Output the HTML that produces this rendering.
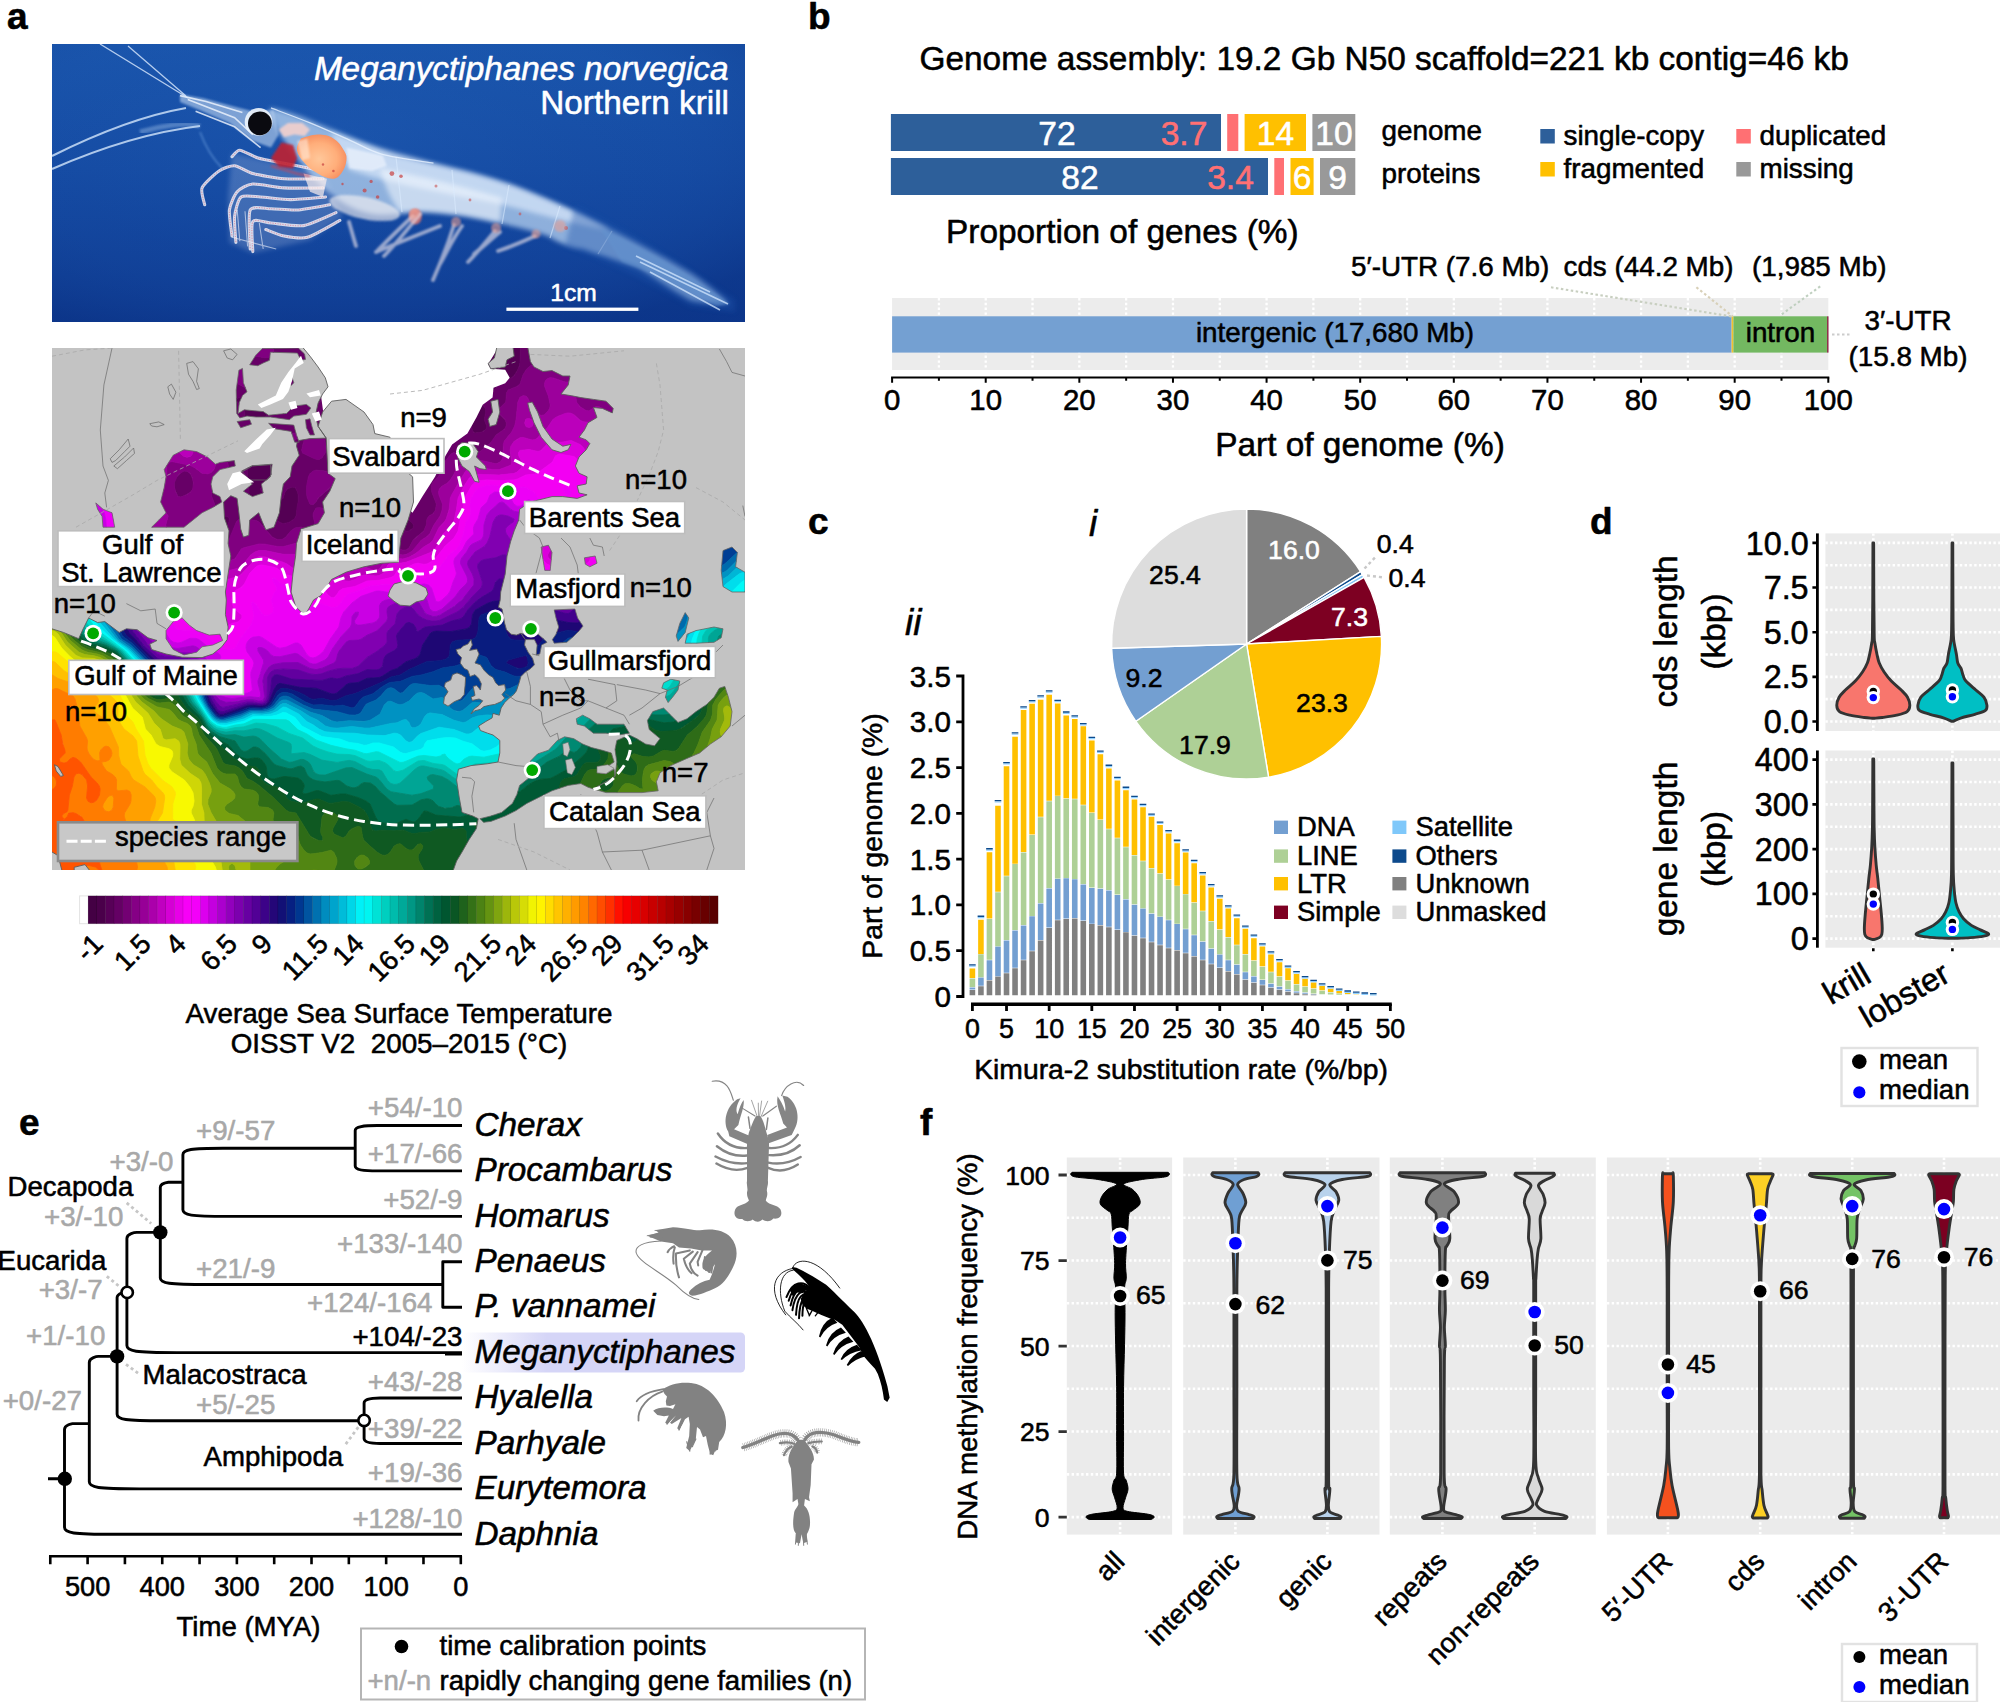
<!DOCTYPE html>
<html lang="en"><head><meta charset="utf-8"><title>Northern krill genome figure</title>
<style>
html,body{margin:0;padding:0;background:#fff;overflow:hidden}
svg{display:block}
text{font-family:"Liberation Sans",sans-serif;stroke-width:.55px;stroke-linejoin:round}
</style></head>
<body>
<svg width="2000" height="1702" viewBox="0 0 2000 1702">
<rect width="2000" height="1702" fill="#fff"/>
<g id="panel_a">
<text x="7" y="28.5" font-size="37" stroke="#000" font-weight="bold">a</text>
<defs><linearGradient id="pbg" x1="0" y1="0" x2="0" y2="1"><stop offset="0" stop-color="#1a56ad"/><stop offset="0.45" stop-color="#154ba3"/><stop offset="1" stop-color="#0e3b92"/></linearGradient><radialGradient id="pvg" cx="0.42" cy="0.35" r="0.75"><stop offset="0" stop-color="#2464bb" stop-opacity="0.3"/><stop offset="0.6" stop-color="#1a50a8" stop-opacity="0.1"/><stop offset="1" stop-color="#0a2f80" stop-opacity="0.45"/></radialGradient><radialGradient id="org" cx="0.45" cy="0.55" r="0.6"><stop offset="0" stop-color="#ffc79a"/><stop offset="0.6" stop-color="#ffae7a"/><stop offset="1" stop-color="#f58a5c"/></radialGradient><filter id="b0" x="-10%" y="-10%" width="120%" height="120%"><feGaussianBlur stdDeviation="0.6"/></filter><filter id="b1" x="-10%" y="-10%" width="120%" height="120%"><feGaussianBlur stdDeviation="1.1"/></filter><filter id="b2" x="-10%" y="-10%" width="120%" height="120%"><feGaussianBlur stdDeviation="2.4"/></filter><clipPath id="pclip"><rect x="52" y="44" width="693" height="278"/></clipPath></defs>
<g clip-path="url(#pclip)">
<rect x="52" y="44" width="693" height="278" fill="url(#pbg)"/>
<rect x="52" y="44" width="693" height="278" fill="url(#pvg)"/>
<path d="M270 108 C290 112 305 118 318 124 C350 136 372 148 396 156 C430 164 470 172 509 184 C540 196 570 209 602 225 C630 239 660 255 690 273 C705 283 720 295 728 303 C716 304 700 303 690 300 C672 290 655 278 639 268 C622 262 600 255 583 249 C570 247 560 244 548 236 C530 230 512 226 498 223 C480 219 465 215 452 214 C438 212 425 211 414 212 C400 214 386 216 372 214 C352 210 336 200 322 186 C306 172 290 150 280 134 C274 124 270 114 270 108 Z" fill="#c2dcf6" opacity="0.7" filter="url(#b2)"/>
<path d="M330 132 C370 146 420 160 470 172 C520 186 570 208 610 230 C580 226 540 214 500 204 C450 194 400 186 350 170 Z" fill="#e6f1ff" opacity="0.6" filter="url(#b2)"/>
<path d="M380 168 C420 176 470 188 502 198 L500 222 C470 216 430 210 400 212 C390 198 384 184 380 168 Z" fill="#f6faff" opacity="0.55" filter="url(#b2)"/>
<path d="M346.4 147.6L382.8 155.4L386.7 165.8L372.4 171L349 168.4Z" fill="#f4f8ff" opacity="0.6" filter="url(#b1)"/>
<path d="M396 157L402 212M452 170L456 214M509 185L502 224M560 206L550 238M612 231L598 254" fill="none" stroke="#dcecff" stroke-width="1.2" opacity="0.55"/>
<path d="M271 107.95C277.5 110.44 297 117.59 310 122.9C323 128.21 337.08 134.6 349 139.8C360.92 145 367.42 150.2 381.5 154.1C395.58 158 424.83 161.68 433.5 163.2" fill="none" stroke="#e8f2ff" stroke-width="1.3" opacity="0.8"/>
<path d="M600 228 C640 246 690 274 730 304 L716 306 C690 292 660 276 622 262 Z" fill="#8fbde9" opacity="0.45" filter="url(#b1)"/>
<path d="M575 205 C620 226 680 262 735 300 L735 312 L690 306 C650 282 610 262 565 246 Z" fill="#1a52aa" opacity="0.38" filter="url(#b2)"/>
<path d="M640 262L728 304M650 272L720 310M636 256L710 292" fill="none" stroke="#d4e8ff" stroke-width="1.6" opacity="0.75" filter="url(#b0)"/>
<path d="M180 94.3L203.4 98.2L232 106L252.8 111.2L273.6 109.9L278.8 134.6L271 147.6L252.8 141.1L229.4 122.9L199.5 109.9L180 102.1Z" fill="#cfe2f8" opacity="0.55" filter="url(#b1)"/>
<path d="M187.8 99.5L234.6 117.7L252.8 134.6M180 95.6L206 101.45L242.4 112.5M195.6 111.2L234.6 126.8L260.6 147.6" fill="none" stroke="#f2f7ff" stroke-width="1.6" opacity="0.8" filter="url(#b0)"/>
<path d="M232 152.8L323 173.6L342.5 216.5L310 239.9L252.8 252.9L229.4 242.5L228.1 197Z" fill="#e8eefc" opacity="0.2" filter="url(#b2)"/>
<path d="M316.5 169.7C312.71 168.94 290.82 164.56 284 163.2C277.18 161.83 263.16 159.52 258 158C252.84 156.48 242.83 150.35 239.8 150.2C236.77 150.05 232.91 155.94 232 156.7M323 178.8C318.45 178.8 292.19 179.41 284 178.8C275.81 178.19 258.56 175.12 252.8 173.6C247.04 172.08 238.54 166.1 234.6 165.8C230.66 165.5 222.79 168.42 219 171C215.21 173.58 203.77 183.96 202.1 187.9C200.43 191.84 204.4 202.83 204.7 204.8M323 187.9C318.45 187.9 292.19 188.35 284 187.9C275.81 187.44 258.26 183.54 252.8 184C247.34 184.46 239.93 188.77 237.2 191.8C234.47 194.83 230.01 204.84 229.4 210C228.79 215.16 231.7 232.97 232 236M325.6 197C321.5 197.3 298.08 199.6 290.5 199.6C282.92 199.6 266.36 197.3 260.6 197C254.84 196.7 244.13 194.72 241.1 197C238.07 199.28 235.21 211.19 234.6 216.5C233.99 221.81 235.75 239.47 235.9 242.5M329.5 204.8C325.71 205.41 303.82 209.55 297 210C290.18 210.45 276.46 208.7 271 208.7C265.54 208.7 252.63 205.3 250.2 210C247.77 214.7 250.2 244.45 250.2 249M336 212.6C332.21 214.12 311.08 224.39 303.5 225.6C295.92 226.81 276.92 223.46 271 223C265.08 222.54 254.92 218.36 252.8 221.7C250.68 225.04 252.8 248.11 252.8 251.6M339.9 220.4C336.11 222.37 313.92 235.48 307.4 237.3C300.88 239.12 288.85 236.91 284 236C279.15 235.09 267.92 230.26 265.8 229.5" fill="none" stroke="#f4f1f6" stroke-width="3.1" opacity="0.82" filter="url(#b0)" stroke-linejoin="round" stroke-linecap="round"/>
<path d="M316.5 169.7C312.71 168.94 290.82 164.56 284 163.2C277.18 161.83 263.16 159.52 258 158C252.84 156.48 242.83 150.35 239.8 150.2C236.77 150.05 232.91 155.94 232 156.7M323 178.8C318.45 178.8 292.19 179.41 284 178.8C275.81 178.19 258.56 175.12 252.8 173.6C247.04 172.08 238.54 166.1 234.6 165.8C230.66 165.5 222.79 168.42 219 171C215.21 173.58 203.77 183.96 202.1 187.9C200.43 191.84 204.4 202.83 204.7 204.8M323 187.9C318.45 187.9 292.19 188.35 284 187.9C275.81 187.44 258.26 183.54 252.8 184C247.34 184.46 239.93 188.77 237.2 191.8C234.47 194.83 230.01 204.84 229.4 210C228.79 215.16 231.7 232.97 232 236M325.6 197C321.5 197.3 298.08 199.6 290.5 199.6C282.92 199.6 266.36 197.3 260.6 197C254.84 196.7 244.13 194.72 241.1 197C238.07 199.28 235.21 211.19 234.6 216.5C233.99 221.81 235.75 239.47 235.9 242.5M329.5 204.8C325.71 205.41 303.82 209.55 297 210C290.18 210.45 276.46 208.7 271 208.7C265.54 208.7 252.63 205.3 250.2 210C247.77 214.7 250.2 244.45 250.2 249M336 212.6C332.21 214.12 311.08 224.39 303.5 225.6C295.92 226.81 276.92 223.46 271 223C265.08 222.54 254.92 218.36 252.8 221.7C250.68 225.04 252.8 248.11 252.8 251.6M339.9 220.4C336.11 222.37 313.92 235.48 307.4 237.3C300.88 239.12 288.85 236.91 284 236C279.15 235.09 267.92 230.26 265.8 229.5" fill="none" stroke="#e0607a" stroke-width="0.8" opacity="0.75" stroke-dasharray="1.1 1.4"/>
<path d="M232 237.3L276.2 249M237.2 210L239.8 241.2M245 211.3L247.6 246.4M259.3 223L263.2 249" fill="none" stroke="#eef2fb" stroke-width="1.1" opacity="0.6"/>
<ellipse cx="364.6" cy="208.05" rx="36" ry="11" transform="rotate(12 364.6 208.05)" fill="#f7f3f3" opacity="0.62" filter="url(#b1)"/>
<path d="M303.5 173.6L326.9 178.8L323 197L310 191.8Z" fill="#fbefee" opacity="0.7" filter="url(#b0)"/>
<ellipse cx="415.3" cy="216.5" rx="6.5" ry="8" fill="#f07868" opacity="0.75" filter="url(#b1)"/>
<path d="M278.8 129.4L287.9 122.9L302.2 122.9L310 129.4L304.8 135.9L294.4 134.6L284 137.2Z" fill="#f8d2cc" opacity="0.85" filter="url(#b1)"/>
<path d="M271 158L281.4 142.4L293.1 145L297 158L293.1 168.4L278.8 167.1Z" fill="#bf2233" opacity="0.9" filter="url(#b1)"/>
<path d="M271 165.8L297 173.6L310 176.2" fill="none" stroke="#d0404f" stroke-width="2.4" opacity="0.6" filter="url(#b1)"/>
<path d="M300.9 138.5C304.28 137.72 311.3 134.6 317.8 134.6C324.3 134.6 328.2 135.38 333.4 138.5C338.6 141.62 341.2 145.78 343.8 150.2C346.4 154.62 346.92 155.92 346.4 160.6C345.88 165.28 344.06 169.96 341.2 173.6C338.34 177.24 336.78 178.8 332.1 178.8C327.42 178.8 323.26 176.72 317.8 173.6C312.34 170.48 308.96 167.88 304.8 163.2C300.64 158.52 297.78 155.14 297 150.2C296.22 145.26 300.12 140.84 300.9 138.5Z" fill="url(#org)" filter="url(#b0)"/>
<path d="M297 141.1L307.4 138.5L310 158L302.2 160.6Z" fill="#fff0e2" opacity="0.55" filter="url(#b1)"/>
<circle cx="364.6" cy="190.5" r="2" fill="#c84040" opacity="0.7"/>
<circle cx="371.1" cy="181.4" r="1.6" fill="#c84040" opacity="0.7"/>
<circle cx="391.9" cy="173.6" r="2.4" fill="#c84040" opacity="0.7"/>
<circle cx="401" cy="176.2" r="1.8" fill="#c84040" opacity="0.7"/>
<circle cx="377.6" cy="197" r="1.8" fill="#c84040" opacity="0.7"/>
<circle cx="333.4" cy="171" r="1.3" fill="#c84040" opacity="0.7"/>
<circle cx="323" cy="164.5" r="1.2" fill="#c84040" opacity="0.7"/>
<circle cx="342.5" cy="184" r="1.2" fill="#c84040" opacity="0.7"/>
<circle cx="436" cy="186" r="1.5" fill="#c85050" opacity="0.6"/>
<circle cx="470" cy="200" r="1.4" fill="#c85050" opacity="0.6"/>
<circle cx="520" cy="214" r="1.4" fill="#c85050" opacity="0.6"/>
<circle cx="566" cy="228" r="2" fill="#c85050" opacity="0.6"/>
<path d="M413 216C400 228 388 240 378 250M420 214C410 226 396 244 384 256M454 225C448 244 440 264 433 280M462 226C452 240 446 254 440 264M495 231C486 242 476 254 468 262M535 236C522 242 510 247 498 251M500 232C490 240 482 248 474 254M349 222C352 232 354 240 356 246M376 252C400 242 420 234 440 226" fill="none" stroke="#ece4ec" stroke-width="3.8" opacity="0.62" filter="url(#b1)" stroke-linecap="round"/>
<circle cx="414" cy="214" r="5" fill="#f0a090" opacity="0.55" filter="url(#b1)"/>
<circle cx="456" cy="222" r="5" fill="#f0a090" opacity="0.55" filter="url(#b1)"/>
<circle cx="496" cy="228" r="5" fill="#f0a090" opacity="0.55" filter="url(#b1)"/>
<circle cx="536" cy="234" r="4.5" fill="#f0a090" opacity="0.55" filter="url(#b1)"/>
<circle cx="560" cy="226" r="6" fill="#f0a090" opacity="0.55" filter="url(#b1)"/>
<circle cx="258.6" cy="121.9" r="13.9" fill="#edf3fb" opacity="0.92"/>
<circle cx="259.9" cy="123.3" r="11.9" fill="#0a0a10"/>
<path d="M188 98L100 44M186 96L128 46" fill="none" stroke="#dcebff" stroke-width="1.3" opacity="0.8"/>
<path d="M186 108C140 116 96 134 52 156M200 126C150 132 100 148 52 169" fill="none" stroke="#d4e7fc" stroke-width="2" opacity="0.8" filter="url(#b0)"/>
<path d="M140 132C160 126 185 122 200 126" fill="none" stroke="#bcd8f6" stroke-width="5" opacity="0.35" filter="url(#b1)"/>
<path d="M200 132C206 148 214 160 222 168" fill="none" stroke="#5f93d6" stroke-width="2" opacity="0.6" filter="url(#b1)"/>
</g>
<text x="728.5" y="79.8" font-size="33.3" text-anchor="end" fill="#fff" stroke="#fff" font-style="italic">Meganyctiphanes norvegica</text>
<text x="729" y="114" font-size="33.3" text-anchor="end" fill="#fff" stroke="#fff">Northern krill</text>
<text x="573.5" y="300.5" font-size="24.6" text-anchor="middle" fill="#fff" stroke="#fff">1cm</text>
<rect x="506.4" y="307.6" width="132" height="3.3" fill="#fff"/>
<defs><clipPath id="mapclip"><rect x="52" y="348" width="693" height="522"/></clipPath>
<clipPath id="inl"><path d="M164.2 469.6L173.2 455.2L184 449.8L196.6 451.6L207.4 457L215.5 464.2L220 462.4L234.4 460.6L235.3 466L220 469.6L212.8 476.8L211 484L212.8 493L220 496.6L221.8 502L212.8 507.4L202 512.8L193 520L184 527.2L151.6 527.2L158.8 520L166 512.8L160.6 502L164.2 487.6L166 476.8ZM95.8 502.9L103 509.2L112 512.8L114.7 527.2L103 527.2L102.1 516.4L97.6 509.2ZM239.8 473.2L252.4 466L272.2 464.2L270.4 476.8L261.4 484L263.2 493L252.4 496.6L243.4 491.2L252.4 484L243.4 476.8ZM249.7 364.8L256 354.9L262.3 348.6L298.3 348.1L304.6 354L305.5 359.4L301 360.3L297.4 353.1L270.4 352.2L269.5 360.3L263.2 363L257.8 365.7ZM236.2 390L238.9 370.2L242.5 368.4L243.4 382.8L247 391.8L242.5 395.4L239.3 402.6L238 413.4L244.3 409.8L263.2 411.6L268.6 415.2L286.6 413.4L293.8 406.2L306.4 404.4L310.9 408L306.4 414.3L293.8 416.1L289.3 419.7L270.4 417L256 417L247 416.1L239.8 417.9L236.7 413.4ZM268.6 423.3L293.8 425.1L296.5 435L299.2 442.2L294.7 442.2L291.1 431.4L274 428.7ZM305.5 419.7L310 418.8L311.8 426L314.5 435L310 435L306.4 427.8ZM241.6 471L252.4 465.6L270.4 464.7L271.3 474.6L266.8 480L249.7 480ZM237.1 421.5L249.7 419.7L251.5 424.2L240.7 427.8ZM288.4 379.2L292 377.4L293.8 382.8L291.1 385.5ZM166 630.6L173.2 621.6L182.2 618L189.4 625.2L196.6 630.6L209.2 635.1L220 634.2L222.7 640.5L212.8 645L202 646.8L196.6 652.2L184 654.9L173.2 649.5L166 638.7ZM480 818.7L490.8 816L501.6 812.4L512.4 803.4L516.9 794.4L519.6 785.4L528.6 778.2L531.3 770.1L530.4 761.1L537.6 753.9L548.4 750.3L557.4 740.4L564.6 736.8L573.6 738.6L582.6 744L591.6 747.6L602.4 750.3L611.4 753L614.1 762L608.7 765.6L598.8 767.4L597 772.8L606 773.7L614.1 769.2L615 776.4L606 781.8L593.4 789L588 787.2L580.8 783.6L568.2 785.4L552 790.8L541.2 796.2L526.8 803.4L516 810.6L505.2 816L490.8 821.4L483.6 822.3ZM593.4 789L606 781.8L615 776.4L616.8 762L615 749.4L616.8 740.4L629.4 735L636.6 738.6L645.6 744L654.6 745.8L660 738.6L649.2 729.6L647.4 720.6L652.8 711.6L663.6 708L670.8 715.2L678 722.4L687 718.8L696 711.6L706.8 704.4L714 697.2L719.4 688.2L724.8 686.4L728.4 697.2L732 711.6L730.2 726L721.2 736.8L710.4 744L699.6 753L687 758.4L670.8 765.6L660 772.8L656.4 781.8L658.2 790.8L642 792.6L624 792.6L606 792.6ZM576.3 718.8L582.6 715.2L589.8 718.8L597 724.2L609.6 724.2L624 724.2L629.4 733.2L618.6 735L606 733.2L593.4 733.2L584.4 726L577.2 724.2ZM554.2 609.9L574.9 609L577.6 618L583 626.1L579.4 630.6L574 636L566.8 642.3L554.2 643.2L552.4 639.6L556 634.2L558.7 627L556 618ZM520.9 633.3L530.8 636L538 634.2L544.3 639.6L547 642.3L541.6 645L539.8 654L536.2 654.9L537.1 645L534.4 639.6L525.4 639.6ZM541.2 547L548.4 545.2L552 552.4L550.2 570.4L544.8 570.4L543 559.6ZM584.4 557.8L595.2 556L597 563.2L589.8 566.8L585.3 564.1ZM723 550.6L732 547L737.4 552.4L735.6 566.8L745 572.2L745 592L732 592L723 586.6L721.2 570.4ZM685.2 612.6L688.8 618L685.2 632.4L678 641.4L676.2 636L679.8 623.4ZM687 634.2L696 630.6L714 627L723 628.8L721.2 637.8L714 642.3L696 643.2L685.2 643.2ZM663.6 682.8L670.8 679.2L679.8 681L678 690L672.6 697.2L668.1 702.6L665.4 697.2L667.2 690L661.8 688.2Z"/></clipPath>
<g id="fld" fill-rule="evenodd" stroke-width="0.8" stroke-linejoin="round"><path fill="#440044" stroke="#440044" d="M379 342L384.6 342L385.7 348L389.2 354L388 355.3L385 356L379 348.9L377.4 342L379 342ZM409 342L414.5 342L412 346L409 347.9L406.9 345L406.6 342L409 342ZM457 342L468.7 342L467.1 348L467.1 357L466.4 360L463 367.2L460 371.6L457 374.4L454 373.3L451 370.4L447.5 366L446.1 363L446.1 360L447.4 357L455 348L456.5 345L457 342ZM487 354.7L489.5 357L489.6 360L487 362.2L484.8 360L485 357L487 354.7ZM367 359L370 358L379 358.8L380.7 360L380 363L377.2 366L373 367.7L370 366.9L366.9 363L366.3 360L367 359ZM433 362.8L435.3 366L434.8 369L431.8 372L430 372.7L427 372.2L426.4 372L426.7 369L428.1 366L430 363.2L433 362.8ZM406 371.4L412 369.2L415 369.4L422 372L423.5 375L422.1 378L419.9 381L415 385.3L412 386.8L409 387.2L406 385.5L403.7 381L403 378L403.2 375L406 371.4ZM451 377.7L457 375.7L460 376.9L463 379.1L464.3 381L464.9 384L462.8 390L457 397.7L454 400L451 400.8L448 400.5L444.7 399L442.6 396L441.4 390L441.9 384L443.9 381L451 377.7Z"/><path fill="#540054" stroke="#540054" d="M283 342L287.1 342L286 343.4L283 343.4L282.4 342L283 342ZM307 342L324.6 342L323.6 345L319 349.6L313 352.4L310 351.6L307 349.2L304.8 345L304.2 342L307 342ZM340 343.3L341.9 342L377.4 342L379 348.9L385 356L388 355.3L389.2 354L385.7 348L384.6 342L406.6 342L406.9 345L409 347.9L412 346L414.5 342L441.3 342L442 345.1L443.6 342L457 342L456.5 345L455 348L447.4 357L446.1 360L446.1 363L447.5 366L451 370.4L454 373.3L457 374.4L460 371.6L463 367.2L466.4 360L467.1 357L467.1 348L468.7 342L520.5 342L520 363L518.2 369L514 375.7L511 378.3L502 380.1L500.6 381L499 382.4L494.7 390L493 391.7L490 392.7L487 392.2L478 385.4L475 385.5L471.6 390L470.8 396L472 397.9L481 403.1L485.2 408L485.8 411L484.4 420L486.7 426L486.1 429L482 432L475 433.1L473.4 432L472 429.5L471 423L469.7 420L466 415.1L463 413.1L460 412.8L456.5 414L452.3 420L448 421.8L445 424.7L443.9 429L443.3 438L442 444.7L439 452.5L433 458.8L427 462.1L424 462.5L422.8 456L421 452.5L400 443.1L397 443.5L396 447L398.7 456L400.6 468L400.6 471L399.1 474L397 475.8L391 478.3L382 479.2L379 479.1L376 477.9L370 470.1L361 466.7L352 460.5L348.7 456L349.7 453L352 451.5L358 450.2L360.5 447L360.4 444L358 435L358.6 432L362.3 426L362.6 423L361 421.5L355 418.3L349.9 414L344.6 408L341 399L338.3 396L334 393.8L331 393.4L328 394L325 396L319 402.4L316 404L313 403.3L296.8 381L298 378.3L301 377.5L313 376L322 377.6L331 377.6L334 376.6L336 375L337.8 372L338 369L331.2 357L330.4 354L330.5 351L332.4 348L340 343.3ZM485 357L484.8 360L487 362.2L489.6 360L489.5 357L487 354.7L485 357ZM366.3 360L366.9 363L370 366.9L373 367.7L376 366.8L379 364L380 363L380.7 360L379 358.8L370 358L367 359L366.3 360ZM431.1 363L430 363.2L428.1 366L426.7 369L426.4 372L430 372.7L433 371.4L434.8 369L435.3 366L433 362.8L431.1 363ZM405.2 372L403.2 375L403 378L403.7 381L406 385.5L409 387.2L412 386.8L416.7 384L419.9 381L423.5 375L422 372L415 369.4L412 369.2L409 369.9L405.2 372ZM450.5 378L445 380.1L442 383.8L441.3 387L442 394L444.7 399L448 400.5L451 400.8L455.4 399L463 389.6L464.9 384L464.3 381L463 379.1L460 376.9L457 375.7L450.5 378ZM356.8 381L356 384L358 385.7L361 386L365.1 384L365 381L364 380.1L361 379.2L356.8 381ZM374.4 399L372 405L372.3 408L376 409.9L379 409.6L382 408.2L383.9 405L383.6 402L382 399.2L379 397.1L376 397.4L374.4 399ZM397.6 423L393.8 426L392.8 429L397 433.9L400 432.7L401.9 429L402.2 426L401.3 423L400 421.6L397.6 423ZM375.3 459L373.9 462L374.4 465L376 466L379.1 465L380.7 462L380.7 459L379 457L375.3 459ZM250 395.9L256 395.9L262 397.4L271 396.1L274 397.1L277 399.7L283.8 408L284.4 411L283 414.6L280 414.6L274 412.3L271 412.2L267.3 414L265.3 417L262 419.1L256 418.6L247 420.7L244 420.1L245 414L244.4 411L242.8 408L237.4 402L235.7 399L238 397.9L250 395.9ZM265 458.4L268 458L271 459.8L272.8 462L278.7 471L279.9 477L279.3 480L277 483L268 483.6L262.6 486L260.4 489L261.7 492L268 495.9L277 499.3L280 499.8L283 498.4L285 492L287.3 489L292 487L295 487.6L297.6 492L298.2 495L298.3 501L296.9 510L296.1 516L294.2 519L289 522.4L283 523.7L279.3 522L268 512.9L262 511L248.2 510L244.5 507L245 504L247.7 498L249.1 492L247.1 471L248.3 465L250 461.6L253 459.8L259 459.7L265 458.4ZM394 488.5L397 486.9L400 487.1L403.4 489L405.2 492L406 495L405.9 498L403 501.2L400 500.4L397 498.4L393.5 495L392.6 492L394 488.5ZM376 495.2L379 495.2L382.3 498L383 501L382 503.9L379 505.9L376 506.4L373.4 504L373 500.9L374 498L376 495.2ZM400 513L403 514.3L412 522.7L413.5 525L413.2 528L408.7 531L406 531.2L403 529.5L396 522L395.1 519L395.7 516L397 514L400 513ZM223 518.7L226 516.1L229 517.5L229.3 519L229 522L226.6 528L223.1 534L220 535.9L217.4 534L217.7 531L223 518.7Z"/><path fill="#670067" stroke="#670067" d="M220 342L223 342L221.7 345L220 345.7L218.5 342L220 342ZM277 342L282.4 342L283 343.4L286 343.4L287.1 342L304.2 342L304.8 345L307 349.2L310 351.6L313 352.4L316 351.4L321 348L323.6 345L324.6 342L341.9 342L332.4 348L330.5 351L330.4 354L331.2 357L338 369L337.8 372L336 375L334 376.6L331 377.6L322 377.6L313 376L301 377.5L298 378.3L296.8 381L313 403.3L316 404L319 402.4L325 396L328 394L331 393.4L334 393.8L338.3 396L341 399L344.6 408L349.9 414L355 418.3L361 421.5L362.6 423L362.3 426L358.6 432L358 435L360.4 444L360.5 447L358 450.2L352 451.5L349.7 453L348.7 456L352 460.5L361 466.7L370 470.1L376 477.9L379 479.1L382 479.2L388 478.8L394 477.3L399.1 474L400.6 471L398.7 456L396 447L397 443.5L400 443.1L421 452.5L422.8 456L424 462.5L427 462.1L433 458.8L439 452.5L442 444.7L443.3 438L443.9 429L445 424.7L448 421.8L452.3 420L456.5 414L460 412.8L463 413.1L466 415.1L469.7 420L471 423L472 429.5L473.4 432L475 433.1L481 432.3L484 430.9L486.1 429L486.7 426L484.4 420L485.8 411L485.2 408L481 403.1L472 397.9L470.8 396L470.7 393L472 389.1L475 385.5L478 385.4L487 392.2L490 392.7L493 391.7L496 388L499 382.4L500.6 381L502 380.1L511 378.3L514 375.7L517 371.3L519.4 366L520 363L520.5 342L544 342L541.1 351L535.8 357L535.2 363L529 366.8L526 369.9L523 375L520 384L517 386.4L508.2 390L506.5 393L505.8 402L499.8 408L498.7 411L499.5 414L505.3 420L506.4 423L506.2 426L504.6 429L496.1 435L492.1 441L490 443.6L478.2 453L463 456.3L460 455.9L454 452.5L451 454L445 461.4L442.8 465L440.1 474L438.1 477L433 482L431.4 486L431.8 492L436.4 504L435.5 510L433 513.7L428.9 516L427 519L426.3 525L423.8 531L415 538L413.2 540L409 548L406 549.9L403 550.2L400 549.3L394 544.8L391 543.8L382 546.9L379 546L373.5 540L369.8 534L361 527L359.4 522L359.3 510L358 509.6L352 512.7L349 513L346 511.4L343 507.3L340 504.9L337 505.1L331 508.2L328 508.8L319 507.7L316 508L313.3 513L313.1 516L315.2 525L313.7 528L310 529.5L301 527.1L295 528L290.7 531L285.9 537L283 539.1L280 539.8L277 539.4L272.2 537L259 521.9L256 520.5L241 518.4L238 519.9L236.4 522L230.4 537L226 543.4L223 545.3L220 545.9L214 545.4L211 544.2L206.1 540L206 537L211.2 525L214.5 510L214.6 504L211.1 495L211.9 492L217 485.5L226 479.1L228.5 471L228.6 468L227.2 459L229 454.8L238 445.1L239.8 444L241 441.6L247 443L250 442.2L252.3 438L251.4 435L250 434.8L244.2 438L241 440.8L238 440.3L232 435.8L226.2 426L220.9 420L220 417.9L219.7 414L220.9 408L219.6 405L208 393.4L202 393.6L200.5 393L199 391.4L199 388.2L202 385.7L207.2 390L208 391.8L211 390.9L220 385.5L232 381.8L235 382.3L244 387.1L247 388L253 388.1L259.6 387L263.7 384L263.5 381L253 374.1L247.1 369L245.2 366L245.8 363L250 359L253 357.1L256 356.3L265 357.7L273 357L274.5 342L277 342ZM274.3 360L272.7 372L273.4 378L277 380L280 379.3L281.4 378L283 376.3L284.6 372L283.3 360L280 357.6L277 357.5L274.3 360ZM249.5 396L238 397.9L235.7 399L237.4 402L242.8 408L244.4 411L245 414L244 420.1L247 420.7L256 418.6L262 419.1L265 417.5L267.3 414L271 412.2L274 412.3L280 414.6L283 414.6L284.4 411L283.8 408L277 399.7L274 397.1L271 396.1L262 397.4L256 395.9L249.5 396ZM301 426L301.2 426L301 426ZM324.3 426L322.6 435L319 436.7L307 436.8L305.2 438L303 444L301.7 450L302.5 453L315.6 459L319 459.4L322 457.7L325.2 453L325.9 447L324.3 438L328 432.6L328.7 429L327.1 426L325 424.8L324.3 426ZM283.5 435L278.9 438L278.2 441L280 444.6L283 445.6L286 445.3L292 442.8L297.2 438L298.6 435L298 434.1L295 433.1L292 433.2L283.5 435ZM262.9 459L253 459.8L250 461.6L248.3 465L247.1 471L249.1 492L247.7 498L245 504L244.5 507L248.2 510L262 511L268 512.9L279.3 522L283 523.7L289 522.4L294.2 519L296.1 516L297.1 507L298.3 501L298.2 495L297.6 492L295 487.6L292 487L287.3 489L285 492L283 498.4L280 499.8L277 499.3L268 495.9L261.7 492L260.4 489L262.6 486L268 483.6L277 483L279.3 480L279.9 477L278.7 471L271 459.8L268 458L262.9 459ZM313.5 471L310 473.6L308.4 477L306.4 489L307 496.9L310 504L313 504.7L316 501.8L319 497.2L328.8 489L334 483L335.8 477L335.3 474L334 472.7L331 471.8L319 470.3L316 470.2L313.5 471ZM393.6 489L392.6 492L393.5 495L400 500.4L403.4 501L405.9 498L406 495L405.2 492L403.4 489L400 487.1L397 486.9L393.6 489ZM358.1 492L358.3 495L361 502.1L361.4 501L364 499.4L364.9 495L364 491.3L361 490.6L358.1 492ZM374 498L373 501L373.4 504L376 506.4L379 505.9L382 504L383 501L382.3 498L379 495.2L376 495.2L374 498ZM400 513L397 514L395.7 516L395.1 519L396 522L403 529.5L406 531.2L409 531L413.2 528L413.5 525L412 522.7L403 514.3L400 513ZM222.8 519L217.7 531L217.4 534L220 535.9L223 534.1L224.9 531L229 522L229.3 519L229 517.5L226 516.1L222.8 519ZM442 342L443.6 342L442 345.1L441.3 342L442 342ZM559 342L574.5 342L572.6 348L570.3 351L565 354.9L562 351.9L558.3 342L559 342ZM598 342L615.5 342L613.1 351L610 353.9L607 355L604 354.9L601 352.3L597.3 345L596.5 342L598 342ZM562 356.9L563 360L562 362.9L559 364.6L556.9 363L558.4 360L562 356.9ZM358 380L361 379.2L364 380.1L365 381L365.1 384L364 384.9L361 386L358 385.7L356 384L356.8 381L358 380ZM601 382.6L604 381.3L613 382.3L616 383.5L619 385.8L621.3 390L620.8 396L619 399.4L616 400L604.9 396L598 393.2L589 397.3L585.9 396L585.7 393L587.9 390L589 389.2L592 388.7L595 389.2L598 387.2L601 382.6ZM376 397.4L379 397.1L382 399.2L383.6 402L383.9 405L382.3 408L379 409.6L376 409.9L372.3 408L372 405L372.8 402L376 397.4ZM400 421.6L401.3 423L402.2 426L401.9 429L400.4 432L397 433.9L394.8 432L392.8 429L393.8 426L400 421.6ZM376 458.2L379 457L380.7 459L380.7 462L379 465.1L376 466L374.4 465L373.9 462L376 458.2ZM181 472.4L184 471L187 471.3L190.6 474L192.9 480L193.4 486L192.7 489L190.6 492L185.6 495L181 497.1L178 496.6L174.8 489L174.2 483L175.2 480L176.8 477L181 472.4ZM199 518.5L202 517.7L203.5 519L202 520.4L199 519.6L199 518.5ZM340 521.2L343 520.6L346 521.1L352.5 528L352.7 531L348.2 534L342.6 534L337.4 531L334.9 528L334.9 525L337 522.7L340 521.2Z"/><path fill="#800080" stroke="#800080" d="M178 342L186.8 342L186.4 345L184 348.5L181 346.8L178 343.9L176.5 342L178 342ZM214 342L218.5 342L220 345.7L221.7 345L223 342L232.9 342L235 347.1L238 349.7L239.8 348L238.9 342L259.9 342L262 346.1L265 347.1L267.5 345L268.5 342L274.5 342L273 357L265 357.7L256 356.3L253 357.1L250 359L245.8 363L245.2 366L247.1 369L253 374.1L263.5 381L263.7 384L259.6 387L253 388.1L247 388L244 387.1L235 382.3L232 381.8L220 385.5L211 390.9L208 391.8L207.2 390L202 385.7L199 388.2L199 391.4L200.5 393L202 393.6L208 393.4L219.6 405L220.9 408L219.7 414L220 417.9L220.9 420L226.2 426L232 435.8L238 440.3L241 440.8L244.2 438L250 434.8L251.4 435L252.3 438L250 442.2L247 443L241 441.6L239.8 444L238 445.1L229 454.8L227.2 459L228.6 468L228.5 471L226 479.1L217 485.5L211.9 492L211.1 495L214.6 504L214.5 510L211.2 525L206 537L206.1 540L209 543L214 545.4L220 545.9L223 545.3L226 543.4L229 539.5L236.4 522L238 519.9L241 518.4L256 520.5L259 521.9L272.2 537L277 539.4L280 539.8L283 539.1L285.9 537L290.7 531L295 528L301 527.1L310 529.5L313.7 528L315.2 525L313.1 516L313.3 513L316 508L319 507.7L328 508.8L331 508.2L337 505.1L340 504.9L343 507.3L346 511.4L349 513L352 512.7L358 509.6L359.3 510L359.4 522L361 527L369.8 534L373.5 540L379 546L382 546.9L391 543.8L394 544.8L399.3 549L403 550.2L406 549.9L409 548L413.2 540L423.8 531L426.3 525L427 519L428.9 516L433 513.7L435.5 510L436.4 504L431.8 492L431.4 486L433 482L438.1 477L440.1 474L442.8 465L444.5 462L451 454L454 452.5L460 455.9L463 456.3L478.2 453L490 443.6L496.1 435L504.6 429L506.2 426L506.4 423L505 419.5L499.5 414L498.7 411L499.8 408L505.8 402L506.5 393L508.2 390L517 386.4L520 384L523 375L526 369.9L529 366.8L535.2 363L535.8 357L541.1 351L544 342L558.3 342L562 351.9L565 354.9L571 350.5L574 345L574.5 342L580.5 342L580.9 348L582.9 357L581.7 360L574 364.9L570.4 369L569.7 372L571.2 378L570.4 381L568 382.1L565 382L553 377.9L550 377.7L547 379L545.3 381L544.5 384L544.9 387L548.4 396L550.3 405L549.8 408L548.1 411L544 415L541 415.5L535 411.7L531.5 408L528.3 399L526 396.1L523 395.8L520 397.3L517.9 402L516 420L514.7 426L511.7 432L504.4 441L503.1 447L503.2 456L502.4 459L500.1 462L496 463.8L481 460.5L475 460.5L467.9 462L460 465.3L456.7 468L454 474.2L450.3 480L447.4 483L442 486.3L439.4 489L438.6 492L439 495L442.5 504L442.1 510L440.1 516L433.9 525L429.6 534L427 536.5L421 540.4L414.4 549L409 553.4L403 555L391 553.2L385 555.8L376 561.4L373 561.4L364 558.9L357.2 558L355 556.1L354.5 555L358.2 549L358.4 546L356.8 543L355 541.8L352 541L346 541.7L342.2 543L338.9 546L337 549.1L334 551.3L322 548.5L319 549.2L313 552.2L310 552.3L307 551.1L298 544.3L295 543.5L283 546.7L277 546.4L265 544.2L259 544L244 547.7L241.3 549L235 558.7L232 560.1L226 561.1L221.7 561L217 559.9L208 556.6L199 551.8L196 551.1L190 551.9L181 556L178 555.5L173.7 552L171.9 549L171.2 546L171.2 537L166.4 528L165.7 525L168.2 516L166.1 513L157 508.8L155 507L153.4 504L153.5 501L155 498L162.9 492L164.2 489L166.7 474L166.8 465L169 462.2L172 461.6L187 464.6L193 466.6L202 473.2L208 473.8L211 472.5L214 469.4L218.7 456L223.2 450L224.5 447L223.8 444L223 443.2L217 439.8L215.5 438L214.7 432L213.6 429L208 421.5L206.2 420L201.6 411L196 406.8L193 403.2L191.1 399L189.8 393L190.5 378L191.7 375L196 370L199 368.2L202 367.9L211 369.4L214 369.1L217.6 366L217.7 363L212 348L211.7 342L214 342ZM561.9 357L558.4 360L556.9 363L559 364.6L561.9 363L563 360L561.9 357ZM179.2 474L176.8 477L174.2 483L174.2 486L175.7 492L178 496.6L181 497.1L187 494.4L190.6 492L192.7 489L193.4 483L192.1 477L190 473.3L187 471.3L184 471L179.2 474ZM198.7 519L202 520.4L203.5 519L202 517.7L198.7 519ZM338.1 522L334.9 525L334.9 528L337.4 531L343 534.1L349 533.7L352.7 531L352.5 528L349 523.7L346 521.1L343 520.6L338.1 522ZM592 342L596.5 342L598 346.8L601 352.3L604 354.9L607 355L610 353.9L613 351.2L615.5 342L623.2 342L624.7 348L630.9 354L631.5 357L628.9 363L628 366L628.1 369L629.1 372L631 374.9L637 381.1L638.4 384L638.3 387L635.6 393L633.7 402L626.7 414L625 417.7L622.5 420L619 421L616 420.8L608.6 417L605.3 414L601 407.4L598 406.3L595 407.1L589 410.9L586 410.5L580 406.7L576.4 402L575.8 396L578.4 387L580.2 384L586 377.5L588.5 372L588.2 366L584 357L586 356.5L589 349.3L589.3 342L592 342ZM599.7 384L598 387.2L595 389.2L592 388.7L589 389.2L587.9 390L585.7 393L585.9 396L589 397.3L598 393.2L607 396.8L616 400L619 399.4L621.5 393L621.3 390L620 387L616 383.5L610 381.7L604 381.3L601 382.6L599.7 384ZM277 357.5L280 357.6L283 359.4L284.4 366L284.6 372L283.7 375L280 379.3L277 380L274 378.6L272.6 375L274.3 360L277 357.5ZM193 419.5L196 418.2L199.5 420L199 420.6L196 421.4L193 420.1L193 419.5ZM301 426L301 426.1L301 426ZM325 424.8L328 426.9L328.7 429L328 432.6L324.3 438L325.9 447L325.2 453L322 457.7L319 459.4L316 459.2L313 458L302.5 453L301.7 450L304 440.4L305.2 438L307 436.8L319 436.7L322.6 435L323.5 429L325 424.8ZM286 434.3L295 433.1L298 434.1L298.6 435L297.2 438L294.4 441L290.1 444L283 445.6L279.4 444L278.2 441L278.9 438L283 435.2L286 434.3ZM316 470.2L331 471.8L334 472.7L335.3 474L335.8 477L334 483L331.7 486L318.1 498L316 501.8L313 504.7L310 504L307.3 498L306.4 492L306.6 486L308.4 477L309.7 474L313 471.1L316 470.2ZM361 490.6L364 491.3L364.9 495L364 499.4L361.4 501L361 502.1L358.3 495L358.1 492L361 490.6Z"/><path fill="#9c009c" stroke="#9c009c" d="M148 342L176.5 342L181 346.8L184 348.5L186.4 345L186.8 342L202 342.5L211.7 342L212.8 351L217.7 363L217.6 366L214.3 369L211 369.4L202 367.9L199 368.2L194 372L191.7 375L190.5 378L189.8 393L191.1 399L193 403.2L196 406.8L201.6 411L206.2 420L208 421.5L213.6 429L214.7 432L215.5 438L217 439.8L223.8 444L224.5 447L223.2 450L218.7 456L214 469.4L211 472.5L208 473.8L202 473.2L195.2 468L190 465.3L172 461.6L169 462.2L166.8 465L166.7 474L164.2 489L162.9 492L157 496.1L155 498L153.5 501L153.4 504L155 507L157 508.8L166.1 513L168.2 516L165.7 525L166.4 528L171.2 537L171.2 546L171.9 549L175 553.5L178 555.5L181 556L190 551.9L196 551.1L199 551.8L208 556.6L217 559.9L221.7 561L226 561.1L232 560.1L235 558.7L241.3 549L244 547.7L259 544L265 544.2L277 546.4L283 546.7L295 543.5L298 544.3L307 551.1L310 552.3L313 552.2L319 549.2L322 548.5L334 551.3L337 549.1L338.9 546L342.2 543L346 541.7L352 541L355 541.8L356.8 543L358.4 546L358.2 549L354.5 555L357.2 558L364 558.9L373 561.4L376 561.4L385 555.8L391 553.2L402.6 555L406 554.6L412 551.3L421 540.4L427 536.5L430 533.4L433.9 525L440.1 516L442.1 510L442.5 504L439 495L438.6 492L439.4 489L442 486.3L447.4 483L450.3 480L454 474.2L456.7 468L460.3 465L472 460.9L481 460.5L496 463.8L499 462.8L502 459.7L503.2 456L503.4 444L504.4 441L511.7 432L514.7 426L516 420L517.9 402L520 397.3L523 395.8L526 396.1L528.3 399L531.5 408L535 411.7L541 415.5L544 415L548.1 411L549.8 408L550.3 405L548.4 396L544.9 387L544.5 384L545.3 381L547 379L550 377.7L553 377.9L565 382L568 382.1L570.4 381L571.2 378L569.7 372L570.4 369L574 364.9L581.7 360L582.9 357L580.9 348L580.5 342L589.3 342L589 349.3L586 356.5L584 357L588.2 366L588.7 369L587.6 375L578.4 387L575.8 396L576.4 402L580 406.7L586 410.5L589 410.9L595 407.1L598 406.3L601.5 408L605.3 414L608.6 417L613.7 420L619 421L622.5 420L625 417.7L628 410.9L633.7 402L635.6 393L638.3 387L638.4 384L637 381L629.1 372L628 366L631.5 357L630.9 354L624.7 348L623.2 342L647.9 342L648.5 345L650.2 348L655.6 354L655.8 357L654.3 360L651.9 363L644.8 369L644.4 372L649.3 381L649.5 387L645.8 396L642.1 408L636.5 414L632.4 423L616 429.1L613 429.5L604 428.4L601 427.5L593.5 423L583 421.7L580 420.2L574 414.7L571 413.3L568 412.9L559 415.8L553 419.4L547 428.3L541 433.5L537.6 438L535 439.7L532 440L523 437.4L520 437.8L517 439.2L514 441.6L510.5 447L510.2 453L511.9 462L511 465.1L499 469.7L493 469.7L475 466.8L469 468.3L465.7 471L458.3 483L450.3 498L449.7 507L446.2 519L444.3 522L438.7 528L433.2 540L430 543.2L424 546.8L417.9 552L409 557.3L403 559L394 558.2L388 559.5L385 561.7L379 569.2L376 570.3L373 570L364 566.7L358 566.2L354.3 567L349 570.7L346 571.5L331 562.5L325 562.1L316 565.8L313 565.8L308.9 564L298 555.6L295 554.4L283 554.3L265 550.5L259 550.5L255 552L250.6 555L243.5 564L238 568.3L226 571.6L208 579.8L205 580L196 578.3L190 578.4L184 576.2L178 571L160.4 546L152.6 528L151.9 516L147.2 504L147.4 498L148.6 495L156.9 486L158.2 483L159 477L158.1 474L154.2 468L155.3 462L158.8 456L166 450.9L172 448.3L175 448.7L184 456.5L187 457.2L190 456.8L191.2 456L192.9 453L193 450L190 442.1L187 439.8L178 439.3L173.4 432L169 427.3L160 425.1L157 422.5L153.1 417L152.1 411L153.5 402L162 393L162.7 390L161.4 384L161.9 381L163.9 378L170.3 372L171.4 369L171.9 363L171.4 360L169 356.3L166 355.9L157 357.3L154 355.8L148 342ZM175.9 387L172.7 390L171.9 393L173.7 396L178 399.2L181 398.3L181.6 396L181.6 390L181 388.2L179.8 387L178 386.2L175.9 387ZM192.8 420L196 421.4L199.5 420L196 418.2L192.8 420ZM525.4 420L524.7 423L526 426.6L529 427.6L532.5 426L533.3 423L532 419.9L529 418.4L526 419.1L525.4 420ZM235 342L238.9 342L239.8 348L238 349.7L235 347.1L232.9 342L235 342ZM262 342L268.5 342L267.5 345L265 347.1L262 346.1L259.9 342L262 342ZM673 367.2L676 368.1L677.9 372L677.7 375L676 376.8L673 376.1L670 372L671 369L673 367.2ZM595 440L596 441L595 441.7L594.2 441L595 440Z"/><path fill="#bb00bb" stroke="#bb00bb" d="M142 342L147.7 342L154 355.8L157 357.3L166 355.9L169 356.3L171.4 360L171.9 363L171.4 369L170.3 372L163.9 378L161.9 381L161.4 384L162.7 390L162 393L153.5 402L152.1 411L153.1 417L157 422.5L160 425.1L169 427.3L173.4 432L178 439.3L187 439.8L190 442.1L193 450L192.9 453L191.2 456L187 457.2L183.2 456L175 448.7L172 448.3L163 452.7L160 454.8L156.6 459L154.4 465L154.2 468L158.1 474L159 477L159 480L156.9 486L148.6 495L147 501L147.9 507L151.9 516L152.6 528L154 532.3L162.1 549L174.7 567L180 573L184 576.2L190 578.4L196 578.3L205 580L211 578.8L217 575.3L229 570.5L238 568.3L243.5 564L250.6 555L255 552L259 550.5L265 550.5L283 554.3L295 554.4L298 555.6L308.9 564L313 565.8L316 565.8L325 562.1L331 562.5L346 571.5L349 570.7L354.3 567L358 566.2L364 566.7L373 570L376 570.3L379 569.2L385 561.7L388 559.5L394 558.2L403 559L409 557.3L415 554L424 546.8L430 543.2L433 540.2L438.7 528L444.3 522L446.2 519L449.1 510L450.3 498L451.6 495L465.7 471L469 468.3L475 466.8L493 469.7L499 469.7L511 465.1L511.9 462L510.1 450L511 445.9L514 441.6L520 437.8L523 437.4L532 440L535 439.7L537.6 438L541 433.5L547 428.3L553 419.4L556 417.2L565 413.5L568 412.9L571 413.3L574 414.7L580 420.2L583 421.7L593.5 423L601 427.5L604 428.4L613 429.5L616 429.1L631 423.9L632.4 423L636.5 414L642.1 408L645.8 396L649.5 387L649.3 381L644.4 372L644.8 369L652 362.9L655.8 357L655.6 354L650.2 348L648.5 345L647.9 342L657 342L658 343.4L661 344.7L664 342L680.5 342L682 346.9L685.6 354L685 360L685 366L691 387L691.2 390L690.3 393L688 395.7L685 397.4L682 397.6L675.4 390L670 386.7L667 386.3L665.7 390L666.8 399L666.4 402L664 403.8L658 403.2L655 403.9L654.2 405L653.6 408L654.7 417L653.7 423L653.6 432L652.6 435L649 439.3L646 441.5L643 442.4L634 440.6L631 441.4L627.1 456L625 459.7L622 461.2L619 460.6L613 457.1L607 455.3L604 455.5L595 458.1L592 457.9L589 455.9L583 447.2L580 444.5L571 440.4L562 442.2L550 442.5L547 444.2L541 450.6L538 451.4L529 449.6L520 450.4L518.4 453L518.9 456L522.1 462L522.5 465L521.3 468L517 472.1L514 473.4L499 475.1L475 474.2L472 475.4L469 478.4L464.1 486L458.1 498L456.4 510L453.1 525L451 528.3L445 531.9L443.2 534L436 547.5L433 550.7L430 552.7L406 562.3L400 563.2L391 562.8L388 564.8L383.8 573L379 575.6L376 576L364 575L361 575.7L355 579.5L349 581.4L343 580.6L340 578.4L334 571.6L331 569.7L328 569.2L325 569.7L316 573.2L310 573.1L295 569.8L287 564L283 562.2L265 556.9L259 556.8L256 558.4L241 574.6L238 576.4L226 580L222.3 582L219.6 585L218.6 588L219.7 591L223 596.1L224.3 600L224.9 609L224.3 612L223 614L220 615.9L217 616.4L214 615.9L211 614.5L196 603.9L187 593.6L182 585L175 578.7L168.9 570L155.7 555L146.1 540L143 525L143.2 516L142 509.6L137.9 501L130.6 492L129.3 489L128.9 480L125.3 471L125.5 468L127 464.7L130 461.2L138.1 456L139.6 453L141 447L139.3 441L136 436L134.5 432L134.4 429L137.3 420L138.4 414L137.6 411L131.7 402L132 396L135.8 387L135.7 384L122 369L120.8 366L120.9 363L124 359.4L130 361.1L133 361.2L136 359.5L139 355.1L140.3 351L139.8 342L142 342ZM671 369L670 372L671.7 375L673 376.1L676 376.8L677.7 375L677.9 372L676.7 369L676 368.1L673 367.2L671 369ZM594.2 441L595 441.7L596 441L595 440L594.2 441ZM202 342L202.8 342L202 342.5L199.6 342L202 342ZM178 386.2L181 388.2L181.8 393L181 398.3L177.7 399L173.7 396L171.9 393L172.7 390L175 387.5L178 386.2ZM526 419.1L529 418.4L532.1 420L533.3 423L532 426.6L529 427.6L526 426.6L524.7 423L526 419.1ZM571 539.4L574.3 543L571.9 546L568 547.1L565 547.5L562.1 546L564.7 543L571 539.4ZM550 550.5L553 549.2L556 550L556.8 552L554.8 558L553 559.5L550 559.4L548.4 558L547.6 555L550 550.5Z"/><path fill="#db00db" stroke="#db00db" d="M97 342L109 342L109.2 345L112 346.7L115 344.3L116.4 342L139.8 342L140.3 351L139 355.1L136 359.5L133 361.2L130 361.1L124 359.4L120.9 363L120.8 366L122 369L135.7 384L135.8 387L132 396L131.7 402L137.6 411L138.4 414L137.3 420L134.4 429L134.5 432L136 436L139.3 441L141 447L139.6 453L138.1 456L130 461.2L127 464.7L125.5 468L125.3 471L128.9 480L129.3 489L130.6 492L137.9 501L142 509.6L143.2 516L143 525L145.3 537L146.1 540L154 552.5L157 556.8L168.9 570L175 578.7L182 585L187 593.6L196 603.9L211 614.5L214 615.9L217 616.4L221.7 615L224.3 612L224.9 609L224.3 600L223 596.1L219.7 591L218.6 588L219.6 585L222.3 582L226 580L238 576.4L241 574.6L256 558.4L259 556.8L265 556.9L283 562.2L287 564L295 569.8L310 573.1L316 573.2L325 569.7L328 569.2L331 569.7L334 571.6L340 578.4L343 580.6L349 581.4L355 579.5L361 575.7L364 575L376 576L379 575.6L383.8 573L388 564.8L391 562.8L400 563.2L406 562.3L430 552.7L433 550.7L436 547.5L443.2 534L445 531.9L451 528.3L453.1 525L456.4 510L458.1 498L464.1 486L469 478.4L472 475.4L475 474.2L499 475.1L514 473.4L517 472.1L521.3 468L522.5 465L522.1 462L518.9 456L518.4 453L520 450.4L529 449.6L538 451.4L541 450.6L547 444.2L550 442.5L562 442.2L571 440.4L580 444.5L583 447.2L589 455.9L592 457.9L595 458.1L604 455.5L607 455.3L613 457.1L619 460.6L622 461.2L625 459.7L627.1 456L631 441.4L634 440.6L643 442.4L646 441.5L649 439.3L652.6 435L653.6 432L653.7 423L654.7 417L653.6 408L654.2 405L655 403.9L658 403.2L664 403.8L666.4 402L666.8 399L665.7 390L667 386.3L670 386.7L675.4 390L682 397.6L685 397.4L688 395.7L690.3 393L691.2 390L691 387L685 366L685.6 354L682 346.9L680.5 342L730.2 342L729.5 345L727.4 348L718 352.5L713.2 357L712 366.5L703 368.8L700 371L698.5 378L700.1 393L699.8 399L695 414L693 417L685 424.2L679 428.5L676 429.5L670 429L667 429.8L664 432.2L661 436.2L656.4 444L655.1 450L654.9 459L652.2 462L646 460.1L643 460.1L640 461.1L633.7 468L622 476.3L619 476L616.8 474L613 472.7L612.3 474L613 475.3L622 482.9L622.2 486L612.9 495L606.7 504L598 511.7L595.1 516L592.4 525L592.9 537L589.8 549L589.5 552L590.3 558L589.6 561L586 564.4L583 565.4L580 564.9L574 560.8L571 559.7L568 559.9L565 560.8L556 566.4L553 566.7L546.8 564L544 561L542.6 558L542.8 540L544 538.3L546.3 537L555.7 534L559.5 531L560.9 528L560.9 519L562 516.2L565 514.5L574 512.5L581 510L583 508.4L586 503.9L589 501.1L594.3 498L596.4 495L596.6 492L593 477L592.2 474L590.2 471L580.3 465L577 459.3L574 456.5L559 454.1L555.3 456L552.5 462L538 472.7L535 474.1L526 474.9L517 479.2L514 479.9L502 480.6L487 479.9L478 480.8L475 482.1L471.4 486L464.8 498L464 501L463.6 510L460 520.5L458.1 531L454 538L445 546.3L436 557.8L430 562.4L427 563.9L424 564.4L418 563.2L413.9 564L406 567.9L399.2 570L397 571.3L394 576L391 577.5L379 580.3L367 581L355 586.4L343 588.6L339.1 591L337 594.5L334 597.7L331 597.5L327.1 594L325 590.9L322 588.7L316 586.8L309.4 582L304 579.1L286 574.7L277 568.4L274 567.2L262 564.9L259 565.2L256 566.7L249.9 573L244 584.5L241 587.5L235 590.8L232.8 594L231.7 600L233.1 606L235 609.3L241.9 615L241.9 618L238 621.9L232 623.4L229 625.1L227.3 627L226 630L225.2 636L223 637.7L220 636.7L214 632.4L205 623L202 621L199 620.3L193 621.1L190 620.6L187.7 618L186.3 612L184.3 609L175 604.9L172 602.9L166 597L164.2 594L163.8 591L165.1 579L163 573.9L149.6 561L145 554.2L142 551.6L136 548.6L133 544.5L129.3 534L127.5 525L127.7 522L133 513L133 510L130 504.5L127 502.8L121 502.1L119.5 501L118.4 498L119.7 486L118 481.5L112.6 474L111.3 471L111 468L112 465L117.3 459L118.4 456L117.9 453L114.9 447L112.6 438L106.9 426L105.3 420L108.3 402L109 400.6L111.3 399L117.2 396L118.2 393L112.2 378L112.7 360L109 348.2L103 349.5L100 348.8L96.6 345L95.6 342L97 342ZM569.7 540L564.7 543L562.1 546L565 547.5L571 546.3L574.3 543L572 540L571 539.4L569.7 540ZM549.1 552L547.6 555L548.4 558L550 559.4L553 559.5L554.8 558L556 555.5L556.8 552L556 550L553 549.2L550 550.5L549.1 552ZM658 342L664 342L661 344.7L658 343.4L657 342L658 342Z"/><path fill="#f300f3" stroke="#f300f3" d="M91 342L95.6 342L97 345.8L100 348.8L103 349.5L109 348.2L112.1 357L112.8 363L112.2 378L118.2 393L117.2 396L111.3 399L109 400.6L108.3 402L105.3 420L106.9 426L112.6 438L114.9 447L117.9 453L118.4 456L117.3 459L112 465L111 468L111.3 471L112.6 474L118 481.5L119.7 486L118.4 498L119.5 501L121 502.1L127 502.8L130 504.5L133 510L133 513L127.7 522L127.5 525L129.3 534L133 544.5L136 548.6L142 551.6L145 554.2L149.6 561L163 573.9L165.1 579L163.8 591L164.2 594L166 597L172 602.9L175 604.9L184.3 609L186.3 612L187.7 618L190 620.6L193 621.1L199 620.3L202 621L205 623L214 632.4L220 636.7L223 637.7L225.2 636L226 630L227.3 627L229 625.1L232 623.4L238 621.9L241.9 618L241.9 615L235 609.3L233.1 606L231.7 600L232.8 594L235 590.8L241 587.5L244 584.5L249.9 573L256 566.7L259 565.2L262 564.9L274 567.2L277 568.4L286 574.7L304 579.1L309.4 582L316 586.8L322 588.7L325 590.9L327.1 594L331 597.5L334 597.7L337 594.5L339.1 591L343 588.6L355 586.4L367 581L379 580.3L391 577.5L394 576L397 571.3L399.2 570L406 567.9L413.9 564L418 563.2L424 564.4L427 563.9L430 562.4L436 557.8L445 546.3L454 538L458.1 531L460 520.5L463.6 510L464 501L464.8 498L471.4 486L475 482.1L478 480.8L487 479.9L502 480.6L514 479.9L517 479.2L526 474.9L535 474.1L538 472.7L552.5 462L555.3 456L559 454.1L574 456.5L577 459.3L580.3 465L590.2 471L592.2 474L593 477L596.6 492L596.4 495L594.3 498L589 501.1L586 503.9L583 508.4L581 510L574 512.5L565 514.5L562 516.2L560.9 519L560.9 528L559.5 531L555.7 534L546.3 537L544 538.3L542.8 540L542.6 558L544 561L546.8 564L553 566.7L556 566.4L565 560.8L568 559.9L571 559.7L574 560.8L580 564.9L583 565.4L586 564.4L589.6 561L590.3 558L589.5 552L589.8 549L592.9 537L592.4 525L595.1 516L598 511.7L606.7 504L612.9 495L622.2 486L622 482.9L613 475.3L612.3 474L613 472.7L616.8 474L619 476L622 476.3L633.7 468L640 461.1L643 460.1L646 460.1L652.2 462L654.9 459L655.1 450L656.4 444L664 432.2L667 429.8L670 429L676 429.5L679 428.5L686.5 423L693 417L695 414L699.8 399L700.1 393L698.5 378L699.5 372L702.6 369L706 368L712 366.5L713.2 357L718 352.5L727.4 348L729.5 345L730.2 342L738.8 342L741.1 348L750.1 360L751 363.8L748 365.5L736 367.4L733.9 369L733.2 372L733.3 381L731.6 387L730 389.6L724 394.2L722.8 396L715.9 408L711.3 420L709 423.1L706 424.6L697 426.4L692.1 429L690.1 432L688.9 441L685.8 447L682 448.5L670 444.3L667 444.1L664 446.6L663.2 453L666.9 468L666.2 474L664 482.3L661 485.2L652 487L648.8 495L646 498.5L643 498.8L637 496.5L634 496.3L628.1 498L625.5 501L623.3 507L623 510L624.2 516L624.1 519L619.7 528L617.3 540L616 542.8L610.1 549L609.6 561L608.9 564L607 567.1L604 568.4L595 569.1L583 573L580 572.8L571 568.3L568 567.9L559 571.4L556 571.9L553 571.5L547 568.6L541.5 564L539.5 561L535.5 540L535.7 537L538 532.7L541 530.7L549 528L551.3 525L552.8 510L551.9 507L550 505.4L541 501.2L533.6 492L526 487.4L523 487L514 488.4L493 485.1L487 485.3L481 487.2L478 488.8L475 491.8L471.2 498L469.9 504L470.4 513L469.8 516L466 522.2L463.3 534L458.8 546L456.4 549L448.7 555L442 564.1L434.6 573L431.3 576L418 578.7L409 583.4L403 585.1L385 584.6L370 585.9L358 590.9L348.2 594L344.6 597L340 604.3L337 606.6L334 607.5L331 607.3L322 604L319 603.7L313 605.2L310 603.8L304.3 591L301 588.3L291.8 585L283 583.8L280 582.5L274 577.8L272.5 579L273.3 582L276.5 588L276 591L274 593L271.3 600L273.6 609L273.3 612L269 615L265 615.4L262 613.5L256 604.6L253 601.9L251.6 603L253.8 615L253.6 618L251.5 624L240.1 639L235.3 648L232 649.6L229 649.6L223 647.9L218 645L209.7 639L202 632.2L199 630.7L180.1 630L178 629.6L175.1 627L166.6 609L156.5 597L155.8 594L156.9 585L156 582L154 579.3L146.7 573L136 568.6L133.3 564L131 558L121.4 546L120.1 543L118 531L114.2 522L110.8 510L107.2 501L107.2 498L109.5 492L109.7 489L109 486.6L106 483.4L97 477.1L94.9 474L94.5 471L95.3 468L101.2 453L105.7 444L105.9 441L98.8 426L98 423L99.3 411L98.3 408L97 406.8L88 403.1L86.6 399L88.4 393L96 381L97.7 372L97.5 369L96.1 366L91.5 360L90.6 357L89.5 342L91 342ZM564 486L563.1 489L565 493.6L568 495.8L570.5 495L571 492L568 487.5L565 485.5L564 486ZM109 342L116.4 342L114.1 345L112 346.7L109.2 345L109 342ZM235 662.6L238 662.3L239.8 666L241.1 681L240.3 684L238 685.9L235 686.4L232 685.3L230.7 684L229.8 681L228.8 672L228.9 669L230.5 666L235 662.6Z"/><path fill="#ed00f6" stroke="#ed00f6" d="M85 342L89.5 342L91 358.5L93.5 363L96.1 366L97.5 369L97.7 372L96 381L88.4 393L86.6 399L88 403.1L97 406.8L98.3 408L99.3 411L98 423L98.8 426L105.9 441L105.7 444L101.2 453L95.3 468L94.5 471L94.9 474L97 477.1L106 483.4L109 486.6L109.7 489L109.5 492L107.2 498L107.2 501L110.8 510L114.2 522L118 531L119.4 540L121 545.1L131 558L133.3 564L136 568.6L146.7 573L154 579.3L156 582L156.9 585L155.8 594L156.5 597L166.6 609L175.1 627L178 629.6L180.1 630L199 630.7L202 632.2L209.7 639L218 645L223 647.9L229 649.6L232 649.6L235.3 648L240.1 639L251.5 624L253.6 618L253.8 615L251.6 603L253 601.9L256 604.6L262 613.5L265 615.4L269 615L273.3 612L273.6 609L271.3 600L274 593L276 591L276.5 588L273.3 582L272.5 579L274 577.8L280 582.5L283 583.8L291.8 585L301 588.3L304.3 591L310 603.8L313 605.2L319 603.7L322 604L331 607.3L334 607.5L337 606.6L340 604.3L344.6 597L348.2 594L358 590.9L370 585.9L385 584.6L403 585.1L409 583.4L418 578.7L431.3 576L434.6 573L442 564.1L448.7 555L456.4 549L458.8 546L463.3 534L466 522.2L469.8 516L470.4 513L469.9 504L471.2 498L475 491.8L478 488.8L481 487.2L487 485.3L493 485.1L514 488.4L523 487L526 487.4L533.6 492L541 501.2L550 505.4L551.9 507L552.8 510L551.3 525L549 528L541 530.7L538 532.7L535.7 537L535.5 540L539.5 561L541.5 564L547 568.6L553 571.5L556 571.9L559 571.4L568 567.9L571 568.3L580 572.8L583 573L595 569.1L604 568.4L607 567.1L608.9 564L609.6 561L610.1 549L616 542.8L617.3 540L619.7 528L624.1 519L624.2 516L623 510L623.3 507L625.5 501L628.1 498L634 496.3L637 496.5L643 498.8L646 498.5L648.8 495L652 487L661 485.2L664 482.3L666.2 474L666.9 468L663.2 453L664 446.6L667 444.1L670 444.3L682 448.5L685 447.7L688 443.4L690.1 432L692.1 429L697 426.4L706 424.6L709.1 423L712 418.5L715.9 408L722.8 396L724 394.2L730 389.6L731.6 387L733.3 381L733.2 372L733.9 369L736 367.4L748 365.5L751 363.8L751 375.9L745 376.1L742 378.3L740.5 384L741 396L740.3 399L737.5 402L730 403.9L727 406.1L720.3 420L717.3 429L715 433L712 438L711.2 441L711.2 444L714.1 453L714.3 456L713.2 459L712 460.2L709 461.8L706 461.9L697 458.9L682 458.2L676 455.5L673 455.3L672.7 459L675.5 468L674.3 480L672.7 486L670 490.3L667 493L657.5 498L655.2 501L649 513L646 515.4L640 517.3L637 520.1L634 525L630.8 534L630.2 537L631.5 546L630.4 549L619 561L615.1 570L613 572.6L610 574.8L604 576.5L595 576.4L586 579L580 579.9L568 577.5L556 577.6L550 575.3L547 573.4L538.6 567L536 564L532 552.5L527.2 543L526.9 540L527.6 537L530.9 531L540.8 522L542.8 519L543.5 516L543 513L540.8 510L532 501.6L529 499.8L526 500.8L523.7 504L520 506.2L517 506.2L513.8 504L510.7 498L508 494.8L502 492.1L494.6 492L490 495L487 502.3L481 507.9L478 519L474.3 525L473.4 528L473.8 534L467.8 540L466 542.4L462.8 549L454.9 558L453.9 561L454 564L456.4 573L455.8 576L453 582L450.1 591L448 594.4L442 599.9L439 601.9L436 601.6L431.5 588L428.7 585L424 583.8L418.5 585L409 589.9L403 591.7L394 593.1L379.4 591L376 591.1L361 596.3L352 602.9L343.7 612L340.9 618L338.8 627L330.2 639L323.7 651L319 655.3L316 657.1L313 657.9L310 657.3L307 654.7L301 645L298 643L295 643L286 647.1L280 648.2L277 647.4L262 637.4L259 636.4L253 637.1L250 638.8L247.3 642L246.2 645L246 648L247 651.7L252.9 660L253.9 663L253.4 666L251 672L250.7 675L252.4 690L250 692.1L247.4 693L238 694.1L232 693.9L223 691.8L220 690L219.4 687L220.9 678L217.7 666L218.2 663L220.9 657L219.6 654L208 646.8L199 639.6L196 638.4L190 638.3L181 642.4L178 643L173.1 642L169 638.3L164 630L159.8 618L157 615L151 611.5L143.4 600L142.6 597L143.3 588L141.6 585L130 574.8L124 559.7L112.7 546L106.7 531L105.7 519L104.3 513L102.9 510L93.9 501L90.3 495L87.4 486L85.6 477L85.3 471L87.7 459L92 447L92 441L85 431.3L78.2 420L76 418.3L73 417.2L64 415.5L61.9 414L60.4 411L61.5 408L72.9 402L73.9 399L73.7 390L74.9 381L79.8 369L79 365.3L76 362.9L70 365.8L67 366.4L61 365.5L59.1 363L59.5 360L61 356.5L64 352.5L67 351.4L76 353.3L79 351.8L82.2 348L83.8 342L85 342ZM294.9 606L294 609L295 609.7L295.7 609L294.9 606ZM234.5 663L230.5 666L228.9 669L229.8 681L230.7 684L232 685.3L235 686.4L238 685.9L240.3 684L241.1 681L239.8 666L238 662.3L234.5 663ZM739 342L751 342L751 362.1L750.1 360L741.1 348L739 342ZM565 485.5L568 487.5L571 492L570.5 495L568 495.8L565 493.6L563.1 489L564 486L565 485.5Z"/><path fill="#ca00e4" stroke="#ca00e4" d="M49 342L83.8 342L82.2 348L79 351.8L76 353.3L67 351.4L64 352.5L61 356.5L59.5 360L59.1 363L61 365.5L67 366.4L70 365.8L76 362.9L79 365.3L79.8 369L74.9 381L73.7 390L73.9 399L72.9 402L61.5 408L60.4 411L61.9 414L64 415.5L73 417.2L76 418.3L78.2 420L85 431.3L92 441L92 447L88 457.9L85.6 468L85.3 474L86.2 480L88 488.5L91.9 498L94 501.2L102.9 510L104.3 513L105.7 519L106.7 531L112.7 546L124 559.7L130 574.8L141.6 585L143.3 588L142.6 597L143.4 600L151 611.5L157 615L159.8 618L164 630L169.5 639L173.1 642L178 643L181 642.4L190 638.3L196 638.4L199 639.6L208 646.8L219.6 654L220.9 657L218.2 663L217.7 666L220.9 678L219.4 687L220 690L223 691.8L232 693.9L238 694.1L247.4 693L250 692.1L252.4 690L250.7 675L251 672L253.4 666L253.9 663L252.9 660L247 651.7L246 648L246.2 645L247.3 642L250 638.8L253 637.1L259 636.4L262 637.4L277 647.4L280 648.2L286 647.1L295 643L298 643L301 645L307 654.7L310 657.3L313 657.9L316 657.1L319 655.3L323.7 651L330.2 639L338.8 627L340.9 618L343.7 612L352 602.9L361 596.3L376 591.1L379.4 591L394 593.1L403 591.7L409 589.9L418.5 585L424 583.8L428.7 585L431.5 588L436 601.6L439 601.9L442 599.9L448 594.4L450.1 591L453 582L455.8 576L456.4 573L454 564L453.9 561L454.9 558L462.8 549L466 542.4L467.8 540L473.8 534L473.4 528L474.3 525L478 519L481 507.9L487 502.3L490 495L494.6 492L502 492.1L508 494.8L510.7 498L513.8 504L517 506.2L520 506.2L523.7 504L526 500.8L529 499.8L532 501.6L540.8 510L543 513L543.5 516L542.8 519L540.8 522L530.9 531L527.6 537L526.9 540L527.2 543L532 552.5L536 564L538.6 567L547 573.4L550 575.3L556 577.6L568 577.5L580 579.9L586 579L595 576.4L604 576.5L610 574.8L613 572.6L615.1 570L619 561L630.4 549L631.5 546L630.2 537L630.8 534L634 525L637 520.1L640 517.3L646 515.4L649 513L655.2 501L657.5 498L667 493L670 490.3L672.7 486L674.3 480L675.5 468L672.7 459L673 455.3L676 455.5L682 458.2L697 458.9L706 461.9L709 461.8L712 460.2L713.2 459L714.3 456L714.1 453L711.2 444L711.2 441L712 438L717.3 429L720.3 420L723.5 414L725.7 408L728.2 405L733 403.2L737.5 402L740.3 399L741 396L740.4 387L741.1 381L742.2 378L745 376.1L751 375.9L751 393.1L745 405.6L735.6 414L730.7 429L724 433.5L720 438L718.9 441L719 444L722 453L721.9 456L720.8 459L718.7 462L715 465.2L709 468.1L700 469.7L697.2 471L690.9 477L689.2 480L690.2 486L688.6 489L682 490.2L677.1 495L674 501L671.1 510L669.3 513L666.5 516L658.9 522L653.7 528L649 540L642.9 549L631 559.8L625.5 567L616 576.9L610 581.5L598 588.1L589 589L577 588.1L565 585.5L556 584.6L547 582.2L544 580.6L539.5 576L535 572.6L532 568.7L527.2 558L521.2 549L517.6 537L517.2 534L518.1 531L521.3 528L529 523.1L532.7 519L533.2 516L532 513.6L529 511.8L520 512.3L514 511.2L511 509.5L505 503.5L502 501.9L499 502.9L490 511.1L487 514.7L483.9 525L483.7 534L483 537L481 539.9L472 544.2L470 546L466.5 552L461.7 558L460.5 561L460.6 564L466.7 576L467.6 579L467.4 582L466 584.2L460 589.9L454.9 597L442 609L436 611.7L433 611.4L429.7 609L427 599.9L424 594.9L421 593.1L418 592.9L385 600.3L382 601.8L380.7 603L379.4 606L379.7 615L379.2 618L376 621.6L373 622.9L361 625L358 625.1L355.2 624L354.4 621L358.2 615L358.4 612L355 612.4L352 616.5L351.6 624L350.3 627L341.6 636L332.9 648L328 657.2L325 660L316 664L313 664.1L309.7 663L298 654L295 653.3L280 656.7L274 656.5L271 654.9L267.8 651L265 649L262 647.6L259 647.4L257.8 648L257.9 651L263.5 660L262.8 666L259.4 675L257.9 681L258.1 684L260.6 693L260.6 696L259 697.6L250 696.7L232 698.4L223 696.8L220 695.4L217 692.4L215.3 687L215 678L213.4 672L208 661.7L199 648.7L196 646.6L193 645.8L178 648.4L173.6 648L169 646.2L159.6 639L151 628.8L142 620.3L135.1 603L135.6 591L134.6 588L124 576L118.7 567L115.1 558L100 537L98.6 531L98.7 522L97.4 516L93.3 510L82.4 498L80.4 495L79 489L79 477L76.6 459L75.7 456L63.7 441L62.8 438L63.2 429L61.9 426L58 421.4L52 410.6L49 406.9L46 405.3L46 396.6L52 395.8L58 397.1L60.9 396L59.7 393L57.4 390L54.4 381L52.7 378L49 375.1L46 373.9L46 342L49 342ZM295 606L295.7 609L295 609.7L294 609L295 606Z"/><path fill="#a500ca" stroke="#a500ca" d="M48.8 375L52.7 378L54.4 381L57.4 390L59.7 393L60.9 396L58 397.1L52 395.8L46 396.6L46 387.8L46.9 387L47.7 384L46 381.1L46 373.9L48.8 375ZM751 393.1L751 416.3L746.7 420L745.8 423L748 424.1L751 424L751 438.2L745 439.1L735.4 444L732.9 447L731.7 456L729.7 459L723.6 465L712.2 474L706.3 480L703 486L698.5 504L695.3 510L692.8 513L688 517L676 520.8L673 522.8L670.9 525L669.5 528L669.2 531L671 534L670 536.6L667 534.2L664 534.5L661 536.2L655.7 543L652 553L649 557.5L640 561.2L636.7 564L632.5 570L624.4 576L616 585.5L604 594L601 595.5L595 596.7L589 596.4L577 594.3L556 595.4L544 592.7L538 589.7L529 578.7L524.2 564L515.8 552L512.8 543L506.4 534L505.4 531L505.9 528L508.8 525L513.2 522L514.1 519L508 516L502 514.8L499 515.2L496 517L493 522.4L489.7 537L487 543.1L484 546.5L475 552L468 561L467.5 564L468.4 567L472 573.3L474.1 579L473.8 585L471.9 588L458.9 603L442 614.1L436 616.4L430 615.9L427 614.4L424.4 612L419.3 603L415 600L409 599.2L404 600L391 605.2L389.4 606L387.2 609L387.8 618L386.6 621L379 628.9L376 631.3L367 635.2L361 639.2L358 640.1L349 640.5L346 642.2L339.1 651L337.7 654L336.3 660L334 663L331 664.7L319.7 669L316 669.6L310 668.4L298 662.5L283 662.7L274 664.3L271 665.6L267.4 669L263.3 678L262.9 684L264.6 693L263.7 699L262 700.7L259 701.1L253 699.7L247 699.6L229 702.3L223 701.7L220 700.2L217 697.6L214 693L212.4 687L211.3 678L209.5 672L205 665.4L196 656.4L193 654.1L190 652.9L172 652.4L166.5 651L160 648.3L151 640.8L139 626.2L129.6 606L129.1 600L130.1 594L129.8 591L128.5 588L124 582.8L113.5 573L111.7 570L111.1 561L110.1 558L108.1 555L99.5 546L95.2 540L93.2 534L93.2 525L91.6 519L85 508.7L76 499.9L69.5 489L68.8 486L70.8 477L69.7 471L61 455.3L51.3 447L50.6 444L53.1 435L53.2 429L49.5 417L46 412.6L46 405.3L49 406.9L52 410.6L57.1 420L61 425.2L63.2 429L62.8 438L63.7 441L73.6 453L75.7 456L76.6 459L79.3 480L79 489L80.4 495L82.4 498L93.3 510L97.4 516L98.7 522L98.6 531L100 537L115.1 558L118.7 567L124 576L134.6 588L135.6 591L135.1 603L142 620.3L151 628.8L159.6 639L169 646.2L173.6 648L178 648.4L193 645.8L196 646.6L199 648.7L208 661.7L213.4 672L215 678L215.9 690L217.4 693L220 695.4L226 697.6L232 698.4L250 696.7L259 697.6L260.6 696L260.6 693L258.1 684L257.9 681L263.5 663L263.5 660L257.9 651L257.8 648L259 647.4L262 647.6L265 649L267.8 651L271 654.9L274 656.5L280 656.7L295 653.3L298 654L309.7 663L313 664.1L316 664L325 660L328 657.2L332.9 648L341.6 636L350.3 627L351.6 624L352 616.5L355 612.4L358.4 612L358.2 615L354.4 621L355.2 624L358 625.1L361 625L373 622.9L376 621.6L379.2 618L379.7 615L379.4 606L380.7 603L382 601.8L385 600.3L418 592.9L421 593.1L424 594.9L427 599.9L429.7 609L433 611.4L436 611.7L442 609L454.9 597L460 589.9L466 584.2L467.4 582L467.6 579L466.7 576L460.6 564L460.5 561L461.7 558L466.5 552L470 546L472 544.2L481 539.9L483 537L483.7 534L483.9 525L487 514.7L490 511.1L499 502.9L502 501.9L505 503.5L511 509.5L514 511.2L520 512.3L529 511.8L532 513.6L533.2 516L532.7 519L529 523.1L521.3 528L518.1 531L517.2 534L517.6 537L521.2 549L527.2 558L532 568.7L535 572.6L539.5 576L544 580.6L547 582.2L556 584.6L565 585.5L577 588.1L589 589L598 588.1L610 581.5L616 576.9L625.5 567L631 559.8L642.9 549L649 540L653.7 528L658.9 522L666.5 516L669.3 513L671.1 510L674 501L677.1 495L682 490.2L688.6 489L690.2 486L689.2 480L690.9 477L697.2 471L700 469.7L706 468.8L712 466.9L718.7 462L721.9 456L722 453L719 444L718.9 441L720 438L724 433.5L730.7 429L735.6 414L745 405.6L751 393.1ZM673 536L673 537.5L670.4 537L673 536Z"/><path fill="#8100b1" stroke="#8100b1" d="M47.7 384L46.9 387L46 387.8L46 387L46 381.1L47.7 384ZM47.5 414L49.5 417L53.2 429L53.1 435L50.6 444L51.3 447L61 455.3L69.7 471L70.8 477L68.8 486L69.5 489L76 499.9L85 508.7L91.6 519L93.2 525L93.2 534L95.2 540L99.5 546L108.1 555L110.1 558L111.1 561L111.7 570L113.5 573L124 582.8L128.5 588L129.8 591L130.1 594L129.1 600L129.6 606L139 626.2L151 640.8L160 648.3L166.5 651L172 652.4L190 652.9L193 654.1L196 656.4L205 665.4L209.5 672L211.3 678L213 690L215.8 696L220 700.2L226 702.3L235 701.8L247 699.6L253 699.7L259 701.1L262 700.7L263.7 699L264.6 696L262.8 681L264.2 675L268 668.2L271 665.6L274 664.3L283 662.7L298 662.5L310 668.4L316 669.6L322 668.2L334 663L336.3 660L337.7 654L339.1 651L346 642.2L349 640.5L358 640.1L361 639.2L367 635.2L376 631.3L379 628.9L386.6 621L387.8 618L387 612L387.2 609L388 607.6L389.4 606L396 603L406 599.6L412 599.3L415 600L419.3 603L424.4 612L427 614.4L433 616.5L436 616.4L440.2 615L454.8 606L461.9 600L473.8 585L474.1 579L472 573.3L468.4 567L467.5 564L468 561L475 552L484 546.5L487 543.1L489.7 537L493 522.4L496 517L499 515.2L502 514.8L508 516L514.1 519L513.2 522L508.8 525L505.9 528L505.4 531L506.4 534L512.8 543L515.8 552L524.2 564L529 578.7L538 589.7L544 592.7L556 595.4L577 594.3L589 596.4L595 596.7L601 595.5L604 594L616 585.5L624.4 576L632.5 570L636.7 564L640 561.2L649 557.5L652 553L655.7 543L661 536.2L664 534.5L667 534.2L670 536.6L671 534L669.2 531L669.5 528L670.9 525L673 522.8L676 520.8L688 517L692.8 513L695.3 510L698.5 504L704.2 483L712.2 474L723.6 465L729.7 459L731.7 456L732.9 447L735.4 444L742 440.3L745 439.1L751 438.2L751 470.7L748 471.9L733 474.2L730 475.7L725.8 480L718 482.6L713.2 486L709.5 492L708.5 498L708.9 504L708.1 507L706 510L694 519.3L684.8 525L682 528L681.9 531L683.9 537L683.7 540L682.2 543L679 545.8L676 546.8L664 544.9L661 546.3L659.3 549L656.7 558L655 561.4L652 564.4L647 567L643.4 570L638.6 576L633.3 579L629.9 582L628.8 585L628.2 591L625 593.5L614.6 597L601 603.5L595 603.3L582.1 600L577 599.4L574 600L568 604.3L565 605.5L550 603.6L547 602.7L538 597.5L530.7 591L525.7 585L522.1 579L519.1 567L517.7 564L511 558L505 554.7L502 555L496 557.6L484 559.5L480.7 561L478 563.7L477.5 567L482.3 582L482.2 585L481 588L472 596.9L463 607.5L457 612L439 620.5L433 621.1L427 620.1L422.1 618L418.2 615L412 607.6L409 606.3L406 606.7L400 610.1L397 613.8L395.1 624L388.6 630L386.9 633L387.1 642L385.2 645L376 652L367 657.4L358 666.3L352 668.4L343 668.2L337 668.9L328 671.2L322 673.6L316 674.6L310 673.9L298 669.8L283 668.9L274 669.9L270.7 672L268.5 675L267.4 678L267.1 696L266.3 699L264 702L262 702.9L259 703.1L253 701.9L247 701.9L223 707.4L220 706.3L214 698.9L211 691.7L207.7 675L205 669.9L202 666.6L196 661.9L187 657.4L181 656.4L166 656.4L160 655.2L157.5 654L145.5 642L134.6 627L130 617.7L123 606L122.1 603L122.2 600L123.8 594L123.7 591L122.3 588L118 583.5L107.7 576L105.4 573L104.9 570L106.3 561L105.1 558L95.1 549L85.4 537L83.9 534L86.8 525L85.3 519L79 511.2L69.5 504L63 495L60.6 489L61 477L60.6 474L58.9 471L55 467.7L46 464.8L46 412.6L47.5 414ZM670.4 537L673 537.5L673.4 537L673 536L670.4 537ZM751 416.3L751 424L748 424.1L745.8 423L746.7 420L751 416.3Z"/><path fill="#62009f" stroke="#62009f" d="M46.5 465L55 467.7L58.9 471L60.6 474L61 477L60.6 489L63 495L69.5 504L79 511.2L85.3 519L86.8 525L83.9 534L85.4 537L95.1 549L105.1 558L106.3 561L104.9 570L105.4 573L107.7 576L118 583.5L122.3 588L123.7 591L123.8 594L122.2 600L122.1 603L123 606L136.6 630L148 644.8L157.5 654L160 655.2L166 656.4L181 656.4L187 657.4L196 661.9L202 666.6L205 669.9L207.7 675L211 691.7L214 698.9L220 706.3L223 707.4L247 701.9L253 701.9L259 703.1L262 702.9L264 702L266.3 699L267.1 696L267.4 678L268.5 675L270.7 672L274 669.9L283 668.9L298 669.8L310 673.9L316 674.6L322 673.6L328 671.2L337 668.9L343 668.2L352 668.4L358 666.3L367 657.4L376 652L385.2 645L387.1 642L386.9 633L388.6 630L395.1 624L397 613.8L400 610.1L406 606.7L409 606.3L412 607.6L418.2 615L422.1 618L427 620.1L433 621.1L439 620.5L457 612L463 607.5L472 596.9L481 588L482.2 585L482.3 582L477.5 567L478 563.7L480.7 561L484 559.5L496 557.6L502 555L505 554.7L511 558L517.7 564L519.1 567L522.1 579L525.7 585L530.7 591L538 597.5L547 602.7L550 603.6L565 605.5L568 604.3L574 600L577 599.4L582.1 600L595 603.3L601 603.5L614.6 597L623.9 594L628.2 591L628.8 585L629.9 582L633.3 579L638.6 576L643.4 570L647 567L652 564.4L655 561.4L656.7 558L659.3 549L661 546.3L664 544.9L676 546.8L679 545.8L682.2 543L683.7 540L683.9 537L681.9 531L682 528L684.8 525L694 519.3L706 510L708.1 507L708.9 504L708.5 498L709.5 492L713.2 486L718 482.6L725.8 480L730 475.7L733 474.2L748 471.9L751 470.7L751 483.2L742 484L737.8 486L733 489.8L724 492.2L721 494.2L720.2 501L713.9 513L711.8 519L709 522.5L699.6 528L694.4 537L685 550.5L679 554.4L676 555.1L670 554.7L667 555.2L664.6 558L659.7 570L660.2 573L662.5 579L661.4 582L647.2 594L638 600L619 615.2L613 616.1L600.1 615L595 613.1L586 607.9L580 605.7L576.9 606L571 612L568 613.6L565 613.3L556 610.6L547 613L544 613.3L541 612.5L538 610.2L529.8 600L518.3 591L514.6 585L511.5 582L505 579.2L499 578.9L495.5 582L493.9 588L492.2 591L481 597.6L475 602.2L468.4 609L463 617.3L460 618.9L451 621.1L442 625.1L424.8 627L418 631.6L416.4 630L415.4 627L413.2 624L409 622.3L406 623.1L397.7 633L396.4 636L397.8 645L397.2 648L394 650.6L387.3 654L385 656.2L383.5 660L382.6 666L379 669.3L376 669.9L367 669.5L358 673.6L346 675.9L340 678.3L337 678.8L331 677.8L322 680.4L292 679.1L279.1 675L277 674.6L274 675.2L271.8 678L270.6 690L268.5 699L266.7 702L265 703.4L262 704.6L253 703.7L247 703.9L223 711.7L219.4 711L217 708.4L211.1 699L208.5 690L206.2 678L203.5 672L200.9 669L193 663.7L184 660.2L178 659.6L166 661L163 660.7L157 658L143.4 645L132 630L127 620.5L116.8 606L115 600L115.4 591L114 588L111 585L100 576.9L97.5 573L97.2 570L98.8 564L98.5 561L91 555.4L85.1 546L78.1 540L75.5 537L73.4 531L74.4 522L73.9 519L71.5 516L61 511.6L58 509.8L55.7 507L54.6 504L54.3 492L53.2 483L51.1 477L49 474.5L46 472.8L46 464.8L46.5 465Z"/><path fill="#42018c" stroke="#42018c" d="M48.4 474L51.1 477L53.2 483L54.3 492L54.6 504L55.7 507L58 509.8L61 511.6L71.5 516L73.9 519L74.4 522L73.4 531L75.5 537L78.1 540L85.1 546L91 555.4L98.5 561L98.8 564L97.2 570L97.5 573L100 576.9L111 585L114 588L115.4 591L115 600L116.8 606L127 620.5L133 631.4L143.4 645L157 658L163 660.7L166 661L178 659.6L184 660.2L193 663.7L200.9 669L203.5 672L206.2 678L208.5 690L211.1 699L217 708.4L219.4 711L223 711.7L247 703.9L253 703.7L262 704.6L265 703.4L266.7 702L268.5 699L270.6 690L271.8 678L274 675.2L277 674.6L279.1 675L292 679.1L322 680.4L331 677.8L337 678.8L340 678.3L346 675.9L358 673.6L367 669.5L376 669.9L379 669.3L382.6 666L383.5 660L385 656.2L387.3 654L394 650.6L397.2 648L397.8 645L396.4 636L397.7 633L406 623.1L409 622.3L413.2 624L415.4 627L416.4 630L418 631.6L424.8 627L442 625.1L451 621.1L460 618.9L463 617.3L468.4 609L475 602.2L481 597.6L492.2 591L493.9 588L495.5 582L499 578.9L505 579.2L511.5 582L514.6 585L518.3 591L529.8 600L538 610.2L541 612.5L544 613.3L547 613L556 610.6L565 613.3L568 613.6L571 612L576.9 606L580 605.7L586 607.9L595 613.1L600.1 615L613 616.1L619 615.2L638 600L647.2 594L661.4 582L662.5 579L660.2 573L659.7 570L664.6 558L667 555.2L670 554.7L676 555.1L679 554.4L685 550.5L694.4 537L699.6 528L709 522.5L711.8 519L713.9 513L720.2 501L721 494.2L724 492.2L733 489.8L736 487.6L739 485.2L742 484L751 483.2L751 489.7L748 490.9L745 493.3L736 503.8L733 506.5L724 510.8L722.5 513L721.8 516L722.6 522L721.6 525L719.2 528L709.8 534L704.4 540L697 545.8L691.4 555L688.6 558L679 564.8L673 567L670.7 570L671.4 579L671.3 582L669.9 585L658.5 594L652 600.9L643 606.3L634 614.6L616 624.4L610 625.9L586 618.8L583 619.6L580 621.9L577 623L568 622.5L556 619.9L553 620.6L538 627.1L532 627.4L523.7 624L521.1 621L520.6 609L519.6 606L516.8 603L511 600.1L508 599.5L493 601.3L487 603.5L475 610.2L472.4 615L471.5 624L469 627.6L466 628.9L451 631.5L436 631.1L433 631.7L430.6 633L422.6 645L420.2 654L417.8 657L415 658.7L406 661.7L397 668.5L391 670.5L382 676.3L379 677.5L367 678.3L358 682.5L349 683.3L346 684.8L337 692.9L334 694L331 693.7L316 688.2L301 687.5L280 683.3L277 684.5L274 689.6L269 702L265.5 705L262 706.1L253 705.4L247 705.8L223 714.4L220 714.4L217 712.1L210.2 702L208 696.2L203.9 678L202 674L199 670.5L190 665.2L181 662.7L175 662.8L166 665.1L163 664.8L160 663.5L154 659.2L142.4 648L136 639.9L129.3 633L122.9 621L111.4 606L109 600L107.6 591L105.9 588L97 580.7L94 577.1L80 549L68.2 537L66.4 534L61.8 522L52.1 513L48 507L47.1 504L46 493.5L46 472.8L48.4 474Z"/><path fill="#1e0774" stroke="#1e0774" d="M748 490.9L751 489.7L751 499.1L748.4 501L747.1 504L748 506.2L751 507.6L751 522.4L745 522.9L742 523.9L731.1 531L724 537.3L715 543.3L709.6 549L700.3 561L691.1 567L681.8 576L679.8 579L677.1 588L674.4 591L666.3 597L662.4 606L661 607.2L652 611.5L640 619.5L613 634L604 637.6L601 637.7L598 636.5L592 632.2L589 631.3L580 631.9L568 630.2L559 632.4L550 632.7L545.5 636L538.8 645L532 648.4L529 646.5L526 641.6L523 640.3L514 640L511 639.2L508 636.3L505.4 630L504.4 615L502.6 612L496 611L490 611.7L481 614.9L479.1 618L478 631.2L476.5 636L475 638L472 639.5L457 640.3L452.3 642L450.3 645L449.7 654L448.7 657L445 659.5L439 660.8L427 661.4L409 669.6L400.1 675L391 677L382 682.1L373 686.1L355 693.6L346 695.7L337 700.1L331 700.6L322 698.3L313 699.4L310 698.5L304 694.7L298 692L289 689L283 688.3L280 689L277 691.4L271.3 702L268.6 705L265 706.9L262 707.5L250 707L247 707.7L238 711.4L223 716.2L220 716.2L216.4 714L208 702L202.8 681L199.9 675L197.2 672L190 667.8L181 665.3L175 665.6L166 669.5L163 669.2L151.5 660L133 640.9L126.8 636L124.7 633L118.6 621L106.7 606L100.7 591L90.8 579L81.5 564L75.6 552L61 537L53.6 525L49 519.4L46 517.1L46 516L46 493.5L47.1 504L49.7 510L61.8 522L66.4 534L68.2 537L80 549L94 577.1L97 580.7L105.9 588L107.6 591L109 600L111.4 606L122.9 621L129.3 633L136 639.9L142 647.6L154 659.2L163 664.8L166 665.1L175 662.8L181 662.7L190 665.2L199 670.5L202 674L203.9 678L208 696.2L210.2 702L217 712.1L220 714.4L223 714.4L247 705.8L253 705.4L262 706.1L265.5 705L269 702L274 689.6L277 684.5L280 683.3L301 687.5L316 688.2L331 693.7L334 694L337 692.9L346 684.8L349 683.3L358 682.5L367 678.3L379 677.5L382 676.3L391 670.5L397 668.5L406 661.7L415 658.7L417.8 657L420.2 654L422.6 645L430.6 633L433 631.7L436 631.1L451 631.5L466 628.9L469 627.6L471.5 624L472.4 615L475 610.2L487 603.5L493 601.3L508 599.5L511 600.1L516.8 603L519.6 606L520.6 609L521.1 621L523.7 624L532 627.4L538 627.1L553 620.6L556 619.9L568 622.5L577 623L580 621.9L583 619.6L586 618.8L610 625.9L616 624.4L634 614.6L643 606.3L652 600.9L658.5 594L669.9 585L671.3 582L671.4 579L670.7 570L673 567L679 564.8L688.6 558L691.4 555L697 545.8L704.4 540L709.8 534L719.2 528L721.6 525L722.6 522L721.8 516L722.5 513L724 510.8L733 506.5L736 503.8L745 493.3L748 490.9ZM520 656.8L526 655.4L527.2 657L528 660L528.2 663L527.3 666L523 668.4L520 668.7L514 666.9L505.8 663L508.4 660L520 656.8Z"/><path fill="#091c7f" stroke="#091c7f" d="M751 499.1L751 507.6L749 507L747.1 504L748.4 501L751 499.1ZM48.5 519L53.6 525L61 537L75.6 552L81.5 564L90.8 579L100.7 591L106.7 606L118.6 621L124.7 633L126.8 636L133 640.9L151.5 660L163 669.2L166 669.5L175 665.6L181 665.3L190 667.8L197.2 672L199.9 675L202.8 681L208 702L216.4 714L220 716.2L223 716.2L250 707L262 707.5L265 706.9L268.6 705L271.3 702L277 691.4L280 689L283 688.3L289 689L298 692L304 694.7L310 698.5L313 699.4L322 698.3L331 700.6L337 700.1L346 695.7L355 693.6L373 686.1L382 682.1L391 677L400.1 675L409 669.6L427 661.4L439 660.8L445 659.5L448.7 657L449.7 654L450.3 645L452.3 642L457 640.3L472 639.5L475 638L476.5 636L478 631.2L479.1 618L481 614.9L490 611.7L496 611L502.6 612L504.4 615L505.4 630L508 636.3L511 639.2L514 640L523 640.3L526 641.6L529 646.5L532 648.4L538.8 645L545.5 636L550 632.7L559 632.4L568 630.2L580 631.9L589 631.3L592 632.2L598 636.5L601 637.7L607 636.6L616 632.7L642.6 618L652 611.5L661 607.2L662.4 606L666.3 597L674.4 591L677.1 588L679.8 579L681.8 576L691.1 567L700.3 561L709.6 549L715 543.3L724 537.3L731.1 531L742 523.9L745 522.9L751 522.4L751 531L751 533L742 533.5L736 536.8L730 543.8L722.2 549L716 558L696.7 573L686.7 585L682 594.7L674.7 603L671.3 609L667 613L655 617L646 623.6L637 628L628 633.8L614.9 639L604 646.3L601 646.4L589 637.5L586 636.9L574 637L568 638.2L559.6 645L558.1 648L558.3 654L557.2 657L556 658.1L553 659.4L550 659.5L544 657.9L541 659.3L540.4 669L539 672L535 675.4L517 676.4L514 676L505 672.1L496 669.6L491.3 666L487 658.1L485.6 657L478 654.5L472 651L469 650.9L466 652.6L465 654L463.6 660L461.8 663L460 664.4L454.9 666L442 668.1L433 671.7L421.1 675L412 676.4L400 681.6L391 682.3L388 683.2L381.8 687L373 693.7L364 696.7L360.9 699L355 706.9L352 708.1L343 705.2L334 706L322 704.8L313 705L305.5 702L292 693.9L286 692.3L283 692.3L280 693.5L277.4 696L271.4 705L268 707.3L262 708.9L250 708.7L238 713.4L223 717.9L220 717.8L217 716.4L214 713.5L208 704.9L205.4 699L200.6 681L199 677.6L196 674L193 671.7L187 669.1L178 667.8L172 669.7L166 675L163 674.7L133 644.1L122.5 636L116.5 624L104.6 609L94.7 591L76.3 564L70 553.3L61 543.6L49 528.9L46 526.7L46 517.1L48.5 519ZM519.4 657L508.4 660L505.8 663L517 668.2L520 668.7L526 667.1L527.3 666L528.2 663L527.2 657L526 655.4L519.4 657ZM457 680.1L460 678.8L463 679.5L464 681L464.6 684L463.9 687L463 688.3L460 690L457 688.9L454.7 687L453.6 684L457 680.1Z"/><path fill="#003e94" stroke="#003e94" d="M47.7 528L70 553.3L76.3 564L94.7 591L104.6 609L116.5 624L122.5 636L133 644.1L163 674.7L166 675L172 669.7L178 667.8L187 669.1L193 671.7L196 674L199 677.6L200.6 681L205.4 699L208 704.9L214.4 714L217 716.4L220 717.8L226 717.1L250 708.7L262 708.9L266.3 708L271.4 705L277 696.5L280 693.5L283 692.3L286 692.3L292 693.9L305.5 702L313 705L322 704.8L334 706L343 705.2L352 708.1L355 706.9L360.9 699L364 696.7L373 693.7L381.8 687L388 683.2L391 682.3L400 681.6L412 676.4L421.1 675L433 671.7L442 668.1L454.9 666L460 664.4L461.8 663L463.6 660L465 654L466 652.6L469 650.9L472 651L478 654.5L485.6 657L487 658.1L491.3 666L496 669.6L505 672.1L514 676L517 676.4L535 675.4L539 672L540.4 669L541 659.3L544 657.9L550 659.5L553 659.4L556 658.1L557.2 657L558.3 654L558.1 648L559.6 645L568 638.2L574 637L586 636.9L589 637.5L601 646.4L604 646.3L614.9 639L628 633.8L637 628L646 623.6L655 617L667 613L671.3 609L674.7 603L682 594.7L686.7 585L696.7 573L716 558L722.2 549L730 543.8L736 536.8L742 533.5L751 533L751 544.1L745.3 546L742 548.2L724 564.6L712 569.4L707.5 573L700 582.6L691 592.5L683.2 606L678.2 618L676 620.4L673 620.1L670 621.2L667 623.5L661 624.8L658 626.3L655.5 633L653.6 636L646 643.5L643 643.4L640 639L637 638.7L622 641.7L616 644.4L609.5 651L604 654.1L601 654.2L598 652.8L592 646.6L589 644.4L586 643.4L583 643.5L577 644.9L574 646.5L571 649.7L565 661.2L562 663.5L551.7 669L541.8 678L535 681.5L523 682.2L511 688.1L508 688.9L502 688.8L487 691.8L484 691.7L481 690.5L478 687.9L475 686.7L472 688.7L463 699.7L460 701.3L457 700.3L451 693.4L445 688.5L439 685.3L430 685.5L415 683.4L412 684L409 685.9L403 692.6L400 693.3L394 688.7L391 687.7L388 688.4L385.7 690L380.8 696L376 700L367 703.7L365.5 705L361 712.5L359.1 714L355 715.2L349 714.9L337 711.7L313 709.1L303.4 705L289 696.9L286 696.1L283 696.2L280 697.6L274 705L271 707.6L268 709.1L262 710.3L250 710.3L241 714.2L223 719.3L220 719.2L215.6 717L208 707.2L203.9 699L199 682.4L196.5 678L193 674.4L187 671.3L181 670L178 670.1L175 670.8L172 672.6L166 678.3L163 678.3L133 646.9L121 638.4L112.5 624L100.9 609L77.8 573L52.8 540L49 535.8L46 533.6L46 526.7L47.7 528ZM455.7 681L453.6 684L454.7 687L457 688.9L460 690L463 688.3L464.6 684L463 679.5L460 678.8L455.7 681Z"/><path fill="#006aac" stroke="#006aac" d="M46.5 534L52.8 540L77.8 573L100.9 609L112.5 624L121.5 639L130 644.3L133 646.9L163 678.3L166 678.3L172 672.6L175 670.8L178 670.1L181 670L187 671.3L193 674.4L196.5 678L199 682.4L203.9 699L208 707.2L215.6 717L220 719.2L223 719.3L241 714.2L250 710.3L262 710.3L268 709.1L271 707.6L274 705L280 697.6L283 696.2L286 696.1L289 696.9L303.4 705L313 709.1L337 711.7L349 714.9L355 715.2L359.1 714L361 712.5L365.5 705L367 703.7L376 700L380.8 696L385.7 690L388 688.4L391 687.7L394 688.7L400 693.3L403 692.6L409 685.9L412 684L415 683.4L430 685.5L439 685.3L445 688.5L451 693.4L457 700.3L460 701.3L463 699.7L472 688.7L475 686.7L478 687.9L481 690.5L484 691.7L487 691.8L502 688.8L508 688.9L511 688.1L523 682.2L535 681.5L541.8 678L551.7 669L562 663.5L565 661.2L571 649.7L574 646.5L577 644.9L583 643.5L586 643.4L589 644.4L592 646.6L598 652.8L601 654.2L604 654.1L609.5 651L616 644.4L622 641.7L637 638.7L640 639L643 643.4L646 643.5L653.6 636L655.5 633L658 626.3L661 624.8L667 623.5L670 621.2L673 620.1L676 620.4L678.2 618L683.2 606L691 592.5L700 582.6L707.5 573L712 569.4L724 564.6L736 553.5L745 546.1L751 544.1L751 546L751 560.4L742 559.6L739 560.1L736 561.6L727 570.4L724 572.3L714 576L711.4 579L706.5 588L697 595.6L691.8 603L689.3 609L687 621L684.7 627L673 638.1L670 639L661 639.9L658 641.5L654.5 645L649 655L646 655.9L637 654.7L634 653.8L628 649.5L625 648.8L622 649.6L619.6 651L611.6 657L607 658.5L601 659.3L595 657.8L589 652.3L586 651.2L583 651.7L579.6 654L578.2 657L578.5 660L580.5 666L579.4 669L575.7 672L559 675.4L541 685.4L535 687.6L523 688.2L519.2 690L508 698.2L505 699.1L495.5 699L481 703.1L475 702.3L472 702.8L463 710.3L460 711.4L454 710.5L450.1 708L445 698.9L442 697.6L433 698.9L424 693.3L421 692.6L418 692.9L415 694.7L409 701.1L403 704.2L400 704.7L397 704.1L391 701.3L388 701.4L384.2 705L380.1 714L370.6 720L367 721.3L349 720.7L337 722.1L334 721.8L322 715.6L310 712L286 699.9L283 700L280 701.6L273.9 708L268 710.8L262 711.8L253 711.4L250 711.9L241 716L223 720.8L217 719.5L214 717.3L211 713.8L203.7 702L196 681.1L193.7 678L190.1 675L184 672.5L178 672.2L175 673.1L166 680.1L163 680.2L159.2 678L142 658.5L131.4 648L118.8 639L88 595L79.8 585L75 576L68.8 567L57.9 555L49.3 543L46 540.3L46 533.6L46.5 534Z"/><path fill="#0092c2" stroke="#0092c2" d="M49 542.7L57.9 555L70 568.7L75 576L79.8 585L88 595L118.8 639L131.4 648L142 658.5L159.2 678L163 680.2L166 680.1L175 673.1L178 672.2L184 672.5L190.1 675L193.7 678L196 681.1L203.7 702L211 713.8L214 717.3L217 719.5L223 720.8L241 716L250 711.9L253 711.4L262 711.8L268 710.8L273.9 708L280 701.6L283 700L286 699.9L289 701L310 712L322 715.6L331 720.7L337 722.1L349 720.7L364 721.5L370 720.3L380.1 714L384.2 705L388 701.4L391 701.3L397 704.1L400 704.7L403 704.2L409 701.1L415 694.7L418 692.9L421 692.6L424 693.3L433 698.9L442 697.6L445 698.9L450.1 708L454 710.5L457 711.4L460 711.4L463 710.3L472 702.8L475 702.3L481 703.1L495.5 699L505 699.1L508 698.2L519.2 690L523 688.2L535 687.6L538 686.7L559 675.4L571 673.4L577 671.2L579.4 669L580.5 666L578.5 660L578.2 657L579.6 654L583 651.7L586 651.2L589 652.3L595 657.8L601 659.3L607 658.5L611.6 657L619.6 651L622 649.6L625 648.8L628 649.5L634 653.8L637 654.7L646 655.9L649 655L654.5 645L658 641.5L661 639.9L670 639L673 638.1L684.7 627L687 621L689.3 609L691.8 603L697 595.6L706.5 588L711.4 579L714 576L724 572.3L727 570.4L736 561.6L739 560.1L742 559.6L751 560.4L751 561L751 567.7L742 566.5L739 566.8L736 568.5L728.1 576L718.3 582L714.8 591L712 594.9L703 599.7L699.1 603L694 612L689.3 627L682.8 636L677.6 645L676 646.3L673 647.1L664 645.1L661 646.1L659 648L658 650.2L657.3 657L656.1 660L652.2 663L645.2 666L640 669.9L634 669.7L622 664.3L616 662.9L592 664.9L589 666.8L580 675.6L562 683.5L556 690L550 694.2L541 697.3L535 698.4L526 695.8L523 696L520 697.8L512.6 705L505 708.6L501.5 711L499 714.3L496 715.7L487 714.9L478 716L472 718.1L466 722L463 722.7L454 720.3L442 714.6L430 712.9L427 714L424.4 717L421 723.8L418.6 726L415 727.7L412 727.7L410.4 726L409 722.5L406 719.5L403 720L397 722.8L391 723.4L370 728.1L364 728.1L352 726.4L337 728.2L331 727.7L325.4 726L317.3 720L310 716.7L301.1 711L286 703.6L283 703.5L280 705.1L274 710.5L268 712.6L262 713.3L253 712.9L250 713.6L241 717.9L226 721.9L220 722L215.4 720L211 715.8L205 706.8L200.9 699L195.2 684L190 677.5L184 674.5L178 674.1L175 675.1L166 681.6L163 681.8L160 680.7L156.6 678L141 660L130 649L119.7 642L116.5 639L85 597.1L76 588.3L70 576L64 567.2L52.9 558L46 551.2L46 540.3L49 542.7Z"/><path fill="#00b6d6" stroke="#00b6d6" d="M46.7 552L64 567.2L70 576L76 588.3L85 597.1L116.5 639L119.7 642L130 649L141 660L156.6 678L160 680.7L163 681.8L166 681.6L175 675.1L178 674.1L184 674.5L190 677.5L195.2 684L200.9 699L205 706.8L211 715.8L214 719L217 721L220 722L226 721.9L241 717.9L250 713.6L253 712.9L262 713.3L268 712.6L274 710.5L280 705.1L283 703.5L286 703.6L301.1 711L310 716.7L317.3 720L325.4 726L331 727.7L337 728.2L352 726.4L364 728.1L370 728.1L391 723.4L397 722.8L403 720L406 719.5L409 722.5L410.4 726L412 727.7L415 727.7L418.6 726L421 723.8L424.4 717L427 714L430 712.9L442 714.6L454 720.3L463 722.7L466 722L472 718.1L478 716L487 714.9L496 715.7L499 714.3L501.5 711L505 708.6L512.6 705L520 697.8L523 696L526 695.8L535 698.4L541 697.3L550 694.2L556 690L562 683.5L580 675.6L589 666.8L592 664.9L616 662.9L622 664.3L634 669.7L640 669.9L645.2 666L652.2 663L656.1 660L657.3 657L658 650.2L659 648L661 646.1L664 645.1L673 647.1L676 646.3L677.6 645L682.8 636L689.3 627L694 612L697 605.9L700 602L702.5 600L709 597L712.9 594L714.8 591L718.3 582L728.1 576L736 568.5L739 566.8L742 566.5L751 567.7L751 572.6L745 572.5L742 572.8L739 574L724.8 585L718.1 597L714.9 600L704.3 606L701.4 609L698 615L692 630L686.9 639L684.5 645L680.5 651L676 655L670 658L661 665.2L652 670.7L646 676.9L643 678L640 677.8L625 672.5L616 670.3L604 669.1L595 670.2L589 673.5L580 680.8L568 686.3L560.4 696L556 699.7L550 702.4L529 708.8L524.7 711L523 713.5L520 715.8L514 716.1L511.7 717L506.6 726L502 729.7L499 730.2L490 726.5L484 726L478 728.1L472 732.9L469 734L466 734L454 729.5L439 727.2L421 733.5L418 735.6L412 741.7L409 742.5L406 740.9L400.5 735L397 733.4L394 733.2L385 735.6L367 735L355 733.3L334 732.7L325 731.7L319 729.1L313 724.8L307 721.7L298.7 714L286 707.4L283 707L277 711.5L271 713.9L262 715L253 714.6L244 718.9L226 723.6L220 723.4L217 722.5L213.3 720L208 713.6L200.9 702L193 684.2L190.7 681L187.4 678L184 676.3L178 675.7L175 676.7L166 682.9L163 683.2L160 682.4L154.1 678L139 660.4L129.8 651L114.2 639L101 624L85 602.9L73 592.1L67 580.2L61 570.9L56.8 567L46 560.6L46 551.2L46.7 552Z"/><path fill="#00ddec" stroke="#00ddec" d="M46.8 561L55 565.8L60.2 570L66.3 579L73 592.1L85 602.9L101 624L111.3 636L117.5 642L126.5 648L129.8 651L138.7 660L157 680.7L163 683.2L166 682.9L175 676.7L181 675.7L187 677.8L190 680.2L194.5 687L199.4 699L206.3 711L211 717.7L214 720.7L217 722.5L220 723.4L226 723.6L244 718.9L253 714.6L262 715L271 713.9L277 711.5L283 707L286 707.4L298.7 714L307 721.7L313 724.8L319 729.1L325 731.7L334 732.7L355 733.3L367 735L385 735.6L394 733.2L397 733.4L400.5 735L406 740.9L409 742.5L412 741.7L418 735.6L421 733.5L439 727.2L454 729.5L466 734L469 734L472 732.9L478 728.1L484 726L490 726.5L499 730.2L502 729.7L506.6 726L511.7 717L514 716.1L520 715.8L523 713.5L524.7 711L529 708.8L550 702.4L556 699.7L560.4 696L568 686.3L580 680.8L589 673.5L595 670.2L604 669.1L616 670.3L625 672.5L640 677.8L643 678L646 676.9L652 670.7L661 665.2L670 658L676 655L682 649.3L692 630L700 611.1L704.3 606L714.9 600L718.1 597L724.8 585L739 574L742 572.8L751 572.6L751 578.5L747.8 579L742 581.7L726.7 597L718 604.2L706 612.3L703 616.4L697 627.8L692.3 639L690.2 648L688.8 651L682 659.1L677.2 663L658 673.1L655 675.5L649 682.6L646 684.4L643 684.9L640 684.4L631 680.5L622 678.7L616 679.5L607 683.8L604 684.1L597.5 678L595 677.4L592 678L588.2 681L583 687.3L580 688.9L574 690.1L571 692.4L565.9 699L559 705.3L556 707L544 710.3L541 711.9L538 714.7L532.7 723L526 728.9L523 730L514 730.3L511 731.5L503.6 738L499 744.8L496.3 747L490.3 750L484 751.2L481 750.6L472 743.8L463 741.2L455.3 738L448 737.6L442 738L427 740.8L424.7 744L423.8 747L421 749.2L406 753.5L403 753.3L400 752.1L393.6 747L379 742.9L373 743L367 745.1L364 745.3L358 743.5L349 742.4L340 739L322 736.6L301.8 726L295 717.5L286 712.8L283 712.4L277 715.1L271 716.3L253 716.7L244 721.2L226 725.4L220 725.1L217 724.1L211.5 720L208 715.6L197.8 699L192.4 687L187 680.1L183.4 678L178 677.3L175 678.2L166 684.1L163 684.5L160 684L154 680.3L139 663L127.6 651L115.3 642L102.1 630L85 608.2L71.7 597L64 584.5L58 576.6L50.6 570L46 567L46 560.6L46.8 561Z"/><path fill="#00faf8" stroke="#00faf8" d="M49 568.9L58 576.6L64 584.5L71.7 597L85.7 609L99.3 627L111.8 639L127.6 651L139 663L154.7 681L160 684L163 684.5L166 684.1L175 678.2L178 677.3L184 678.2L188.1 681L192.4 687L197.8 699L206.9 714L211.5 720L217 724.1L220 725.1L226 725.4L244 721.2L253 716.7L271 716.3L277 715.1L283 712.4L286 712.8L295 717.5L301.8 726L322 736.6L340 739L349 742.4L358 743.5L364 745.3L367 745.1L373 743L379 742.9L393.6 747L400 752.1L403 753.3L406 753.5L421 749.2L423.8 747L424.7 744L427 740.8L442 738L448 737.6L455.3 738L463 741.2L472 743.8L481 750.6L484 751.2L490.3 750L496.3 747L499 744.8L503.6 738L511 731.5L514 730.3L523 730L526 728.9L532.7 723L538 714.7L541 711.9L544 710.3L556 707L559 705.3L565.9 699L571 692.4L574 690.1L580 688.9L583 687.3L588.2 681L592 678L595 677.4L597.5 678L604 684.1L607 683.8L616 679.5L622 678.7L631 680.5L640 684.4L643 684.9L646 684.4L649 682.6L655.5 675L679 661.9L686.4 654L690.2 648L692.3 639L697.4 627L703 616.4L706 612.3L718 604.2L726.7 597L741.6 582L745 580L751 578.5L751 587.7L739 595.2L727 604L722.5 609L718 616.6L706 623.2L703 626.2L700 631L698 636L696 651L685 665L682 667.6L661 679.3L651.3 690L646 691.9L643 691.9L619 688.3L613 690.2L607 694.2L601 696.8L574 701.8L569.3 705L562 714.2L559 716.7L547 719.9L541 723.7L532.5 732L526 741.6L523 744.2L518.8 744L516.7 741L514.5 747L510.8 750L505 752.5L484 757.2L472 756.1L469 756.5L464.1 759L460 763.3L457 763.9L454 762.7L449.1 759L446 756L445 754L442 754.7L440.4 756L436 757L424 755.4L418 756.1L406 761.2L403 762.3L400 762.4L379 752L376 751.7L367 753.7L364 753.4L355 750.2L346 748.8L331 745.3L316 739.9L307 734L298 729.8L289 721.1L286 719.8L256 719.3L253 719.6L244 723.8L235 725.1L226 727.4L223 727.4L217 725.8L211 721.5L208 717.6L197.9 702L190.2 687L185.3 681L181 678.9L178 678.7L175 679.6L166 685.4L160 685.5L156.2 684L151 679.8L136.7 663L125.4 651L97.5 630L85 614.1L73 604.2L70 600.9L61.4 588L58 584.3L55 582.2L46 578.7L46 567L49 568.9Z"/><path fill="#00ddcf" stroke="#00ddcf" d="M46.6 579L55 582.2L58 584.3L61.4 588L70 600.9L73 604.2L85 614.1L97.5 630L125.4 651L154 682.5L157 684.4L163 685.9L166 685.4L175 679.6L178 678.7L181 678.9L185.3 681L190.2 687L197.9 702L208 717.6L211 721.5L217 725.8L223 727.4L226 727.4L235 725.1L244 723.8L253 719.6L256 719.3L286 719.8L289 721.1L298 729.8L307 734L316 739.9L331 745.3L346 748.8L355 750.2L364 753.4L367 753.7L376 751.7L379 752L400 762.4L403 762.3L406 761.2L418 756.1L424 755.4L436 757L440.4 756L442 754.7L445 754L446 756L449.1 759L454 762.7L457 763.9L460 763.3L464.1 759L469 756.5L472 756.1L484 757.2L505 752.5L510.8 750L514.5 747L516.7 741L518.8 744L523 744.2L526 741.6L532.5 732L541 723.7L547 719.9L559 716.7L562 714.2L569.3 705L574 701.8L601 696.8L607 694.2L613 690.2L619 688.3L643 691.9L646 691.9L651.3 690L661 679.3L683.9 666L694.2 654L696 651L697.2 639L699.1 633L703 626.2L706 623.2L718 616.6L724.7 606L748 589.1L751 587.7L751 594L751 597.5L742 599.9L736.8 603L729.9 609L724.9 618L721.8 621L706 630.4L702.7 636L702.1 642L702.7 648L702.4 651L701 654L694 661.3L688 670.2L676 678L673.1 681L670 686.3L667 688.8L652 696.7L646 697.5L619 696.5L616 697.1L595 705.4L577 708.3L572.9 711L568 720.6L566.1 723L562.1 726L556 728.5L544 731.5L538.3 735L536.2 738L534.4 747L533 750L529 752.8L511 757.1L506.1 759L499 764L490 762.9L475 763.9L472 765.6L464.4 774L460 775.2L456.6 774L445 765.5L442 764.5L433 763.4L424 760.4L418 761L403 770.2L397 771.7L394 770.7L388.4 765L385 762.7L379 760.4L370 761.3L367 760.9L355 755.6L349 754.5L337 754.1L328 751.9L319 748.8L313 746L302.7 738L289 733.4L277 726.9L265 723.6L256 723L244 726.8L235 727.6L226 729.6L217 727.8L211 723.5L208 719.7L194.3 699L188.1 687L184 682.1L181 680.4L178 680L175 680.9L169 685.3L163 687.2L157 686.2L153.2 684L148 679L137.2 666L123.4 651L92.3 630L82 617.7L70 606.8L61 593.5L58 590.1L55 588.1L52 587.1L46 586.3L46 578.7L46.6 579Z"/><path fill="#00c1b1" stroke="#00c1b1" d="M49 586.7L55 588.1L58 590.1L61 593.5L70 606.8L82 617.7L92.3 630L123.4 651L137.2 666L149.8 681L154 684.6L157 686.2L163 687.2L169 685.3L175 680.9L178 680L181 680.4L184 682.1L188.1 687L194.3 699L208 719.7L211 723.5L217 727.8L226 729.6L235 727.6L244 726.8L256 723L265 723.6L277 726.9L289 733.4L302.7 738L313 746L319 748.8L328 751.9L337 754.1L349 754.5L355 755.6L367 760.9L370 761.3L379 760.4L385 762.7L388.4 765L394 770.7L397 771.7L403 770.2L418 761L424 760.4L433 763.4L442 764.5L445 765.5L456.6 774L460 775.2L464.4 774L472 765.6L475 763.9L490 762.9L499 764L506.1 759L511 757.1L529 752.8L533 750L534.4 747L536.2 738L538.3 735L544 731.5L556 728.5L562.1 726L566.1 723L568 720.6L572.9 711L577 708.3L595 705.4L616 697.1L619 696.5L646 697.5L652 696.7L667 688.8L670 686.3L673.1 681L676 678L688 670.2L694 661.3L701 654L702.4 651L702.7 648L702.1 642L702.7 636L706 630.4L721.8 621L724.9 618L730 608.9L739 601.5L745 598.7L751 597.5L751 603.9L745 604.7L742 605.8L739 608.1L735.7 612L732.5 618L730.1 621L726.3 624L715.1 630L711.2 633L708.9 636L708.3 639L709 648L708.5 651L706 655.8L697 665L691 675.8L679 683.1L673 691.9L670 695L667 696.8L658 701L652 702.5L634 701.9L613 704.6L607 706.2L598 710.1L586 714.1L581 717L572 726L556 738L553 739.8L547 741.4L544 743.4L541.4 750L539.5 753L535.7 756L526 760.3L514 762.3L510.2 765L506 771L502 773.8L496 774.4L487 771.9L481 771.6L475 773.8L466 780.4L463 781.3L460 781.1L454 778L445 771.3L442 769.9L424 766L421 766L418 767.1L415 769.2L400.1 783L397 784.2L394 784.4L391 783.5L388 781.1L381.9 771L379 769.7L373 769.5L367 768.1L355 761.5L349 760.3L337 762.4L322 760.1L310 754.3L304 752.5L292 753.7L291 753L291.5 747L291 744L289 742.5L277.3 738L266.9 732L260.1 729L256 728.4L244 730.8L235 730.7L226 732.1L220 731L214 728.2L208 722L199 708.1L194.1 702L185.9 687L183.6 684L181 682.1L178 681.4L175 682.3L169 686.7L163 688.8L157 688L151 684.5L121.3 651L109 643L90 633L76.4 618L67.3 609L58 595.9L55 593.5L52 592.3L46 591.3L46 586.3L49 586.7Z"/><path fill="#00a595" stroke="#00a595" d="M49 591.8L55 593.5L58 595.9L67.3 609L76.4 618L90 633L109 643L121.3 651L148 681.6L154 686.6L160 688.7L166 688.2L175 682.3L178 681.4L181 682.1L183.6 684L185.9 687L194.1 702L199 708.1L208 722L214 728.2L220 731L226 732.1L235 730.7L244 730.8L256 728.4L260.1 729L266.9 732L277.3 738L289 742.5L291 744L291.5 747L291 753L292 753.7L304 752.5L310 754.3L322 760.1L337 762.4L349 760.3L355 761.5L367 768.1L373 769.5L379 769.7L381.9 771L388 781.1L391 783.5L394 784.4L397 784.2L400.1 783L415 769.2L418 767.1L421 766L424 766L442 769.9L445 771.3L454 778L460 781.1L463 781.3L466 780.4L475 773.8L481 771.6L487 771.9L496 774.4L502 773.8L506 771L510.2 765L514 762.3L526 760.3L535.7 756L539.5 753L541.4 750L544 743.4L547 741.4L553 739.8L556 738L572 726L581 717L586 714.1L598 710.1L607 706.2L613 704.6L634 701.9L649 702.5L655 702L670 695L673 691.9L679 683.1L691 675.8L697 665L705.1 657L707.3 654L709 648L708.3 639L708.9 636L711.2 633L715.1 630L726.3 624L730 621.1L738 609L741.7 606L745 604.7L751 603.9L751 615.7L748 616.5L745 618.4L739 624.8L733 630L730 631.5L723.3 633L718.8 636L717.6 639L717 645L713.3 654L709 660L702.5 666L700.6 669L697 678.5L694 681.8L685 686.7L682 689.4L676.9 699L673 702.7L661 707.3L655 708.7L640 707.1L633.7 708L622 711.8L610 711L592 718.3L589 720.2L580 729.7L565 738.8L556 749L535.4 762L529 767.3L526 768.9L517 770.1L508.3 777L499 781.5L493 782.3L481 782L476.1 783L472.7 786L470.5 792L468.5 795L466 795.5L463 793.8L456.2 786L448 779.7L442 776.5L433 774.5L430 775L427.1 777L427.9 780L433.7 786L433.3 789L421 793.6L412 795.2L391 791.7L386.8 789L379 779.3L376 777L367 774.1L352 767.5L346 767.8L325 775.1L319 774.8L316 773.6L313.4 771L310.8 765L308.5 762L304 759.6L301 759.3L292 762.1L289 762.3L281.5 759L268 747.1L262 740.7L259 738L256 736.5L253 736L244 737.1L235 734.6L226 735.1L223 734.6L217 732.3L211 728.1L208 724.6L199 710.7L191.8 702L183.7 687L181.2 684L178 682.9L175 683.7L169 688.4L163 690.4L157 689.9L151 686.7L145.1 681L136 669.7L119.3 651L115 648L106 643.4L91 637.6L85 633.3L74.8 621L65.7 612L58 603L55 600.2L52 598.6L46 596.9L46 591.3L49 591.8Z"/><path fill="#008972" stroke="#008972" d="M46.4 597L52 598.6L55 600.2L58 603L65.7 612L74.8 621L84.7 633L88 635.9L94 638.9L106 643.4L115 648L119.3 651L136 669.7L145.1 681L151.4 687L157 689.9L163 690.4L169 688.4L175 683.7L178 682.9L181.2 684L183.7 687L191.8 702L199 710.7L208 724.6L211 728.1L217 732.3L223 734.6L226 735.1L235 734.6L244 737.1L253 736L256 736.5L259 738L262 740.7L268 747.1L281.5 759L289 762.3L292 762.1L301 759.3L304 759.6L308.5 762L310.8 765L313.4 771L316 773.6L319 774.8L325 775.1L346 767.8L352 767.5L367 774.1L376 777L379 779.3L386.8 789L391 791.7L412 795.2L421 793.6L433.3 789L433.7 786L427.9 780L427.1 777L430 775L433 774.5L442 776.5L448 779.7L456.2 786L463 793.8L466 795.5L468.5 795L470.5 792L472.7 786L476.1 783L481 782L493 782.3L499 781.5L508.3 777L517 770.1L526 768.9L529 767.3L535.4 762L556 749L565 738.8L580 729.7L589 720.2L592 718.3L610 711L622 711.8L633.7 708L640 707.1L655 708.7L661 707.3L673 702.7L676.9 699L682 689.4L685 686.7L694 681.8L697 678.5L700.6 669L702.5 666L709 660L713.3 654L717 645L717.6 639L718.8 636L723.3 633L730 631.5L733 630L745.7 618L748 616.5L751 615.7L751 626.6L745 629.4L736 639.7L724 648.6L721 652.7L717.3 660L708.9 669L704.5 678L700 684.5L692.7 693L687.9 702L676 711.8L670 714.3L664 714.9L655 714.9L643 713.7L637 714.2L622 720.1L616.7 720L610 718.4L604 719.5L595 724L589 729.2L585.3 735L580.7 747L577 751.2L574 752.4L568 750.8L565 751.7L559 756.4L547 762L539.5 768L533.4 774L529 776.7L520 780.3L509.9 783L504.9 786L499 790.8L496 792.2L484 795.3L481 796.9L472.7 804L469 805.9L466 806.7L457 805.4L448 808.3L439.9 807L436 804.3L433 800.8L430 799.2L427 798.7L421 799.8L412 805L397 805.3L394 803.8L380.4 792L374.9 786L370.4 783L364 782.5L361 783.9L358 786.5L355 787.7L352 787.7L346.9 786L340 780.8L337 780.3L325 781.9L316 780.6L313 779.6L309 777L306.8 774L304.2 768L301 766L298 766.5L292 768.7L289 768.7L277 765.5L274 764L265 753.2L259 748.2L256 747L253 747.1L247 751L244 751.4L241 750.1L235 740.9L220 736.7L211 730.9L207 726L202 717.3L189.1 702L181 686.6L178 684.7L175 685.7L169 690.2L163 692.2L157 692L151 689L145 683.6L135.8 672L118 651.8L109 646.7L91 640.7L85 637.1L80.8 633L71.1 621L61 611.4L55 606.6L46 603.3L46.4 597Z"/><path fill="#006d4e" stroke="#006d4e" d="M49 604L55 606.6L61 611.4L71.1 621L82 634.2L87.6 639L94 641.8L106 645.4L117 651L135.8 672L145 683.6L151 689L157 692L163 692.2L169 690.2L175 685.7L178 684.7L181 686.6L189.1 702L202 717.3L207 726L211 730.9L220 736.7L235 740.9L241 750.1L244 751.4L247 751L253 747.1L256 747L259 748.2L265 753.2L274 764L277 765.5L289 768.7L292 768.7L298 766.5L301 766L304.2 768L306.8 774L309 777L313 779.6L316 780.6L325 781.9L337 780.3L340 780.8L346.9 786L352 787.7L355 787.7L358 786.5L361 783.9L364 782.5L370.4 783L374.9 786L380.4 792L394 803.8L397 805.3L412 805L421 799.8L427 798.7L430 799.2L433 800.8L436 804.3L439 806.6L445 808.2L451 807.8L457 805.4L466 806.7L469 805.9L472.7 804L481 796.9L484 795.3L496 792.2L499 790.8L504.9 786L509.9 783L520 780.3L529 776.7L533.4 774L539.5 768L547 762L559 756.4L565 751.7L568 750.8L574 752.4L577 751.2L580.7 747L585.3 735L589 729.2L595 724L604 719.5L610 718.4L616.7 720L622 720.1L637 714.2L643 713.7L655 714.9L664 714.9L670 714.3L676 711.8L687.9 702L692.7 693L700 684.5L704.5 678L708.9 669L717.3 660L721 652.7L724 648.6L736 639.7L744.3 630L748 627.5L751 626.6L751 645L751 648.8L745 650.2L736 649.5L733 650.3L730 652.2L728.5 654L724.3 663L716.2 675L704 690L700.8 696L697 706.3L692.3 711L679 719.7L673 722.1L664 722.8L649 719.5L640 719.9L634 722.1L628 725.8L613 728.9L607 735.5L604 736.3L595 735.4L592 737.6L590.1 741L587.5 750L586 753L574 763.9L564.3 771L553 777.2L550 778.5L541 779.2L535 781.1L529 784.4L520 791.7L511 793L508 794.9L505 799.4L504.6 807L502.9 810L496 815.2L493 815.8L490 814.7L484 810.7L481 809.9L475 811.1L466 815.5L460 817L436 815.1L427 811.2L424 811L418 819.3L415 821.8L412 821.8L406 819.2L397 823.1L391 823.9L379 821.9L376 817.8L370.1 804L366.1 801L358 797.5L346 794L340 794L331 795.3L319 790.6L316 790.6L307 793.6L304 793.9L302.4 792L304.4 786L303.4 783L301 780L298 778L286 776.5L283 776.6L274 779L271 778.7L268.1 777L267 774L266.5 768L265.6 765L262 760.1L259 758.2L256 757.8L247 759L241 757.3L235.3 753L229 745.4L217 738.4L211 733.9L206.7 729L202 720L199 716.1L187.8 705L178 687.7L175 688.6L169 692.5L163 694.3L157 694.2L151 691.5L145 686.5L133.6 672L118 654L115 651.5L109 648.7L91 643.4L85 640.2L79 634.8L67.6 621L61 615.1L55 611L46 607.7L46 603.3L49 604Z"/><path fill="#005934" stroke="#005934" d="M49 608.5L55 611L64 617.6L70.3 624L79 634.8L85 640.2L91 643.4L106 647.5L115 651.5L118 654L133.6 672L145 686.5L151 691.5L157 694.2L163 694.3L169 692.5L175 688.6L178 687.7L187.8 705L199 716.1L202 720L206.7 729L211 733.9L217 738.4L229 745.4L235.3 753L241 757.3L247 759L256 757.8L259 758.2L262 760.1L265.6 765L266.5 768L267 774L268.1 777L271 778.7L274 779L283 776.6L286 776.5L298 778L301 780L303.4 783L304.4 786L302.4 792L304 793.9L307 793.6L316 790.6L319 790.6L331 795.3L340 794L346 794L358 797.5L366.1 801L370.1 804L376 817.8L379 821.9L388 823.7L394 823.8L397 823.1L406 819.2L412 821.8L415 821.8L418 819.3L424 811L427 811.2L436 815.1L460 817L466 815.5L475 811.1L481 809.9L484 810.7L490 814.7L493 815.8L496 815.2L502.9 810L504.6 807L505 799.4L508 794.9L511 793L520 791.7L529 784.4L535 781.1L541 779.2L550 778.5L553 777.2L564.3 771L574 763.9L586 753L587.5 750L590.1 741L592 737.6L595 735.4L604 736.3L607 735.5L613 728.9L628 725.8L634 722.1L640 719.9L649 719.5L664 722.8L673 722.1L679 719.7L694 709.9L697 706.3L700.8 696L704 690L716.2 675L724.3 663L728.5 654L731.6 651L736 649.5L745 650.2L751 648.8L751 657.4L746.5 660L742 665.8L733 665.5L730 667L718 681.9L706 697.2L704 702L701.6 711L699.9 714L694 719.5L679 729.6L673 731.1L661 731.6L655 730L649 725.9L643 725.7L638.5 729L637.4 732L637 739.6L636.3 741L634 742.3L631 742.4L628 741.3L622 737.1L619 736.8L607 741.9L598.6 744L596.8 747L601 756L600.5 759L598 761.9L595 762.8L586 762.8L583 764.8L577 774.6L574 776.8L565 778.6L562.6 780L560.5 783L559.1 789L557 792L547 797.5L541 803.5L538 804.6L529 804.9L526 805.7L520 811.1L508 816.9L505.5 819L503.5 822L502.8 825L503.9 834L502 836.6L498.9 837L494.4 828L490.3 825L481 821.5L478 821.3L475.9 822L474.2 825L475.6 828L481.7 837L490.7 846L491.3 849L489.6 852L475 857.7L472 857.7L467.9 846L466.2 837L466.1 831L463 828.2L454 829.4L445 827.8L442 828L436 829.5L430 832L421 832.4L415 833.6L412 833.6L403 829.9L394 830.8L382 830.2L376 831.1L373 830.4L371.3 828L367.8 816L364 810.3L359.3 807L349 802L343 801.5L331 803.4L328 803L319 799.1L316 799L307 802L301 802.8L292 801.5L289 800.1L286.7 798L281.5 789L277 787L268 785L264.7 783L261.8 780L260.4 777L259.2 771L257.4 768L256 767L247 765.6L234.7 759L230.8 756L218.9 744L211 737.6L205 730.6L199 719.1L186 708L178 695.7L175 693.8L160 697L157 696.7L151 694.1L142.8 687L131.4 672L115 653.8L106 649.6L91 645.9L85 643L76.8 636L67.1 624L61 618.3L55 614.4L46 611.2L46 607.7L49 608.5ZM751 635.8L751 638.1L751 635.8Z"/><path fill="#0f5922" stroke="#0f5922" d="M49 612L58 616.2L64 620.8L76.8 636L85 643L91 645.9L106 649.6L115 653.8L131.4 672L142.8 687L151 694.1L157 696.7L160 697L175 693.8L178 695.7L186 708L199 719.1L205 730.6L211 737.6L218.9 744L230.8 756L234.7 759L247 765.6L256 767L257.4 768L259.2 771L260.4 777L261.8 780L264.7 783L268 785L277 787L281.5 789L286.7 798L290.6 801L298 802.6L304 802.7L316 799L319 799.1L328 803L331 803.4L343 801.5L349 802L359.3 807L364 810.3L367.8 816L371.3 828L373 830.4L376 831.1L382 830.2L394 830.8L403 829.9L412 833.6L415 833.6L421 832.4L430 832L436 829.5L442 828L445 827.8L454 829.4L463 828.2L466.1 831L466.2 837L467.9 846L472 857.7L475 857.7L489.6 852L491.3 849L490.7 846L481.7 837L475.6 828L474.2 825L475.9 822L478 821.3L481 821.5L490.3 825L494.4 828L498.9 837L502 836.6L503.9 834L502.8 825L503.5 822L505.5 819L508 816.9L520 811.1L526 805.7L529 804.9L538 804.6L541 803.5L547 797.5L557 792L559.1 789L560.5 783L562.6 780L565 778.6L574 776.8L577 774.6L583 764.8L586 762.8L595 762.8L598 761.9L600.5 759L601 756L596.8 747L598.6 744L607 741.9L619 736.8L622 737.1L628 741.3L631 742.4L634 742.3L636.3 741L637 739.6L637.4 732L638.5 729L643 725.7L649 725.9L655 730L661 731.6L676 730.6L682 727.9L697 717.2L699.9 714L701.6 711L705 699L706.7 696L721.5 678L728 669L730 667L733 665.5L742 665.8L746.5 660L751 657.4L751 676.7L736 675.8L733 676.3L727 680.4L721 685.8L710.2 699L707.9 705L707.3 711L706 715.6L703.2 720L697 726.7L687.3 735L679 747.7L676 750.7L673 751.4L664 750.3L661 751.4L653.4 756L649 756.9L643 756.5L634 753.8L631 755.5L631 756.5L635.8 762L637.2 765L637 771.8L635.9 774L634 775.6L631 775.9L625 774.5L622 773.2L619.5 771L614.3 759L615.1 750L613 748.5L610 749.1L609.1 750L607.9 759L603.7 765L598 769L589 770.1L587.5 771L584.9 774L580 784.2L577 788.3L568 796.4L556 801L552.6 804L549.9 810L547 813.4L538 815.3L526 820.4L517 820.8L512.8 822L510.8 825L511.9 828L514 829.8L523 832.3L524.6 834L523.8 837L519.7 843L519 846L520.5 852L520 855.4L517 856.8L514 856.3L505 849.6L502 850.9L496 857.5L493 859.7L484 862.5L481 864.1L477.7 867L471.5 876L453.5 876L451 870.7L448 872.3L445.3 876L425.1 876L423.5 870L418.9 861L418.1 858L418.2 855L422.1 849L422.8 846L421 843.7L418 844.3L413.7 849L412 849.9L409 849.9L406.7 849L400 843.7L397 844.3L394 846.3L390.3 852L388 854.2L385 855.4L382 855.1L376.8 852L364 840.6L362.6 837L361 827.3L358 826.2L352 828.7L349 831.2L346 836L343 838L334.1 834L332.4 831L333.1 828L338.1 819L337.7 816L334 813.3L328 812.5L325 813L322.4 816L321.3 822L320.7 831L321.1 834L322.9 837L322.8 840L322 840.7L319 840.7L310 835.9L295.9 813L289 811.9L286 810.1L274 798L259 785.4L253 781.3L247 778.5L242.4 771L239.2 768L235 765.9L226 764.6L223 762.5L217.3 750L215.4 747L204.3 735L200.9 729L198.5 723L196.4 720L184 711.2L178 702.8L175 699.7L172 698.4L169 698.3L160 699.8L157 699.5L154 698.6L148 695L142 689.5L130 673L114.9 657L110.7 654L106 651.9L90.2 648L82 643.7L73.5 636L66.5 627L61 621.5L55 617.6L46 614.4L46 611.2L49 612ZM604 778.8L610 777.5L613 778.8L613.7 780L613.9 783L613 786L610 789.4L607 790.9L604 791.4L600.4 789L599.8 786L600.3 783L602.3 780L604 778.8ZM574 808.8L577.5 810L576.6 813L574 813.6L572.7 813L572.2 810L574 808.8ZM388 875.2L388 876L388 875.2Z"/><path fill="#2e6c17" stroke="#2e6c17" d="M48.5 615L55 617.6L61 621.5L66.5 627L76 638.6L85 645.7L91 648.3L106 651.9L110.7 654L114.9 657L130 673L142 689.5L148 695L154 698.6L157 699.5L160 699.8L169 698.3L172 698.4L175 699.7L178 702.8L184 711.2L196.4 720L198.5 723L200.9 729L204.3 735L215.4 747L217.3 750L223 762.5L226 764.6L235 765.9L239.2 768L242.4 771L247 778.5L253 781.3L259 785.4L274 798L286 810.1L289 811.9L295.9 813L310 835.9L313 838L319 840.7L322 840.7L322.8 840L322.9 837L321.1 834L320.7 831L322 817.1L325 813L331 812.7L334 813.3L337.7 816L338.1 819L333.1 828L332.4 831L334.1 834L343 838L346 836L349 831.2L352 828.7L358 826.2L361 827.3L362.6 837L364 840.6L376.8 852L382 855.1L385 855.4L388 854.2L390.3 852L394 846.3L397 844.3L400 843.7L403 845.6L406 848.6L409 849.9L412 849.9L413.7 849L418 844.3L421 843.7L422.8 846L422.1 849L418.2 855L418.1 858L418.9 861L423.5 870L425.1 876L410.2 876L409 874.3L406 872.8L403 874.5L402.1 876L388.3 876L388 875.2L387.6 876L332.8 876L333 873L336.6 864L337 861L336.5 858L334 852.4L331 850.2L322 852.5L313 853.8L310 853.9L307 853L304 850.3L301 846L299.5 843L298 835.9L295 835.8L291.5 840L286 841.8L283 841.5L280 839.8L277 834.8L273.5 825L273 819L273.8 813L272.5 810L268 807.5L259 806.8L257.6 804L258.6 798L258.3 795L256.3 792L253 790.2L244 789L241 786.7L239 783L237.5 777L235 774L226 774.1L223 773.2L220 771.2L217 768L211 753.1L199.1 735L196 725.8L193 721.7L184 716.7L181 714.1L175 705.6L172 703.3L169 702.1L160 703L157 702.7L148 698.3L141.8 693L127 672.4L112 658.2L103 653.2L88 649.8L82 646.8L72.7 639L61 624.9L55 620.8L46 617.6L46 614.4L48.5 615ZM356.4 858L354.7 861L354.5 864L355.8 867L358 868.9L361 868.9L365.5 867L369.3 864L369.5 861L367.8 858L364 855.3L361 855.1L356.4 858ZM733 676.3L736 675.8L751 676.7L751 683.9L743.7 684L733 685.5L727 687.4L724 689.7L716 699L712.8 705L712.5 714L710.7 720L702.3 732L698.1 744L694 752.9L689.9 759L686.4 762L679 765L676 764.9L670 761.5L664 760.6L649 764.6L646 766.2L644.7 768L643 774L642.4 783L643.2 789L640 788.8L635.9 786L631 784.1L628 783.4L625 783.8L622.3 786L617.9 792L601.8 804L590.8 810L589 811.4L583 819.2L580 821.1L559 828.5L547 831.4L544 833.3L536.6 846L537.7 855L536.5 858L532 863.3L529 865.2L526 865.8L520 865.3L505 861.2L502 862.2L493 869.8L487.4 873L484 876L471.5 876L477.7 867L481.1 864L493 859.7L496 857.5L502 850.9L505 849.6L514 856.3L517 856.8L520 855.4L520.5 852L519 846L519.7 843L523.8 837L524.6 834L523 832.3L514 829.8L511.9 828L510.8 825L512.8 822L517 820.8L526 820.4L538 815.3L547 813.4L549.9 810L552.6 804L556 801L568 796.4L577 788.3L580 784.2L584.9 774L587.5 771L589 770.1L598 769L603.7 765L607.9 759L609.1 750L610 749.1L613 748.5L615.1 750L614.3 759L619.5 771L623.6 774L631 775.9L634 775.6L635.9 774L637.2 771L637.5 768L637 764.4L635.8 762L632.9 759L630.7 756L631 755.5L634 753.8L643 756.5L649 756.9L653.4 756L661 751.4L664 750.3L673 751.4L676 750.7L679 747.7L687.3 735L697 726.7L705.3 717L706.7 714L708.6 702L710.2 699L721 685.8L727 680.4L733 676.3ZM602.3 780L600.3 783L599.8 786L601 789.9L604 791.4L607 790.9L610.4 789L613 786L613.9 783L613.7 780L613 778.8L610 777.5L607 777.7L602.3 780ZM572.2 810L572.7 813L574 813.6L577 812.4L577.5 810L577 809.4L574 808.8L572.2 810ZM556 845.4L559.6 846L561.2 849L559 852.3L556 854.1L553 854.7L549.9 852L551.1 849L556 845.4ZM448 872.3L451 870.7L453.5 876L451 876L445.3 876L448 872.3Z"/><path fill="#528613" stroke="#528613" d="M47.7 618L55 620.8L61 624.9L72.7 639L82 646.8L88 649.8L103 653.2L112 658.2L127 672.4L141.8 693L148 698.3L157 702.7L160 703L169 702.1L172 703.3L175 705.6L181 714.1L184 716.7L193 721.7L196 725.8L199.1 735L211 753.1L217 768L220 771.2L223 773.2L226 774.1L235 774L237.5 777L239 783L241 786.7L244 789L253 790.2L256.3 792L258.3 795L258.6 798L257.6 804L259 806.8L268 807.5L272.5 810L273.8 813L273 819L273.5 825L277 834.8L280 839.8L283 841.5L286 841.8L291.5 840L295 835.8L298 835.9L299.5 843L301 846L304 850.3L307 853L310 853.9L313 853.8L322 852.5L331 850.2L333.6 852L336.5 858L337 861L336.6 864L333 873L332.8 876L322.9 876L322 873L319 870.5L313 870.2L310 871.1L307.7 873L306.2 876L268.9 876L271 875.3L277 866.8L279.8 864L289.9 858L291.8 855L289.7 852L280 848.8L277 846.6L274 842.3L268 829.9L265 826.4L262 824.8L250 824.1L247 822.8L238 815.5L229 813.4L224.8 810L224.5 807L227 804L232 800.7L234.7 798L235.1 795L233.5 792L230.3 789L219.9 783L212.8 774L206.7 762L199 755.3L197.5 753L196.1 744L192.5 735L191.5 729L190.3 726L187 723.4L181 721.1L178 719.2L172 711.7L169 709.5L157 706.9L145 699.9L139 694L126.6 675L115 664.3L103 655.9L97.2 654L85 651.5L79 648.1L70 640.2L64 631.9L59.2 627L55 624.2L46 621.1L46 617.6L47.7 618ZM745 683.9L751 683.9L751 691.8L739 694.2L730 693.6L727 694.8L724 697.3L719.9 702L718.2 705L717.1 720L712.3 729L710.4 738L707.4 747L707.1 750L710.1 759L710 762L708.3 765L703 770.2L700 772.1L691 773.2L688 774.3L679 782.7L673 784.2L669.4 783L664 774.7L661 772L658 771L655 771.2L652 772.7L651 774L650.5 777L652 779.9L660.7 786L662.7 789L662.2 792L649 804L634 806.4L631 808.3L625 814.8L622 816.8L619 817.4L610 814L604 813.5L598 814.1L595 815.2L590.9 819L586 827.1L582.6 831L583.6 834L586 834.9L601 835.1L604 835.9L605.9 840L606.1 843L604.9 846L598 850.2L568 857.4L559 862.1L556 863L544 863.8L541 865.5L535 872L532 874.1L529 874.9L523 873.9L508 870.5L505 871.7L501.5 876L484 876L487.4 873L493 869.8L502 862.2L505 861.2L523 865.7L529 865.2L531.1 864L536.5 858L537.7 855L536.6 846L544 833.3L547 831.4L559 828.5L580 821.1L583 819.2L589 811.4L590.8 810L601.8 804L617.9 792L622.3 786L625 783.8L628 783.4L631 784.1L635.9 786L640 788.8L643 789.1L642.4 780L643.6 771L644.7 768L647.9 765L664 760.6L670 761.5L676 764.9L679 765L686.4 762L689.9 759L694 752.9L698.1 744L702.3 732L710.7 720L712.5 714L712.8 705L716 699L724 689.7L727 687.4L733 685.5L745 683.9ZM554.7 846L551.1 849L549.9 852L553 854.7L556 854.1L559.4 852L561.2 849L559 845.7L556 845.4L554.7 846ZM358 856.6L361 855.1L364 855.3L367.8 858L369.5 861L369.3 864L364 867.8L361 868.9L358 868.9L355 865.6L354.7 861L358 856.6ZM406 872.8L409 874.3L410.2 876L406 876L402.1 876L403 874.5L406 872.8ZM262 875.9L265 876L262 875.9Z"/><path fill="#77a00f" stroke="#77a00f" d="M49 621.9L55 624.2L61 628.5L70 640.2L82 650.1L88 652.4L97.2 654L103 655.9L115 664.3L126.6 675L139 694L145 699.9L157 706.9L169 709.5L172 711.7L178 719.2L181 721.1L187 723.4L190.3 726L191.5 729L192.5 735L196.1 744L197.5 753L199 755.3L206.7 762L212.8 774L219.9 783L230.3 789L233.5 792L235.1 795L234.7 798L232 800.7L227 804L224.5 807L224.8 810L229 813.4L238 815.5L247 822.8L250 824.1L262 824.8L265 826.4L268 829.9L274 842.3L277 846.6L280 848.8L289.7 852L291.8 855L289.9 858L279.8 864L277 866.8L271 875.3L268 876L249.9 876L249.9 858L250.5 855L260.6 846L262.3 843L261.8 840L259 837.7L256 836.9L253 837L250 838L244 842.1L241 842.8L238 841.8L219.1 825L214 818L209.8 810L207.7 804L208 799.2L211.1 792L210.4 786L206.7 777L202.8 771L193 764.5L188.6 759L187.1 753L187.8 744L183.9 732L181 729.5L172.1 726L163 719.9L159.3 717L153.9 711L141.9 702L136.5 696L124 675.8L115 667.8L104.6 660L100 657.4L94 655.8L85 654.6L79 652.3L67.4 642L61.4 633L58 629.7L52 626.6L46 625.1L46 621.1L49 621.9ZM745 692.6L751 691.8L751 714.2L742 718.7L739 719.1L736 716.7L730 707.5L727 705.8L723.7 708L724.6 720L720.6 729L720.2 732L720.9 735L724 739.6L727 741.8L733 744.4L736 747L736.6 750L734.7 753L730.7 756L728.5 759L730.6 768L730 771L727 773.6L724 774.3L718 773.4L715 773.7L712 775.8L706 782.6L703 784.3L691 788.2L682.5 792L679.4 795L677.2 804L666.5 816L655 823L646 833.1L637 837.3L634 840L630.1 849L628.1 852L622 857L616 860.3L610 859.9L604 857.7L601 857.6L598 858.8L592 865.4L584 870L582.8 876L575.1 876L575.3 870L574 867L562 869.2L550 870L545.6 873L544.3 876L505 876L501.5 876L502 875L505 871.7L508 870.5L526 874.6L529 874.9L532 874.1L535 872L541 865.5L544 863.8L556 863L559 862.1L568 857.4L598 850.2L604.9 846L606.1 843L605.9 840L604 835.9L601 835.1L586 834.9L583.6 834L582.6 831L586 827.1L592 817.7L595 815.2L601 813.6L610 814L619 817.4L622 816.8L625 814.8L631 808.3L634 806.4L649 804L662.2 792L662.7 789L660.7 786L652.1 780L650.5 777L651 774L655 771.2L658 771L661 772L664 774.7L669.4 783L673 784.2L679 782.7L688 774.3L691 773.2L700 772.1L703 770.2L708.3 765L710 762L710.1 759L707.1 750L707.4 747L710.4 738L712.3 729L717.1 720L718.2 705L721 700.6L727 694.8L730 693.6L739 694.2L745 692.6ZM720.6 753L721 753.9L724 755.2L724.3 753L721 751L720.6 753ZM232 863.2L235 865.6L236.1 870L235 874L233.4 876L232 876L231.2 876L229 871.9L228.6 867L229 865.3L232 863.2ZM310 871.1L313 870.2L319 870.5L322 873L322.9 876L319 876L306.2 876L307.7 873L310 871.1Z"/><path fill="#a3ba0b" stroke="#a3ba0b" d="M49 625.7L55 627.8L58.4 630L61.4 633L67.4 642L79 652.3L85 654.6L94 655.8L100 657.4L104.6 660L115 667.8L124 675.8L136.5 696L141.9 702L153.9 711L159.3 717L163 719.9L172.1 726L181 729.5L183.9 732L187.8 744L187.1 753L188.6 759L193 764.5L202 770L205 773.8L209.4 783L211.2 789L211.1 792L208 799.2L207.7 804L211 812.5L216.6 822L222.2 828L229.8 834L238 841.8L241 842.8L244 842.1L250 838L253 837L256 836.9L259 837.7L261.8 840L262.3 843L260.6 846L250.5 855L249.9 858L249.9 876L247 876L233.4 876L235 874L236.1 870L235 865.6L232 863.2L229 865.3L228.6 867L229 871.9L231.2 876L223.1 876L220 855L222.7 846L222.7 843L221.5 840L216.9 834L205.1 825L204.2 822L203.9 813L201.4 804L201.6 789L201 783L199 779.3L190 773.2L181.2 765L179.7 759L180 747L179.8 744L178.7 741L175 738.7L166 739.9L163 738.6L160.1 729L154 723L148 713.2L135.6 702L131.6 696L124 681L118 673.9L98.8 660L94 658.5L82 657.9L76 655.4L65.2 645L59.6 636L56.9 633L52 630.4L46 629.4L46 625.1L49 625.7ZM724 707.4L727 705.8L730 707.5L736 716.7L739 719.1L742 718.7L751 714.2L751 725.8L748.8 729L748.1 732L749.6 735L751 735.7L751 762.9L746.9 765L745.8 768L745.1 774L741.5 786L742.4 789L744.8 792L751 797.4L751 799.2L747 801L730 806.2L727 808.1L722.9 813L721.9 819L719.6 822L709 826.6L700 827.8L697 830.1L694.3 831L697 833L699.5 837L699.5 840L696.2 846L694 848.3L691 849.4L688 848.5L685.8 846L685.1 843L686 840L688 837L693.8 831L691 829.6L685 824.6L682 822.9L679 822.2L670 823L665 825L661.5 828L659.7 831L659 834L659.4 837L664.6 846L664.2 852L666.5 864L663.1 870L660.9 876L645.9 876L643.7 873L639.4 870L637 868.8L634 868.8L631 871.4L628.7 876L582.8 876L584 870L592 865.4L595.5 861L599.6 858L604 857.7L613 860.5L616 860.3L619 859.1L628.1 852L630.1 849L634 840L637 837.3L646 833.1L655 823L666.5 816L677.2 804L679.4 795L682.5 792L691 788.2L703 784.3L706 782.6L712 775.8L715 773.7L718 773.4L724 774.3L727 773.6L730 771L730.6 768L728.5 759L730.7 756L734.7 753L736.6 750L736 747L733 744.4L727 741.8L724 739.6L720.9 735L720.2 732L720.6 729L724.6 720L724.7 717L723.5 711L724 707.4ZM698.6 807L698.7 810L700 811.3L703 812.4L707.9 810L706 806.8L703 806L700 806.2L698.6 807ZM721 751L724 752.3L724 755.2L721 753.9L721 751ZM574 867L575.3 870L575.1 876L547 876L544.3 876L545.6 873L549.9 870L562 869.2L574 867Z"/><path fill="#cfd607" stroke="#cfd607" d="M49 629.7L55 631.6L58 634L65.2 645L76 655.4L82 657.9L94 658.5L98.8 660L118 673.9L124 681L131.6 696L135.6 702L148 713.2L154 723L160.1 729L163 738.6L166 739.9L175 738.7L178.7 741L179.8 744L180 747L179.7 759L181.2 765L190 773.2L199 779.3L201 783L201.6 789L201.4 804L203.9 813L204.2 822L205.1 825L216.9 834L221.5 840L222.7 843L222.7 846L220 855L223.1 876L217.6 876L217.2 873L215.4 867L210 858L209.3 855L210 846L209.2 843L207.7 840L205 837.2L200.3 834L197.9 831L194.1 819L191.2 813L191.2 810L193 806.4L194.1 801L193.6 795L192.7 792L189.3 786L184.4 780L172 771.8L168.9 768L168.9 765L172.7 756L172.8 753L172 750.6L169 748.7L160 746.5L156 744L151.1 735L145.4 729L142.3 717L133 708.7L130.7 705L124 692.3L119.7 681L117.7 678L112 673.3L95.7 663L91 662.3L82 662.7L76 661L73 659.2L61.7 648L55 637.6L53.3 636L52 635.3L46 635.3L46 629.4L49 629.7ZM751 725.8L751 735.7L749.6 735L748.1 732L748.8 729L751 725.8ZM748 764L751 762.9L751 797.4L748 794.9L742.4 789L741.5 786L745.1 774L745.8 768L746.9 765L748 764ZM748 800.5L751 799.2L751 810.7L745 810.2L742 811L739.3 813L738.9 816L741.8 822L742.1 825L739.8 831L738.7 840L730 855.2L724 857.5L718 857.4L715 856.5L709 852L706 851.6L702.9 855L700 863L694 867.1L692.7 870L691.4 876L660.9 876L663.1 870L666.5 864L665.3 858L664.2 852L664.6 846L659.4 837L659 834L659.7 831L661.5 828L664 825.7L670 823L679 822.2L682 822.9L685 824.6L691 829.6L693.8 831L688 837L686 840L685.1 843L685.8 846L688 848.5L691 849.4L694 848.3L696.2 846L699.5 840L699.5 837L697 833L694.3 831L697 830.1L700 827.8L709 826.6L719.6 822L721.9 819L722.9 813L727 808.1L730 806.2L748 800.5ZM700 806.2L703 806L706.5 807L707.9 810L706 811.4L703 812.4L700 811.3L698.7 810L698.6 807L700 806.2ZM751 828.8L751 843.5L748.8 843L746.2 840L746.6 837L749.1 831L751 828.8ZM193 842.6L195 843L196 846.2L193 846.9L192.4 846L193 842.6ZM634 868.8L637 868.8L643.7 873L645.9 876L640 876L628.7 876L631 871.4L634 868.8Z"/><path fill="#f8f901" stroke="#f8f901" d="M49 635L52 635.3L55 637.6L61.7 648L70 656.6L74.3 660L79 662.2L82 662.7L91 662.3L95.7 663L115 675.5L119.7 681L124.3 693L132.5 708L142.3 717L145.4 729L151.1 735L156 744L160 746.5L169 748.7L172 750.6L172.8 753L172.7 756L168.9 765L168.9 768L172 771.8L184.4 780L190 787L193 792.7L194.1 801L193 806.4L191.2 810L191.2 813L194.1 819L197.9 831L200.3 834L205 837.2L207.7 840L209.2 843L210 846L209.3 855L210 858L215.4 867L217.2 873L217.6 876L214 876L193.6 876L195.7 867L195.1 864L187 853.6L184.2 846L184.7 840L187.2 831L186.8 828L184 823.7L181 822.1L175 821L172.6 819L172.8 804L175.4 795L175.2 792L172 786.8L163 780.5L151 768.5L148 763.9L145 755.3L143.5 741L136.1 729L133 722.2L127 715.8L123.4 702L117.2 690L114.5 681L111.5 678L100 673L94 671.8L85 672.4L82 671.1L70 663.7L58 653.3L55 651.8L52 651.8L46 653.4L46 635.3L49 635ZM192.7 843L192.4 846L193 846.9L196.1 846L195 843L192.7 843ZM742 811L745 810.2L751 810.7L751 828.8L748 833.2L746.2 840L748 842.5L751 843.5L751 876L730.1 876L729.5 873L727 869.8L725.9 870L725.9 873L727 875.6L728.5 876L706 876L691.4 876L692.7 870L694 867.1L700 863L702.9 855L706 851.6L709 852L715 856.5L718 857.4L724 857.5L727 856.8L730.2 855L738.7 840L739.8 831L742.1 825L741.8 822L738.9 816L739.3 813L742 811Z"/><path fill="#ffe200" stroke="#ffe200" d="M49 652.7L52 651.8L55 651.8L58 653.3L70 663.7L85 672.4L97 672.1L109 676.6L112 678.4L114.5 681L117.2 690L123.4 702L127 715.8L133 722.2L136.1 729L143.5 741L145 755.3L148 763.9L151 768.5L163 780.5L172 786.8L175.2 792L175.4 795L172.8 804L172.6 819L175 821L181 822.1L184 823.7L186.8 828L187.2 831L184.7 840L184.2 846L187 853.6L195.1 864L195.7 867L193.6 876L178 876L176.2 876L173.7 861L174 858L178 850.5L178.5 840L178 836.2L175 833.5L166 833L160 831.2L157.6 828L156.8 825L157 821.8L162.5 813L163 811.1L164.7 798L164.4 795L162.4 792L157 786.9L151.7 780L144.8 774L143.1 771L138 756L136.7 741L133 735.9L124 729L120.1 723L117.8 717L118 705.6L116.6 702L115 699.7L107.3 693L100 682.7L97 681.1L94 681L88 682.4L82 681.6L64 670.7L55 662.1L52 661.2L46 661.6L46 653.4L49 652.7ZM727 869.8L729.5 873L730 876L727 875.6L725.9 873L725.9 870L727 869.8Z"/><path fill="#ffc000" stroke="#ffc000" d="M49 661.3L52 661.2L55 662.1L64 670.7L82 681.6L88 682.4L94 681L97 681.1L100 682.7L107.3 693L115 699.7L116.6 702L118 705.6L117.8 717L120.1 723L124 729L133 735.9L136.7 741L138 756L143.1 771L144.8 774L151.7 780L157 786.9L162.4 792L164.4 795L164.7 798L162.5 813L156.9 822L156.8 825L157.6 828L160 831.2L166 833L175 833.5L178.3 837L178 850.5L174 858L173.7 861L176.2 876L168.5 876L167.1 867L163 858.9L161.7 855L162.9 852L169.7 846L170.4 843L169 840.8L166 839.7L163 839.8L160 841L158.2 843L157 850.1L155.4 852L151 852.9L148 852L143.7 849L140.5 846L138.6 843L139.1 840L148 835.6L149.4 834L150.2 831L150 819L154.8 807L155.8 801L155.3 798L154 795.8L145 786.9L133.7 780L131.4 777L128.6 771L121 764.3L118.8 756L118.4 747L109.2 726L103 717.7L97.2 714L94 711L94.3 708L98.5 702L98.4 699L96.5 696L92.2 693L82 688.8L70 682.3L58 678.5L49 672.8L46 672L46 661.6L49 661.3Z"/><path fill="#ffa000" stroke="#ffa000" d="M46.1 672L49 672.8L58 678.5L73 683.6L82 688.8L92.2 693L96.5 696L98.4 699L98.5 702L94.3 708L94 711L97.2 714L103 717.7L109.2 726L118.4 747L118.8 756L121 764.3L128.6 771L131.4 777L133.7 780L145 786.9L154 795.8L155.3 798L155.8 801L154.8 807L150 819L150.2 831L149.4 834L148 835.6L139.1 840L138.6 843L140.5 846L143.7 849L148 852L151 852.9L155.4 852L157.6 849L158.2 843L161.9 840L167.5 840L169 840.8L170.4 843L169.7 846L162.9 852L161.7 855L162.4 858L167.1 867L168.5 876L157 876L135.6 876L137.6 867L136.4 861L136 860.6L133 861.6L130 861.5L128.3 858L123.4 852L122.6 849L125.1 840L126.9 825L124.2 816L124.6 813L130.1 804L131 801L131.2 795L130 791.6L127 790L118 790.9L116.4 789L116.6 780L115.3 777L112 774.1L106.6 771L102.5 765L101.7 762L106 761.4L109 760L111.5 756L112 753L111.2 750L109 746.9L106 746.1L103 747.3L100.7 750L99.6 753L100 760.6L97 760.8L94 759.5L91 756.6L87.3 750L87.6 741L86.7 738L79.9 726L78.8 714L75.1 699L73.1 696L61 690L55 688.5L52 690L46 701.3L46.1 672ZM138.7 822L139 823.1L139.2 822L138.7 822ZM109 796.1L112 795.1L113.9 798L113.9 804L111.9 810L109 811.8L106 811.2L104.3 810L102.6 807L103.2 804L106 799L109 796.1Z"/><path fill="#ff7c00" stroke="#ff7c00" d="M52 690L55 688.5L58 688.8L73.1 696L75.1 699L78.8 714L79.9 726L86.7 738L87.6 741L87.1 747L87.3 750L88.7 753L91 756.6L94 759.5L97 760.8L100 760.6L99.6 753L100.7 750L103.5 747L106 746.1L109 746.9L111.2 750L112 753L111.5 756L109 760L106 761.4L101.7 762L102.5 765L106.6 771L112 774.1L115.3 777L116.6 780L116.4 789L118 790.9L127 790L130 791.6L131.2 795L131 801L130.1 804L124.6 813L124.2 816L126.9 825L125.1 840L122.6 849L123.4 852L128.3 858L130 861.5L133 861.6L136 860.6L136.4 861L137.6 867L135.6 876L103.2 876L103 873.3L99.8 864L99.3 849L100 845.7L103.5 840L102.3 837L97 831.2L90.5 828L86.6 825L83.3 819L80.6 816L76 813.5L70 812.5L68.8 813L67 817.1L64.9 819L63.4 819L61.8 816L64 813.2L67 811.9L67.9 810L69.4 795L72.4 786L74 777L76 773.8L79 773.2L82 774.5L86.6 780L87.6 786L86.5 798L88 801.3L91 802.8L94 802.2L97 799.8L99.5 795L100.2 789L99.3 786L97.2 783L91.1 777L80.6 762L76 758.3L73 757.3L70 759L67 762.2L64 763.1L59.8 762L59.4 759L65.2 753L61.2 735L55 719.9L52 719.9L46 722L46 701.3L52 690ZM107 798L103.2 804L102.6 807L104.3 810L106 811.2L109 811.8L112 809.9L113.2 807L113.9 798L112 795.1L109 796.1L107 798ZM49 774.8L52 775.4L54.3 777L56.1 780L56.6 783L56 786L52 789.7L46 790.4L46 774.8L49 774.8ZM139 821.9L139 823.1L139 821.9ZM64 829.9L67 829.6L68.6 831L69.5 834L67 840.7L64 844.2L61 845.5L58 843.6L57 840L57.3 837L61 831.8L64 829.9ZM85 866.3L88 865.3L91 865.5L95.4 867L98.8 870L99.4 876L91 876L77.4 876L80.9 870L85 866.3Z"/><path fill="#ff5400" stroke="#ff5400" d="M52 719.9L55 719.9L56.4 723L61.2 735L62.8 744L64.9 750L65.2 753L59.4 759L59.8 762L64 763.1L67 762.2L70 759L73 757.3L76 758.3L80.6 762L91.1 777L97.2 783L99.3 786L100.2 789L99.5 795L97 799.8L94 802.2L91 802.8L88 801.3L86.5 798L87.6 786L86.6 780L82 774.5L79 773.2L76 773.8L74 777L72.4 786L69.4 795L67.9 810L67 811.9L64 813.2L61.8 816L64 819.4L67 817.1L68.8 813L73 812.7L76 813.5L82 817.3L86.6 825L88 826.3L96.7 831L100 834L102.3 837L103.5 840L100 845.7L99.2 852L99.8 864L103 873.3L103.2 876L99.4 876L98.8 870L95.4 867L88 865.3L85 866.3L82 868.8L78.7 873L77.4 876L46 876L46 840.2L48.4 834L47.6 831L46 829.6L46 790.4L49 790.3L53.3 789L56 786L56.6 783L56.1 780L54.3 777L52 775.4L46 774.8L46 722L52 719.9ZM62.6 831L61 831.8L58 835.4L57 840L58 843.6L61 845.5L64 844.2L67.4 840L69.5 834L68.6 831L67 829.6L64 829.9L62.6 831Z"/><path fill="#ff2800" stroke="#ff2800" d="M47.6 831L48.4 834L46 840L46 829.6L47.6 831Z"/></g></defs>
<g clip-path="url(#mapclip)">
<rect x="52" y="348" width="693" height="522" fill="#c4c4c4"/>
<use href="#fld"/>
<path d="M298.3 348.1L498 348.1L488.1 364.3L490.8 368.8L505.2 369.7L509.7 377.8L505.2 383.2L493.5 387.7L492.6 397.6L482.7 404.8L476.4 417.4L467.4 433.6L452.1 444.4L445.8 455.2L435 476.8L422.4 496.6L412.5 512.8L400.8 502L328 448L320.8 394Z" fill="#fff"/>
<path d="M46 342L298.3 342L310 356.2L318.1 367L325.3 377.8L328 386.8L322.6 394L318.1 403L315.4 415.6L318.1 426.4L326.2 438.1L310 438.6L297.4 440.8L296.5 446.2L299.2 455.2L292 466L290.2 476.8L283.4 484L281.2 496.6L279.4 512.8L274 527.2L265.9 529.9L262.3 521.8L258.7 512.8L249.7 520L248.8 535.3L243.4 537.1L240.7 529L238.9 512.8L237.1 498.4L230.8 495.7L223.6 502L224.5 518.2L229 530.8L228.1 543.4L230.8 556L228.1 574L225.4 592L226.3 599.9L226.3 600L225.4 614.4L228.1 627L227.2 639.6L221.8 646.8L212.8 654L202 657.6L182.2 657.2L166 654L151.6 649.5L149.8 644.1L157 640.5L148 637.8L137.2 629.7L126.4 628.8L119.2 632.4L112 627L104.8 621.6L97.6 622.5L88.6 618L83.2 628.8L78.7 638.7L63.4 632.4L46 627ZM326.2 438.1L328 473.2L335.2 478.6L329.8 491.2L322.6 502L324.4 512.8L318.1 523.6L301 529L296.5 543.4L295.6 556L292.9 574L291.1 592L295.6 606.4L301 611.8L305.5 614.3L309.1 608.2L313.6 599.9L320.8 595.6L331.6 579.4L346 572.2L364 566.8L382 563.2L398.2 562.3L400.9 538L408.1 520L413.5 502L412.6 476.8L400 466L389.9 437.2L374.8 433.6L373 424.6L364 412L346 399.4L331.6 401.2L322.6 412L318.1 426.4ZM526.8 342L530.4 361.6L534 367L543 371.5L552 370.6L562.8 376L570 376L568.2 385L561 394L571.8 395.8L580.8 397.6L593.4 399.4L606 401.2L613.2 408.4L612.3 412.9L602.4 408.4L593.4 407.5L597 417.4L588 422.8L584.4 430L579 437.2L586.2 439.9L589.8 443.5L586.2 449.8L579 457L575.4 466L579 473.2L587.1 476.8L586.2 484L577.2 485.8L579 493L587.1 494.8L577.2 498.4L562.8 496.6L552 496.6L530.4 502L519.6 509.2L518.7 520L514.2 530.8L510.6 541.6L507 556L505.2 574L500.7 592L500.2 599.9L500.2 600L498.4 607.2L502 609L504.7 623.4L506.5 629.7L511 634.2L516.4 635.1L520.9 633.3L525.4 639.6L524.5 645L528.1 652.2L532.6 658.5L534.4 664.8L530.8 668.4L525.4 672L520.9 676.5L519.1 682.8L516.4 690.9L513.7 694.5L509.2 698.1L504.7 702.6L501.1 708L499.3 715.2L493 713.4L492.1 717.9L485.8 721.5L478.6 726L480.4 730.5L487.6 733.2L493 735L499.8 740.4L499.8 753L498 762L487.2 763.8L471 765.6L458.4 769.2L456.6 780L459.3 798L462 812.4L472.8 816L478.2 818.7L476.4 828.6L469.2 839.4L462 852L456.6 861L451.2 876L751 876L751 342ZM390 590L394 584L404 581.2L416 582.8L426 588L428 594L424 600L416 602L410 606L400 605.2L394 601.2L388 596ZM471 639.6L472.3 645L469.6 650.4L476.8 649L479.1 654L476.8 659.4L475 663L480.4 664.8L484 670.2L488.5 674.7L493 677.4L495.7 682.8L498.4 685.5L504.7 684.6L505.6 690L502 694.5L504.7 698.1L501.1 701.7L494.8 704.4L489.4 705.3L484 706.6L480.4 709.4L475 710.7L471 713.8L474.1 708.9L479.1 705.3L482.7 700.8L479.1 699L472.3 700.4L471 697.2L475 695.4L473.2 686.4L476.8 685.5L480.4 690L481.3 683.7L478.6 678.3L475 674.7L470.1 676.5L467.8 670.2L464.2 668.4L460.2 663L461.5 657.6L457.9 654L456.1 649.5L460.6 648.6L463.3 645.9L467.8 644.1ZM452.5 674.7L457 672.9L461.5 674.7L465.6 677.4L465.1 685.5L464.2 694.5L460.6 699L454.3 701.7L448 706.2L443.5 703.5L444.4 697.2L448 691.8L444.4 686.4L445.3 682.8L450.7 680.1ZM457.5 446.2L462 442.6L472.8 443.5L478.2 451.6L476.4 457L485.4 466L486.3 469.6L480 468.7L474.6 466L479.1 482.2L474.6 481.3L469.2 471.4L462 466L457.5 457ZM527.7 403L532.2 402.1L537.6 412L543 426.4L552 439L562.8 446.2L570.9 444.4L568.2 449.8L561 452.5L552 449.8L541.2 437.2L534 422.8L529.5 410.2ZM498 342L512.4 342L514.2 356.2L507 359.8L505.2 367L490.8 368.8L488.1 363.4L494.4 358ZM490.8 401.2L498 399.4L499.8 412L496.2 424.6L489.9 426.4L488.1 419.2L492.6 412ZM46 848.4L58 855.6L63.4 876L46 876ZM74.2 867.3L85 864.6L94 876L74.2 876ZM54.4 764.7L58 766.5L63.4 775.5L60.7 776.4L56.2 771Z" fill="#c3c3c3" stroke="#5c5c5c" stroke-width="0.9" stroke-linejoin="round"/>
<g clip-path="url(#inl)"><use href="#fld"/></g>
<path d="M164.2 469.6L173.2 455.2L184 449.8L196.6 451.6L207.4 457L215.5 464.2L220 462.4L234.4 460.6L235.3 466L220 469.6L212.8 476.8L211 484L212.8 493L220 496.6L221.8 502L212.8 507.4L202 512.8L193 520L184 527.2L151.6 527.2L158.8 520L166 512.8L160.6 502L164.2 487.6L166 476.8ZM95.8 502.9L103 509.2L112 512.8L114.7 527.2L103 527.2L102.1 516.4L97.6 509.2ZM239.8 473.2L252.4 466L272.2 464.2L270.4 476.8L261.4 484L263.2 493L252.4 496.6L243.4 491.2L252.4 484L243.4 476.8ZM249.7 364.8L256 354.9L262.3 348.6L298.3 348.1L304.6 354L305.5 359.4L301 360.3L297.4 353.1L270.4 352.2L269.5 360.3L263.2 363L257.8 365.7ZM236.2 390L238.9 370.2L242.5 368.4L243.4 382.8L247 391.8L242.5 395.4L239.3 402.6L238 413.4L244.3 409.8L263.2 411.6L268.6 415.2L286.6 413.4L293.8 406.2L306.4 404.4L310.9 408L306.4 414.3L293.8 416.1L289.3 419.7L270.4 417L256 417L247 416.1L239.8 417.9L236.7 413.4ZM268.6 423.3L293.8 425.1L296.5 435L299.2 442.2L294.7 442.2L291.1 431.4L274 428.7ZM305.5 419.7L310 418.8L311.8 426L314.5 435L310 435L306.4 427.8ZM241.6 471L252.4 465.6L270.4 464.7L271.3 474.6L266.8 480L249.7 480ZM237.1 421.5L249.7 419.7L251.5 424.2L240.7 427.8ZM288.4 379.2L292 377.4L293.8 382.8L291.1 385.5ZM166 630.6L173.2 621.6L182.2 618L189.4 625.2L196.6 630.6L209.2 635.1L220 634.2L222.7 640.5L212.8 645L202 646.8L196.6 652.2L184 654.9L173.2 649.5L166 638.7ZM480 818.7L490.8 816L501.6 812.4L512.4 803.4L516.9 794.4L519.6 785.4L528.6 778.2L531.3 770.1L530.4 761.1L537.6 753.9L548.4 750.3L557.4 740.4L564.6 736.8L573.6 738.6L582.6 744L591.6 747.6L602.4 750.3L611.4 753L614.1 762L608.7 765.6L598.8 767.4L597 772.8L606 773.7L614.1 769.2L615 776.4L606 781.8L593.4 789L588 787.2L580.8 783.6L568.2 785.4L552 790.8L541.2 796.2L526.8 803.4L516 810.6L505.2 816L490.8 821.4L483.6 822.3ZM593.4 789L606 781.8L615 776.4L616.8 762L615 749.4L616.8 740.4L629.4 735L636.6 738.6L645.6 744L654.6 745.8L660 738.6L649.2 729.6L647.4 720.6L652.8 711.6L663.6 708L670.8 715.2L678 722.4L687 718.8L696 711.6L706.8 704.4L714 697.2L719.4 688.2L724.8 686.4L728.4 697.2L732 711.6L730.2 726L721.2 736.8L710.4 744L699.6 753L687 758.4L670.8 765.6L660 772.8L656.4 781.8L658.2 790.8L642 792.6L624 792.6L606 792.6ZM576.3 718.8L582.6 715.2L589.8 718.8L597 724.2L609.6 724.2L624 724.2L629.4 733.2L618.6 735L606 733.2L593.4 733.2L584.4 726L577.2 724.2ZM554.2 609.9L574.9 609L577.6 618L583 626.1L579.4 630.6L574 636L566.8 642.3L554.2 643.2L552.4 639.6L556 634.2L558.7 627L556 618ZM520.9 633.3L530.8 636L538 634.2L544.3 639.6L547 642.3L541.6 645L539.8 654L536.2 654.9L537.1 645L534.4 639.6L525.4 639.6ZM541.2 547L548.4 545.2L552 552.4L550.2 570.4L544.8 570.4L543 559.6ZM584.4 557.8L595.2 556L597 563.2L589.8 566.8L585.3 564.1ZM723 550.6L732 547L737.4 552.4L735.6 566.8L745 572.2L745 592L732 592L723 586.6L721.2 570.4ZM685.2 612.6L688.8 618L685.2 632.4L678 641.4L676.2 636L679.8 623.4ZM687 634.2L696 630.6L714 627L723 628.8L721.2 637.8L714 642.3L696 643.2L685.2 643.2ZM663.6 682.8L670.8 679.2L679.8 681L678 690L672.6 697.2L668.1 702.6L665.4 697.2L667.2 690L661.8 688.2Z" fill="none" stroke="#666" stroke-width="0.8"/>
<path d="M257.8 404.4L275.8 395.4L281.2 382.8L288.4 372L295.6 363L301 355.8L303.7 363L294.7 368.4L292 381L288.4 391.8L283 399L270.4 404.4L261.4 408ZM244.3 451.2L256 439.5L266.8 429.6L275.8 427.8L270.4 435L262.3 444L259.6 448.5L247 453ZM306.4 393.6L319 390L320.8 395.4L310 397.2ZM311.8 413.4L319 411.6L321.7 419.7L315.4 421.5ZM288.4 402.6L295.6 400.8L297.4 408L291.1 409.8ZM227.2 484L232.6 473.2L239.8 471.4L248.8 478.6L254.2 482.2L241.6 484L229 490.3Z" fill="#fff"/>
<path d="M562.8 744L568.2 742.2L570 749.4L567.3 756.6L563.7 754.8ZM565.5 760.2L571.8 758.4L575.4 767.4L571.8 774.6L567.3 772.8ZM597 766.5L607.8 764.7L614.1 768.3L606 773.7L597 772.8Z" fill="#c4c4c4" stroke="#6e6e6e" stroke-width="0.6"/>
<path d="M462 777.3L471 778.2L474.6 781.8L471.9 796.2L473.7 812.4M498 762L516 765.6L526.8 766.5M505.2 693.6L516 700.8L530.4 704.4L541.2 711.6L543 724.2L550.2 736.8L557.4 733.2L559.2 742.2M543 724.2L562.8 715.2L580.8 708L588 700.8M562.8 675.6L570 690L580.8 700.8L588 700.8L606 708L624 715.2L629.4 724.2M532.2 654L539.4 655.8M526.8 672L530.4 686.4L530.4 704.4M588 679.2L615 684.6L616.8 700.8L606 708M616.8 684.6L645.6 690L660 693.6L642 708L629.4 715.2M514.2 823.2L516 839.4L526.8 870M597 832.2L602.4 852L611.4 870M642 850.2L649.2 870M602.4 852L642 850.2L710.4 835.8L714 848.4L706.8 870M580.8 794.4L588 812.4L597 832.2M710.4 835.8L706.8 812.4L714 798M732 726L745 715.2M660 693.6L678 686.4L696 675.6L714 654L723 645M529.5 599.9L535.8 574L543 547L539.4 538L526.8 529L519.6 520M561 538L570 547L577.2 565L579 579.4M589.8 538L593.4 545.2L602.4 547L604.2 556M719.4 349L726.6 361.6L732 372.4L745 376M742.8 505.6L745 516.4M112 348.1L103.9 385L100.3 430L103 466L108.4 480.4L104.8 493L106.6 507.4M126.4 603.6L140.8 610.8L155.2 609L157 623.4L166 628.8M88.6 618L94 610.8L104.8 616.2" fill="none" stroke="#6a6a6a" stroke-width="0.7" stroke-linejoin="round"/>
<path d="M186.7 363.4L193 361.6L198.4 368.8L196.6 381.4L199.3 388.6L196.6 389.5L193 381.4L188.5 374.2ZM167.8 386.8L171.4 384.1L175.9 392.2L173.2 399.4L169.6 394ZM149.8 423.7L158.8 421.9L164.2 424.6L157 426.8L151.6 426ZM110.2 458.8L119.2 449.8L128.2 439L130 446.2L124.6 451.6L115.6 460.6L112 462.4ZM113.8 466L124.6 457L133.6 448L134.5 453.4L126.4 460.6L117.4 468.7ZM223.6 350.8L230.8 349L237.1 354.4L232.6 359.8L227.2 358Z" fill="none" stroke="#666" stroke-width="0.7"/>
<path d="M178.6 350.8L179.5 394L180.4 440.8M76 527.2L130 496.6L157 480.4L238 440.8M52.1 356.2L85 349.9L112 348.1M390 394L422.4 390.4L480 374.2L516 361.6M656.4 363.4L660 385L663.6 430L658.2 451.6L649.2 475L624 529L609.6 550.6M530.4 354.4L570 356.2L624 350.8M696 487.6L723 502L745 520M696 798L723 780L745 772.8M498 839.4L534 852L570 870" fill="none" stroke="#a8a8a8" stroke-width="0.8" stroke-dasharray="4 3"/>
<path d="M227.2 634.2C228.1 633 231.46 630.9 232.6 627C233.74 623.1 233.8 615.31 234.04 610.8C234.28 606.29 234.04 603.65 234.04 599.92C234.04 596.19 233.68 592.12 234.04 588.4C234.4 584.68 234.79 581.35 236.2 577.6C237.61 573.85 239.35 568.84 242.5 565.9C245.65 562.96 250.75 560.95 255.1 559.96C259.45 558.97 264.31 558.82 268.6 559.96C272.89 561.1 277.99 563.56 280.84 566.8C283.69 570.04 284.29 574.6 285.7 579.4C287.11 584.2 288.4 591.87 289.3 595.6C290.2 599.33 289.9 599.57 291.1 601.8C292.3 604.03 294.49 606.96 296.5 609C298.51 611.04 300.76 613.74 303.16 614.04C305.56 614.34 308.56 612.69 310.9 610.8C313.24 608.91 315.25 605.83 317.2 602.7C319.15 599.57 319.6 595.58 322.6 592C325.6 588.42 328.9 584.2 335.2 581.2C341.5 578.2 352.6 575.8 360.4 574C368.2 572.2 375.7 571.24 382 570.4C388.3 569.56 395.07 568.66 398.2 568.96C401.33 569.26 397.07 571.36 400.8 572.2C404.53 573.04 415.5 574 420.6 574C425.7 574 429 573.25 431.4 572.2C433.8 571.15 434.7 570.4 435 567.7C435.3 565 432.84 559.75 433.2 556C433.56 552.25 434.76 549.4 437.16 545.2C439.56 541 444.06 535.45 447.6 530.8C451.14 526.15 455.7 521.5 458.4 517.3C461.1 513.1 463.2 509.95 463.8 505.6C464.4 501.25 462.75 495.55 462 491.2C461.25 486.85 460.2 483.7 459.3 479.5C458.4 475.3 456.99 470.05 456.6 466C456.21 461.95 456.06 458.44 456.96 455.2C457.86 451.96 459.81 448.6 462 446.56C464.19 444.52 466.95 443.26 470.1 442.96C473.25 442.66 476.25 443.26 480.9 444.76C485.55 446.26 492.15 449.26 498 451.96C503.85 454.66 510 457.96 516 460.96C522 463.96 528 467.11 534 469.96C540 472.81 546 475.51 552 478.06C558 480.61 567 484.06 570 485.26" fill="none" stroke="#fff" stroke-width="3" stroke-dasharray="11 5.5" stroke-linecap="butt" stroke-linejoin="round"/>
<path d="M81.04 641.04C83.2 641.85 88.84 643.74 94 645.9C99.16 648.06 105.4 650.25 112 654C118.6 657.75 124 661.2 133.6 668.4C143.2 675.6 161.2 690 169.6 697.2C178 704.4 178.6 706.65 184 711.6C189.4 716.55 196 721.65 202 726.9C208 732.15 214 737.85 220 743.1C226 748.35 232 753.51 238 758.4C244 763.29 250 768 256 772.44C262 776.88 268 781.08 274 785.04C280 789 286 792.84 292 796.2C298 799.56 304 802.5 310 805.2C316 807.9 322 810.3 328 812.4C334 814.5 340 816.3 346 817.8C352 819.3 358 820.41 364 821.4C370 822.39 376 823.14 382 823.74C388 824.34 392.67 824.76 400 825C407.33 825.24 417.17 825.24 426 825.18C434.83 825.12 444.6 824.88 453 824.64C461.4 824.4 472.5 823.89 476.4 823.74" fill="none" stroke="#fff" stroke-width="3" stroke-dasharray="11 5.5" stroke-linecap="butt" stroke-linejoin="round"/>
<path d="M608.7 734.28C610.95 734.28 618.81 733.41 622.2 734.28C625.59 735.15 627.69 736.98 629.04 739.5C630.39 742.02 630.78 745.65 630.3 749.4C629.82 753.15 628.11 758.1 626.16 762C624.21 765.9 621.36 769.5 618.6 772.8C615.84 776.1 612.6 779.4 609.6 781.8C606.6 784.2 603.3 785.94 600.6 787.2C597.9 788.46 594.6 789 593.4 789.36" fill="none" stroke="#fff" stroke-width="3" stroke-dasharray="11 5.5" stroke-linecap="butt" stroke-linejoin="round"/>
<circle cx="464.7" cy="451.6" r="8.6" fill="#fff"/><circle cx="464.7" cy="451.6" r="5.9" fill="#00aa00"/>
<circle cx="507.9" cy="491.2" r="8.6" fill="#fff"/><circle cx="507.9" cy="491.2" r="5.9" fill="#00aa00"/>
<circle cx="408" cy="575.8" r="8.6" fill="#fff"/><circle cx="408" cy="575.8" r="5.9" fill="#00aa00"/>
<circle cx="495.3" cy="618" r="8.6" fill="#fff"/><circle cx="495.3" cy="618" r="5.9" fill="#00aa00"/>
<circle cx="530.9" cy="628.8" r="8.6" fill="#fff"/><circle cx="530.9" cy="628.8" r="5.9" fill="#00aa00"/>
<circle cx="532.2" cy="770.1" r="8.6" fill="#fff"/><circle cx="532.2" cy="770.1" r="5.9" fill="#00aa00"/>
<circle cx="174.1" cy="612.6" r="8.6" fill="#fff"/><circle cx="174.1" cy="612.6" r="5.9" fill="#00aa00"/>
<circle cx="93.1" cy="633.3" r="8.6" fill="#fff"/><circle cx="93.1" cy="633.3" r="5.9" fill="#00aa00"/>
<rect x="328.9" y="438.6" width="115.1" height="34.6" fill="#fff" stroke="#bdbdbd" stroke-width="1.6"/><text x="386.4" y="466" font-size="27.5" text-anchor="middle" stroke="#000">Svalbard</text>
<rect x="301.9" y="529.9" width="96.3" height="31.5" fill="#fff" stroke="#bdbdbd" stroke-width="1.6"/><text x="350" y="554" font-size="27.5" text-anchor="middle" stroke="#000">Iceland</text>
<rect x="524.6" y="501.5" width="160.1" height="32" fill="#fff" stroke="#bdbdbd" stroke-width="1.6"/><text x="604.5" y="526.8" font-size="27.5" text-anchor="middle" stroke="#000">Barents Sea</text>
<rect x="510.2" y="574" width="114.7" height="32.4" fill="#fff" stroke="#bdbdbd" stroke-width="1.6"/><text x="568" y="598" font-size="27.5" text-anchor="middle" stroke="#000">Masfjord</text>
<rect x="543.9" y="646.4" width="171.5" height="31.4" fill="#fff" stroke="#bdbdbd" stroke-width="1.6"/><text x="629.6" y="670" font-size="27.5" text-anchor="middle" stroke="#000">Gullmarsfjord</text>
<rect x="543.9" y="795.8" width="162" height="32.8" fill="#fff" stroke="#bdbdbd" stroke-width="1.6"/><text x="624.8" y="821.2" font-size="27.5" text-anchor="middle" stroke="#000">Catalan Sea</text>
<rect x="68.8" y="660.3" width="174.6" height="34.2" fill="#fff" stroke="#bdbdbd" stroke-width="1.6"/><text x="156" y="685.2" font-size="27.5" text-anchor="middle" stroke="#000">Gulf of Maine</text>
<rect x="58" y="530.8" width="166.5" height="55.8" fill="#fff" stroke="#bdbdbd" stroke-width="1.6"/><text x="142.6" y="554" font-size="27.5" text-anchor="middle" stroke="#000">Gulf of</text><text x="141.4" y="582" font-size="27.5" text-anchor="middle" stroke="#000">St. Lawrence</text>
<rect x="58" y="822.3" width="239.4" height="38.7" fill="#c8c8c8" stroke="#8a8a8a" stroke-width="2.6"/>
<line x1="66.5" y1="841.2" x2="106" y2="841.2" stroke="#fff" stroke-width="3" stroke-dasharray="11 3.2"/>
<text x="115" y="846" font-size="27.5" stroke="#000">species range</text>
<text x="400.2" y="427.2" font-size="27.5" stroke="#000">n=9</text>
<text x="339" y="517.2" font-size="27.5" stroke="#000">n=10</text>
<text x="625" y="488.8" font-size="27.5" stroke="#000">n=10</text>
<text x="629.8" y="597.2" font-size="27.5" stroke="#000">n=10</text>
<text x="53.8" y="613.2" font-size="27.5" stroke="#000">n=10</text>
<text x="65" y="721.2" font-size="27.5" stroke="#000">n=10</text>
<text x="539" y="706" font-size="27.5" stroke="#000">n=8</text>
<text x="661.8" y="782" font-size="27.5" stroke="#000">n=7</text>
</g>
<rect x="79.6" y="895.9" width="638.2" height="27.8" fill="#fff" stroke="#e3e3e3" stroke-width="1"/>
<rect x="88.1" y="895.9" width="8.93" height="27.8" fill="#440044" stroke="#000" stroke-opacity="0.22" stroke-width="0.5"/>
<rect x="96.73" y="895.9" width="8.93" height="27.8" fill="#4a004a" stroke="#000" stroke-opacity="0.22" stroke-width="0.5"/>
<rect x="105.35" y="895.9" width="8.93" height="27.8" fill="#570057" stroke="#000" stroke-opacity="0.22" stroke-width="0.5"/>
<rect x="113.98" y="895.9" width="8.93" height="27.8" fill="#640064" stroke="#000" stroke-opacity="0.22" stroke-width="0.5"/>
<rect x="122.6" y="895.9" width="8.93" height="27.8" fill="#730073" stroke="#000" stroke-opacity="0.22" stroke-width="0.5"/>
<rect x="131.23" y="895.9" width="8.93" height="27.8" fill="#850085" stroke="#000" stroke-opacity="0.22" stroke-width="0.5"/>
<rect x="139.86" y="895.9" width="8.93" height="27.8" fill="#970097" stroke="#000" stroke-opacity="0.22" stroke-width="0.5"/>
<rect x="148.48" y="895.9" width="8.93" height="27.8" fill="#ab00ab" stroke="#000" stroke-opacity="0.22" stroke-width="0.5"/>
<rect x="157.11" y="895.9" width="8.93" height="27.8" fill="#c000c0" stroke="#000" stroke-opacity="0.22" stroke-width="0.5"/>
<rect x="165.73" y="895.9" width="8.93" height="27.8" fill="#d500d5" stroke="#000" stroke-opacity="0.22" stroke-width="0.5"/>
<rect x="174.36" y="895.9" width="8.93" height="27.8" fill="#e800e8" stroke="#000" stroke-opacity="0.22" stroke-width="0.5"/>
<rect x="182.99" y="895.9" width="8.93" height="27.8" fill="#f700f7" stroke="#000" stroke-opacity="0.22" stroke-width="0.5"/>
<rect x="191.61" y="895.9" width="8.93" height="27.8" fill="#f300f9" stroke="#000" stroke-opacity="0.22" stroke-width="0.5"/>
<rect x="200.24" y="895.9" width="8.93" height="27.8" fill="#dc00ee" stroke="#000" stroke-opacity="0.22" stroke-width="0.5"/>
<rect x="208.86" y="895.9" width="8.93" height="27.8" fill="#c400df" stroke="#000" stroke-opacity="0.22" stroke-width="0.5"/>
<rect x="217.49" y="895.9" width="8.93" height="27.8" fill="#ab00ce" stroke="#000" stroke-opacity="0.22" stroke-width="0.5"/>
<rect x="226.12" y="895.9" width="8.93" height="27.8" fill="#9200bd" stroke="#000" stroke-opacity="0.22" stroke-width="0.5"/>
<rect x="234.74" y="895.9" width="8.93" height="27.8" fill="#7c00ae" stroke="#000" stroke-opacity="0.22" stroke-width="0.5"/>
<rect x="243.37" y="895.9" width="8.93" height="27.8" fill="#6700a2" stroke="#000" stroke-opacity="0.22" stroke-width="0.5"/>
<rect x="251.99" y="895.9" width="8.93" height="27.8" fill="#520096" stroke="#000" stroke-opacity="0.22" stroke-width="0.5"/>
<rect x="260.62" y="895.9" width="8.93" height="27.8" fill="#3c0288" stroke="#000" stroke-opacity="0.22" stroke-width="0.5"/>
<rect x="269.25" y="895.9" width="8.93" height="27.8" fill="#240678" stroke="#000" stroke-opacity="0.22" stroke-width="0.5"/>
<rect x="277.87" y="895.9" width="8.93" height="27.8" fill="#121076" stroke="#000" stroke-opacity="0.22" stroke-width="0.5"/>
<rect x="286.5" y="895.9" width="8.93" height="27.8" fill="#062082" stroke="#000" stroke-opacity="0.22" stroke-width="0.5"/>
<rect x="295.12" y="895.9" width="8.93" height="27.8" fill="#003790" stroke="#000" stroke-opacity="0.22" stroke-width="0.5"/>
<rect x="303.75" y="895.9" width="8.93" height="27.8" fill="#0054a0" stroke="#000" stroke-opacity="0.22" stroke-width="0.5"/>
<rect x="312.38" y="895.9" width="8.93" height="27.8" fill="#0071b0" stroke="#000" stroke-opacity="0.22" stroke-width="0.5"/>
<rect x="321" y="895.9" width="8.93" height="27.8" fill="#008cbf" stroke="#000" stroke-opacity="0.22" stroke-width="0.5"/>
<rect x="329.63" y="895.9" width="8.93" height="27.8" fill="#00a4cc" stroke="#000" stroke-opacity="0.22" stroke-width="0.5"/>
<rect x="338.25" y="895.9" width="8.93" height="27.8" fill="#00bcd9" stroke="#000" stroke-opacity="0.22" stroke-width="0.5"/>
<rect x="346.88" y="895.9" width="8.93" height="27.8" fill="#00d6e8" stroke="#000" stroke-opacity="0.22" stroke-width="0.5"/>
<rect x="355.51" y="895.9" width="8.93" height="27.8" fill="#00f1f7" stroke="#000" stroke-opacity="0.22" stroke-width="0.5"/>
<rect x="364.13" y="895.9" width="8.93" height="27.8" fill="#00f5f1" stroke="#000" stroke-opacity="0.22" stroke-width="0.5"/>
<rect x="372.76" y="895.9" width="8.93" height="27.8" fill="#00e2d6" stroke="#000" stroke-opacity="0.22" stroke-width="0.5"/>
<rect x="381.38" y="895.9" width="8.93" height="27.8" fill="#00cfbf" stroke="#000" stroke-opacity="0.22" stroke-width="0.5"/>
<rect x="390.01" y="895.9" width="8.93" height="27.8" fill="#00bcac" stroke="#000" stroke-opacity="0.22" stroke-width="0.5"/>
<rect x="398.64" y="895.9" width="8.93" height="27.8" fill="#00a999" stroke="#000" stroke-opacity="0.22" stroke-width="0.5"/>
<rect x="407.26" y="895.9" width="8.93" height="27.8" fill="#009784" stroke="#000" stroke-opacity="0.22" stroke-width="0.5"/>
<rect x="415.89" y="895.9" width="8.93" height="27.8" fill="#00846c" stroke="#000" stroke-opacity="0.22" stroke-width="0.5"/>
<rect x="424.52" y="895.9" width="8.93" height="27.8" fill="#007154" stroke="#000" stroke-opacity="0.22" stroke-width="0.5"/>
<rect x="433.14" y="895.9" width="8.93" height="27.8" fill="#006240" stroke="#000" stroke-opacity="0.22" stroke-width="0.5"/>
<rect x="441.77" y="895.9" width="8.93" height="27.8" fill="#005630" stroke="#000" stroke-opacity="0.22" stroke-width="0.5"/>
<rect x="450.39" y="895.9" width="8.93" height="27.8" fill="#0a5624" stroke="#000" stroke-opacity="0.22" stroke-width="0.5"/>
<rect x="459.02" y="895.9" width="8.93" height="27.8" fill="#1e621c" stroke="#000" stroke-opacity="0.22" stroke-width="0.5"/>
<rect x="467.65" y="895.9" width="8.93" height="27.8" fill="#347117" stroke="#000" stroke-opacity="0.22" stroke-width="0.5"/>
<rect x="476.27" y="895.9" width="8.93" height="27.8" fill="#4c8214" stroke="#000" stroke-opacity="0.22" stroke-width="0.5"/>
<rect x="484.9" y="895.9" width="8.93" height="27.8" fill="#649311" stroke="#000" stroke-opacity="0.22" stroke-width="0.5"/>
<rect x="493.52" y="895.9" width="8.93" height="27.8" fill="#7fa50f" stroke="#000" stroke-opacity="0.22" stroke-width="0.5"/>
<rect x="502.15" y="895.9" width="8.93" height="27.8" fill="#9cb60c" stroke="#000" stroke-opacity="0.22" stroke-width="0.5"/>
<rect x="510.78" y="895.9" width="8.93" height="27.8" fill="#b9c709" stroke="#000" stroke-opacity="0.22" stroke-width="0.5"/>
<rect x="519.4" y="895.9" width="8.93" height="27.8" fill="#d6dc06" stroke="#000" stroke-opacity="0.22" stroke-width="0.5"/>
<rect x="528.03" y="895.9" width="8.93" height="27.8" fill="#f1f302" stroke="#000" stroke-opacity="0.22" stroke-width="0.5"/>
<rect x="536.65" y="895.9" width="8.93" height="27.8" fill="#fff300" stroke="#000" stroke-opacity="0.22" stroke-width="0.5"/>
<rect x="545.28" y="895.9" width="8.93" height="27.8" fill="#ffdc00" stroke="#000" stroke-opacity="0.22" stroke-width="0.5"/>
<rect x="553.91" y="895.9" width="8.93" height="27.8" fill="#ffc500" stroke="#000" stroke-opacity="0.22" stroke-width="0.5"/>
<rect x="562.53" y="895.9" width="8.93" height="27.8" fill="#ffb000" stroke="#000" stroke-opacity="0.22" stroke-width="0.5"/>
<rect x="571.16" y="895.9" width="8.93" height="27.8" fill="#ff9b00" stroke="#000" stroke-opacity="0.22" stroke-width="0.5"/>
<rect x="579.78" y="895.9" width="8.93" height="27.8" fill="#ff8300" stroke="#000" stroke-opacity="0.22" stroke-width="0.5"/>
<rect x="588.41" y="895.9" width="8.93" height="27.8" fill="#ff6800" stroke="#000" stroke-opacity="0.22" stroke-width="0.5"/>
<rect x="597.04" y="895.9" width="8.93" height="27.8" fill="#ff4d00" stroke="#000" stroke-opacity="0.22" stroke-width="0.5"/>
<rect x="605.66" y="895.9" width="8.93" height="27.8" fill="#ff3000" stroke="#000" stroke-opacity="0.22" stroke-width="0.5"/>
<rect x="614.29" y="895.9" width="8.93" height="27.8" fill="#ff1000" stroke="#000" stroke-opacity="0.22" stroke-width="0.5"/>
<rect x="622.91" y="895.9" width="8.93" height="27.8" fill="#f70000" stroke="#000" stroke-opacity="0.22" stroke-width="0.5"/>
<rect x="631.54" y="895.9" width="8.93" height="27.8" fill="#e70000" stroke="#000" stroke-opacity="0.22" stroke-width="0.5"/>
<rect x="640.17" y="895.9" width="8.93" height="27.8" fill="#d80000" stroke="#000" stroke-opacity="0.22" stroke-width="0.5"/>
<rect x="648.79" y="895.9" width="8.93" height="27.8" fill="#c80000" stroke="#000" stroke-opacity="0.22" stroke-width="0.5"/>
<rect x="657.42" y="895.9" width="8.93" height="27.8" fill="#b80000" stroke="#000" stroke-opacity="0.22" stroke-width="0.5"/>
<rect x="666.04" y="895.9" width="8.93" height="27.8" fill="#a80000" stroke="#000" stroke-opacity="0.22" stroke-width="0.5"/>
<rect x="674.67" y="895.9" width="8.93" height="27.8" fill="#980000" stroke="#000" stroke-opacity="0.22" stroke-width="0.5"/>
<rect x="683.3" y="895.9" width="8.93" height="27.8" fill="#880000" stroke="#000" stroke-opacity="0.22" stroke-width="0.5"/>
<rect x="691.92" y="895.9" width="8.93" height="27.8" fill="#780000" stroke="#000" stroke-opacity="0.22" stroke-width="0.5"/>
<rect x="700.55" y="895.9" width="8.93" height="27.8" fill="#680000" stroke="#000" stroke-opacity="0.22" stroke-width="0.5"/>
<rect x="709.17" y="895.9" width="8.93" height="27.8" fill="#580000" stroke="#000" stroke-opacity="0.22" stroke-width="0.5"/>
<text x="88.95" y="957.07" font-size="27.5" text-anchor="middle" stroke="#000" transform="rotate(-45 88.95 947.22)">-1</text>
<text x="132.08" y="961.91" font-size="27.5" text-anchor="middle" stroke="#000" transform="rotate(-45 132.08 952.07)">1.5</text>
<text x="175.21" y="953.82" font-size="27.5" text-anchor="middle" stroke="#000" transform="rotate(-45 175.21 943.97)">4</text>
<text x="218.34" y="961.91" font-size="27.5" text-anchor="middle" stroke="#000" transform="rotate(-45 218.34 952.07)">6.5</text>
<text x="261.47" y="953.82" font-size="27.5" text-anchor="middle" stroke="#000" transform="rotate(-45 261.47 943.97)">9</text>
<text x="304.6" y="966.61" font-size="27.5" text-anchor="middle" stroke="#000" transform="rotate(-45 304.6 956.77)">11.5</text>
<text x="347.73" y="959.23" font-size="27.5" text-anchor="middle" stroke="#000" transform="rotate(-45 347.73 949.38)">14</text>
<text x="390.86" y="967.32" font-size="27.5" text-anchor="middle" stroke="#000" transform="rotate(-45 390.86 957.48)">16.5</text>
<text x="433.99" y="959.23" font-size="27.5" text-anchor="middle" stroke="#000" transform="rotate(-45 433.99 949.38)">19</text>
<text x="477.12" y="967.32" font-size="27.5" text-anchor="middle" stroke="#000" transform="rotate(-45 477.12 957.48)">21.5</text>
<text x="520.25" y="959.23" font-size="27.5" text-anchor="middle" stroke="#000" transform="rotate(-45 520.25 949.38)">24</text>
<text x="563.38" y="967.32" font-size="27.5" text-anchor="middle" stroke="#000" transform="rotate(-45 563.38 957.48)">26.5</text>
<text x="606.51" y="959.23" font-size="27.5" text-anchor="middle" stroke="#000" transform="rotate(-45 606.51 949.38)">29</text>
<text x="649.64" y="967.32" font-size="27.5" text-anchor="middle" stroke="#000" transform="rotate(-45 649.64 957.48)">31.5</text>
<text x="692.77" y="959.23" font-size="27.5" text-anchor="middle" stroke="#000" transform="rotate(-45 692.77 949.38)">34</text>
<text x="399" y="1023" font-size="27.8" text-anchor="middle" stroke="#000">Average Sea Surface Temperature</text>
<text x="399" y="1052.5" font-size="27.8" text-anchor="middle" stroke="#000" xml:space="preserve">OISST V2  2005–2015 (°C)</text>
</g>
<g id="panel_b">
<text x="808" y="28.5" font-size="37" stroke="#000" font-weight="bold">b</text>
<text x="919.5" y="69.5" font-size="33.4" stroke="#000">Genome assembly: 19.2 Gb N50 scaffold=221 kb contig=46 kb</text>
<rect x="890.9" y="114" width="330.1" height="37" fill="#2d5f9a"/>
<rect x="1227.2" y="114" width="11.1" height="37" fill="#ff7073"/>
<rect x="1244.6" y="114" width="61.4" height="37" fill="#ffc000"/>
<rect x="1312.4" y="114" width="42.9" height="37" fill="#999999"/>
<rect x="890.9" y="158" width="377.1" height="37" fill="#2d5f9a"/>
<rect x="1274.3" y="158" width="9.7" height="37" fill="#ff7073"/>
<rect x="1290.5" y="158" width="23.1" height="37" fill="#ffc000"/>
<rect x="1320" y="158" width="35.3" height="37" fill="#999999"/>
<text x="1057" y="145" font-size="33.5" text-anchor="middle" fill="#fff" stroke="#fff">72</text>
<text x="1184" y="145" font-size="33.5" text-anchor="middle" fill="#ff7073" stroke="#ff7073">3.7</text>
<text x="1275.5" y="145" font-size="33.5" text-anchor="middle" fill="#fff" stroke="#fff">14</text>
<text x="1334" y="145" font-size="33.5" text-anchor="middle" fill="#fff" stroke="#fff">10</text>
<text x="1080" y="189" font-size="33.5" text-anchor="middle" fill="#fff" stroke="#fff">82</text>
<text x="1230.5" y="189" font-size="33.5" text-anchor="middle" fill="#ff7073" stroke="#ff7073">3.4</text>
<text x="1302" y="189" font-size="33.5" text-anchor="middle" fill="#fff" stroke="#fff">6</text>
<text x="1337.5" y="189" font-size="33.5" text-anchor="middle" fill="#fff" stroke="#fff">9</text>
<text x="1381.5" y="139.5" font-size="27.8" stroke="#000">genome</text>
<text x="1381.5" y="183.4" font-size="27.8" stroke="#000">proteins</text>
<rect x="1540.3" y="129" width="14.5" height="14.5" fill="#2d5f9a"/>
<rect x="1540.3" y="162" width="14.5" height="14.5" fill="#ffc000"/>
<rect x="1736.3" y="129" width="14.5" height="14.5" fill="#ff7073"/>
<rect x="1736.3" y="162" width="14.5" height="14.5" fill="#999999"/>
<text x="1563.5" y="144.5" font-size="27.8" stroke="#000">single-copy</text>
<text x="1563.5" y="177.5" font-size="27.8" stroke="#000">fragmented</text>
<text x="1759.5" y="144.5" font-size="27.8" stroke="#000">duplicated</text>
<text x="1759.5" y="177.5" font-size="27.8" stroke="#000">missing</text>
<text x="946" y="243" font-size="33.4" stroke="#000">Proportion of genes (%)</text>
<text x="1351" y="275.5" font-size="27.8" stroke="#000">5′-UTR (7.6 Mb)</text>
<text x="1563.5" y="275.5" font-size="27.8" stroke="#000">cds (44.2 Mb)</text>
<text x="1752" y="275.5" font-size="27.8" stroke="#000">(1,985 Mb)</text>
<rect x="892.1" y="298" width="936.2" height="72" fill="#ececec"/>
<path d="M938.91 298V370M985.72 298V370M1032.53 298V370M1079.34 298V370M1126.15 298V370M1172.96 298V370M1219.77 298V370M1266.58 298V370M1313.39 298V370M1360.2 298V370M1407.01 298V370M1453.82 298V370M1500.63 298V370M1547.44 298V370M1594.25 298V370M1641.06 298V370M1687.87 298V370M1734.68 298V370M1781.49 298V370" fill="none" stroke="#fff" stroke-width="2.3" stroke-dasharray="2.4 2.4"/>
<rect x="892.1" y="316.3" width="839.5" height="36.3" fill="#74a0d2"/>
<rect x="1731.6" y="316.3" width="1.8" height="36.3" fill="#f0c030"/>
<rect x="1733.4" y="316.3" width="93.9" height="36.3" fill="#73b861"/>
<rect x="1827.1" y="316.3" width="1.4" height="36.3" fill="#8a2040"/>
<text x="1335" y="342.1" font-size="27.8" text-anchor="middle" stroke="#000">intergenic (17,680 Mb)</text>
<text x="1780.5" y="342.1" font-size="27.8" text-anchor="middle" stroke="#000">intron</text>
<text x="1908" y="330.2" font-size="27.8" text-anchor="middle" stroke="#000">3′-UTR</text>
<text x="1908" y="366" font-size="27.8" text-anchor="middle" stroke="#000">(15.8 Mb)</text>
<line x1="1551" y1="287.3" x2="1731.5" y2="316.4" stroke="#c8cfc0" stroke-width="2.1" stroke-dasharray="2.5 2.5"/>
<line x1="1696.4" y1="287.3" x2="1732.7" y2="316.4" stroke="#d8d0b8" stroke-width="2.1" stroke-dasharray="2.5 2.5"/>
<line x1="1820.2" y1="286.4" x2="1781.6" y2="314.4" stroke="#c0d0c0" stroke-width="2.1" stroke-dasharray="2.5 2.5"/>
<line x1="1832" y1="334.5" x2="1851" y2="334.5" stroke="#ccc" stroke-width="2.1" stroke-dasharray="2.5 2.5"/>
<line x1="891.1" y1="377.5" x2="1829.3" y2="377.5" stroke="#000" stroke-width="2.2"/>
<path d="M892.1 377.5v5.2M938.91 377.5v3.2M985.72 377.5v5.2M1032.53 377.5v3.2M1079.34 377.5v5.2M1126.15 377.5v3.2M1172.96 377.5v5.2M1219.77 377.5v3.2M1266.58 377.5v5.2M1313.39 377.5v3.2M1360.2 377.5v5.2M1407.01 377.5v3.2M1453.82 377.5v5.2M1500.63 377.5v3.2M1547.44 377.5v5.2M1594.25 377.5v3.2M1641.06 377.5v5.2M1687.87 377.5v3.2M1734.68 377.5v5.2M1781.49 377.5v3.2M1828.3 377.5v5.2" fill="none" stroke="#000" stroke-width="2"/>
<text x="892.1" y="409.6" font-size="29.4" text-anchor="middle" stroke="#000">0</text>
<text x="985.72" y="409.6" font-size="29.4" text-anchor="middle" stroke="#000">10</text>
<text x="1079.34" y="409.6" font-size="29.4" text-anchor="middle" stroke="#000">20</text>
<text x="1172.96" y="409.6" font-size="29.4" text-anchor="middle" stroke="#000">30</text>
<text x="1266.58" y="409.6" font-size="29.4" text-anchor="middle" stroke="#000">40</text>
<text x="1360.2" y="409.6" font-size="29.4" text-anchor="middle" stroke="#000">50</text>
<text x="1453.82" y="409.6" font-size="29.4" text-anchor="middle" stroke="#000">60</text>
<text x="1547.44" y="409.6" font-size="29.4" text-anchor="middle" stroke="#000">70</text>
<text x="1641.06" y="409.6" font-size="29.4" text-anchor="middle" stroke="#000">80</text>
<text x="1734.68" y="409.6" font-size="29.4" text-anchor="middle" stroke="#000">90</text>
<text x="1828.3" y="409.6" font-size="29.4" text-anchor="middle" stroke="#000">100</text>
<text x="1360" y="455.5" font-size="33.4" text-anchor="middle" stroke="#000">Part of genome (%)</text>
</g>
<g id="panel_c">
<text x="808" y="534" font-size="37" stroke="#000" font-weight="bold">c</text>
<path d="M1246.6 644L1246.6 509A135 135 0 0 1 1360.58 571.66Z" fill="#808080" stroke="#fff" stroke-width="1.4" stroke-linejoin="round"/>
<path d="M1246.6 644L1360.58 571.66A135 135 0 0 1 1362.37 574.55Z" fill="#0d4a8c" stroke="#fff" stroke-width="1.4" stroke-linejoin="round"/>
<path d="M1246.6 644L1362.37 574.55A135 135 0 0 1 1364.07 577.48Z" fill="#7fc4f5" stroke="#fff" stroke-width="1.4" stroke-linejoin="round"/>
<path d="M1246.6 644L1364.07 577.48A135 135 0 0 1 1381.38 636.37Z" fill="#7d0022" stroke="#fff" stroke-width="1.4" stroke-linejoin="round"/>
<path d="M1246.6 644L1381.38 636.37A135 135 0 0 1 1268.56 777.2Z" fill="#ffc000" stroke="#fff" stroke-width="1.4" stroke-linejoin="round"/>
<path d="M1246.6 644L1268.56 777.2A135 135 0 0 1 1135.91 721.28Z" fill="#aed096" stroke="#fff" stroke-width="1.4" stroke-linejoin="round"/>
<path d="M1246.6 644L1135.91 721.28A135 135 0 0 1 1111.67 648.24Z" fill="#739fd1" stroke="#fff" stroke-width="1.4" stroke-linejoin="round"/>
<path d="M1246.6 644L1111.67 648.24A135 135 0 0 1 1246.6 509Z" fill="#dddddd" stroke="#fff" stroke-width="1.4" stroke-linejoin="round"/>
<text x="1294" y="559" font-size="26.6" text-anchor="middle" fill="#fff" stroke="#fff">16.0</text>
<text x="1175" y="584.4" font-size="26.6" text-anchor="middle" stroke="#000">25.4</text>
<text x="1395.3" y="553" font-size="26.6" text-anchor="middle" stroke="#000">0.4</text>
<text x="1407" y="586.6" font-size="26.6" text-anchor="middle" stroke="#000">0.4</text>
<text x="1349.5" y="625.6" font-size="26.6" text-anchor="middle" fill="#fff" stroke="#fff">7.3</text>
<text x="1144" y="687" font-size="26.6" text-anchor="middle" stroke="#000">9.2</text>
<text x="1322" y="711.6" font-size="26.6" text-anchor="middle" stroke="#000">23.3</text>
<text x="1205" y="754.4" font-size="26.6" text-anchor="middle" stroke="#000">17.9</text>
<line x1="1364.5" y1="568.5" x2="1375.5" y2="557" stroke="#c8c8c8" stroke-width="2.4" stroke-dasharray="3 3"/>
<line x1="1367" y1="575.5" x2="1384" y2="577.5" stroke="#c8c8c8" stroke-width="2.4" stroke-dasharray="3 3"/>
<text x="1089" y="535.6" font-size="37" stroke="#000" font-style="italic">i</text>
<text x="905" y="635" font-size="37" stroke="#000" font-style="italic">ii</text>
<path d="M969.6 995.2h5.6v-5.17h-5.6zM978.13 995.2h5.6v-9.05h-5.6zM986.66 995.2h5.6v-14.74h-5.6zM995.19 995.2h5.6v-18.62h-5.6zM1003.72 995.2h5.6v-21.98h-5.6zM1012.25 995.2h5.6v-26.89h-5.6zM1020.78 995.2h5.6v-34.91h-5.6zM1029.31 995.2h5.6v-43.96h-5.6zM1037.84 995.2h5.6v-54.82h-5.6zM1046.37 995.2h5.6v-67.23h-5.6zM1054.9 995.2h5.6v-74.98h-5.6zM1063.43 995.2h5.6v-76.28h-5.6zM1071.96 995.2h5.6v-76.79h-5.6zM1080.49 995.2h5.6v-74.21h-5.6zM1089.02 995.2h5.6v-71.11h-5.6zM1097.55 995.2h5.6v-69.81h-5.6zM1106.08 995.2h5.6v-68h-5.6zM1114.61 995.2h5.6v-65.16h-5.6zM1123.14 995.2h5.6v-62.83h-5.6zM1131.67 995.2h5.6v-59.47h-5.6zM1140.2 995.2h5.6v-56.88h-5.6zM1148.73 995.2h5.6v-53.01h-5.6zM1157.26 995.2h5.6v-49.9h-5.6zM1165.79 995.2h5.6v-47.06h-5.6zM1174.32 995.2h5.6v-44.73h-5.6zM1182.85 995.2h5.6v-41.89h-5.6zM1191.38 995.2h5.6v-38.78h-5.6zM1199.91 995.2h5.6v-34.91h-5.6zM1208.44 995.2h5.6v-31.03h-5.6zM1216.97 995.2h5.6v-27.15h-5.6zM1225.5 995.2h5.6v-23.79h-5.6zM1234.03 995.2h5.6v-20.69h-5.6zM1242.56 995.2h5.6v-15.4h-5.6zM1251.09 995.2h5.6v-12.4h-5.6zM1259.62 995.2h5.6v-10h-5.6zM1268.15 995.2h5.6v-7.4h-5.6zM1276.68 995.2h5.6v-5.4h-5.6zM1285.21 995.2h5.6v-3.4h-5.6zM1293.74 995.2h5.6v-2h-5.6zM1302.27 995.2h5.6v-1h-5.6zM1310.8 995.2h5.6v-0.6h-5.6z" fill="#808080"/>
<path d="M969.6 989.58h5.6v-2.14h-5.6zM978.13 985.7h5.6v-8.08h-5.6zM986.66 980.01h5.6v-19.72h-5.6zM995.19 976.13h5.6v-29.54h-5.6zM1003.72 972.77h5.6v-32.39h-5.6zM1012.25 967.86h5.6v-37.3h-5.6zM1020.78 959.84h5.6v-34.46h-5.6zM1029.31 950.79h5.6v-34.46h-5.6zM1037.84 939.93h5.6v-36.52h-5.6zM1046.37 927.52h5.6v-39.11h-5.6zM1054.9 919.77h5.6v-40.92h-5.6zM1063.43 918.47h5.6v-40.14h-5.6zM1071.96 917.96h5.6v-38.59h-5.6zM1080.49 920.54h5.6v-36.01h-5.6zM1089.02 923.64h5.6v-35.75h-5.6zM1097.55 924.94h5.6v-36.27h-5.6zM1106.08 926.75h5.6v-36.27h-5.6zM1114.61 929.59h5.6v-34.71h-5.6zM1123.14 931.92h5.6v-32.39h-5.6zM1131.67 935.28h5.6v-30.58h-5.6zM1140.2 937.87h5.6v-29.28h-5.6zM1148.73 941.74h5.6v-27.99h-5.6zM1157.26 944.85h5.6v-27.99h-5.6zM1165.79 947.69h5.6v-27.48h-5.6zM1174.32 950.02h5.6v-25.92h-5.6zM1182.85 952.86h5.6v-23.6h-5.6zM1191.38 955.97h5.6v-20.75h-5.6zM1199.91 959.84h5.6v-18.17h-5.6zM1208.44 963.72h5.6v-15.06h-5.6zM1216.97 967.6h5.6v-13h-5.6zM1225.5 970.96h5.6v-10.67h-5.6zM1234.03 974.06h5.6v-9.38h-5.6zM1242.56 979.35h5.6v-7.15h-5.6zM1251.09 982.35h5.6v-5.95h-5.6zM1259.62 984.75h5.6v-4.75h-5.6zM1268.15 987.35h5.6v-3.55h-5.6zM1276.68 989.35h5.6v-2.55h-5.6zM1285.21 991.35h5.6v-1.95h-5.6zM1293.74 992.75h5.6v-1.35h-5.6zM1302.27 993.75h5.6v-0.95h-5.6zM1310.8 994.15h5.6v-0.15h-5.6z" fill="#739fd1"/>
<path d="M969.6 986.99h5.6v-8.6h-5.6zM978.13 977.17h5.6v-22.82h-5.6zM986.66 959.84h5.6v-40.92h-5.6zM995.19 946.14h5.6v-53.85h-5.6zM1003.72 939.93h5.6v-63.67h-5.6zM1012.25 930.11h5.6v-66h-5.6zM1020.78 924.94h5.6v-72.47h-5.6zM1029.31 915.89h5.6v-81h-5.6zM1037.84 902.96h5.6v-85.65h-5.6zM1046.37 887.96h5.6v-86.69h-5.6zM1054.9 878.4h5.6v-82.29h-5.6zM1063.43 877.88h5.6v-79.19h-5.6zM1071.96 878.91h5.6v-79.71h-5.6zM1080.49 884.08h5.6v-78.93h-5.6zM1089.02 887.45h5.6v-74.53h-5.6zM1097.55 888.22h5.6v-68.33h-5.6zM1106.08 890.03h5.6v-60.83h-5.6zM1114.61 894.43h5.6v-56.18h-5.6zM1123.14 899.08h5.6v-51.78h-5.6zM1131.67 904.25h5.6v-48.68h-5.6zM1140.2 908.13h5.6v-46.87h-5.6zM1148.73 913.3h5.6v-44.8h-5.6zM1157.26 916.4h5.6v-42.73h-5.6zM1165.79 919.77h5.6v-40.14h-5.6zM1174.32 923.64h5.6v-37.56h-5.6zM1182.85 928.82h5.6v-34.46h-5.6zM1191.38 934.76h5.6v-32.13h-5.6zM1199.91 941.23h5.6v-30.06h-5.6zM1208.44 948.21h5.6v-26.7h-5.6zM1216.97 954.16h5.6v-24.37h-5.6zM1225.5 959.84h5.6v-22.3h-5.6zM1234.03 964.24h5.6v-18.94h-5.6zM1242.56 971.75h5.6v-17.35h-5.6zM1251.09 975.95h5.6v-15.15h-5.6zM1259.62 979.55h5.6v-12.75h-5.6zM1268.15 983.35h5.6v-11.15h-5.6zM1276.68 986.35h5.6v-9.55h-5.6zM1285.21 988.95h5.6v-8.15h-5.6zM1293.74 990.95h5.6v-6.55h-5.6zM1302.27 992.35h5.6v-5.55h-5.6zM1310.8 993.55h5.6v-4.75h-5.6zM1319.33 994.15h5.6v-3.35h-5.6zM1327.86 994.55h5.6v-2.15h-5.6zM1336.39 994.75h5.6v-1.15h-5.6zM1344.92 994.75h5.6v-0.35h-5.6z" fill="#aed096"/>
<path d="M969.6 977.94h5.6v-9.38h-5.6zM978.13 953.9h5.6v-34.2h-5.6zM986.66 918.47h5.6v-66.26h-5.6zM995.19 891.84h5.6v-86.17h-5.6zM1003.72 875.81h5.6v-109.44h-5.6zM1012.25 863.66h5.6v-127.02h-5.6zM1020.78 852.02h5.6v-142.02h-5.6zM1029.31 834.44h5.6v-130.64h-5.6zM1037.84 816.86h5.6v-117.2h-5.6zM1046.37 800.83h5.6v-106.08h-5.6zM1054.9 795.65h5.6v-92.12h-5.6zM1063.43 798.24h5.6v-82.81h-5.6zM1071.96 798.76h5.6v-79.71h-5.6zM1080.49 804.7h5.6v-78.41h-5.6zM1089.02 812.46h5.6v-71.95h-5.6zM1097.55 819.44h5.6v-65.23h-5.6zM1106.08 828.75h5.6v-60.31h-5.6zM1114.61 837.8h5.6v-57.21h-5.6zM1123.14 846.85h5.6v-56.69h-5.6zM1131.67 855.12h5.6v-55.66h-5.6zM1140.2 860.81h5.6v-53.59h-5.6zM1148.73 868.05h5.6v-51.26h-5.6zM1157.26 873.22h5.6v-48.16h-5.6zM1165.79 879.17h5.6v-45.57h-5.6zM1174.32 885.64h5.6v-42.47h-5.6zM1182.85 893.91h5.6v-41.44h-5.6zM1191.38 902.18h5.6v-38.85h-5.6zM1199.91 910.72h5.6v-35.23h-5.6zM1208.44 921.06h5.6v-33.68h-5.6zM1216.97 929.33h5.6v-30.58h-5.6zM1225.5 937.09h5.6v-28.51h-5.6zM1234.03 944.85h5.6v-26.7h-5.6zM1242.56 953.95h5.6v-25.15h-5.6zM1251.09 960.35h5.6v-22.15h-5.6zM1259.62 966.35h5.6v-19.95h-5.6zM1268.15 971.75h5.6v-17.35h-5.6zM1276.68 976.35h5.6v-14.15h-5.6zM1285.21 980.35h5.6v-12.15h-5.6zM1293.74 983.95h5.6v-9.95h-5.6zM1302.27 986.35h5.6v-7.55h-5.6zM1310.8 988.35h5.6v-5.95h-5.6zM1319.33 990.35h5.6v-4.55h-5.6zM1327.86 991.95h5.6v-3.15h-5.6zM1336.39 993.15h5.6v-2.35h-5.6zM1344.92 993.95h5.6v-1.55h-5.6zM1353.45 994.35h5.6v-0.95h-5.6zM1361.98 994.55h5.6v-0.55h-5.6zM1370.51 994.75h5.6v-0.35h-5.6z" fill="#ffc000"/>
<path d="M969.1 966.17h6.6M977.63 917.55h6.6M986.16 850.07h6.6M994.69 801.98h6.6M1003.22 763.97h6.6M1011.75 734.23h6.6M1020.28 708.12h6.6M1028.81 701.91h6.6M1037.34 697.26h6.6M1045.87 692.09h6.6M1054.4 701.65h6.6M1062.93 713.29h6.6M1071.46 717.17h6.6M1079.99 724.92h6.6M1088.52 738.63h6.6M1097.05 752.33h6.6M1105.58 766.55h6.6M1114.11 778.71h6.6M1122.64 788.53h6.6M1131.17 797.58h6.6M1139.7 805.6h6.6M1148.23 815.42h6.6M1156.76 823.44h6.6M1165.29 831.97h6.6M1173.82 841.54h6.6M1182.35 851.1h6.6M1190.88 861.7h6.6M1199.41 873.86h6.6M1207.94 886.01h6.6M1216.47 897.13h6.6M1225 907.21h6.6M1233.53 916.52h6.6M1242.06 927.5h6.6M1250.59 936.5h6.6M1259.12 945.1h6.6M1267.65 953.1h6.6M1276.18 960.9h6.6M1284.71 967.5h6.6M1293.24 972.9h6.6M1301.77 977.9h6.6M1310.3 981.7h6.6M1318.83 985.1h6.6M1327.36 987.9h6.6M1335.89 990.5h6.6M1344.42 992.3h6.6M1352.95 993.5h6.6M1361.48 994.3h6.6M1370.01 994.9h6.6" fill="none" stroke="#8fd0ff" stroke-width="1.2"/>
<path d="M969.1 964.87h6.6M977.63 916.25h6.6M986.16 848.77h6.6M994.69 800.68h6.6M1003.22 762.67h6.6M1011.75 732.93h6.6M1020.28 706.82h6.6M1028.81 700.61h6.6M1037.34 695.96h6.6M1045.87 690.79h6.6M1054.4 700.35h6.6M1062.93 711.99h6.6M1071.46 715.87h6.6M1079.99 723.62h6.6M1088.52 737.33h6.6M1097.05 751.03h6.6M1105.58 765.25h6.6M1114.11 777.41h6.6M1122.64 787.23h6.6M1131.17 796.28h6.6M1139.7 804.3h6.6M1148.23 814.12h6.6M1156.76 822.14h6.6M1165.29 830.67h6.6M1173.82 840.24h6.6M1182.35 849.8h6.6M1190.88 860.4h6.6M1199.41 872.56h6.6M1207.94 884.71h6.6M1216.47 895.83h6.6M1225 905.91h6.6M1233.53 915.22h6.6M1242.06 926.2h6.6M1250.59 935.2h6.6M1259.12 943.8h6.6M1267.65 951.8h6.6M1276.18 959.6h6.6M1284.71 966.2h6.6M1293.24 971.6h6.6M1301.77 976.6h6.6M1310.3 980.4h6.6M1318.83 983.8h6.6M1327.36 986.6h6.6M1335.89 989.2h6.6M1344.42 991h6.6M1352.95 992.2h6.6M1361.48 993h6.6M1370.01 993.6h6.6" fill="none" stroke="#0d4a8c" stroke-width="1.3"/>
<path d="M956.2 676H963V996.5H956.2" fill="none" stroke="#000" stroke-width="2.8" stroke-linejoin="miter"/>
<path d="M956.2 950.71H963M956.2 904.93H963M956.2 859.14H963M956.2 813.36H963M956.2 767.57H963M956.2 721.79H963" fill="none" stroke="#000" stroke-width="2.8"/>
<text x="951" y="1007" font-size="29.6" text-anchor="end" stroke="#000">0</text>
<text x="951" y="961.21" font-size="29.6" text-anchor="end" stroke="#000">0.5</text>
<text x="951" y="915.43" font-size="29.6" text-anchor="end" stroke="#000">1.0</text>
<text x="951" y="869.64" font-size="29.6" text-anchor="end" stroke="#000">1.5</text>
<text x="951" y="823.86" font-size="29.6" text-anchor="end" stroke="#000">2.0</text>
<text x="951" y="778.07" font-size="29.6" text-anchor="end" stroke="#000">2.5</text>
<text x="951" y="732.29" font-size="29.6" text-anchor="end" stroke="#000">3.0</text>
<text x="951" y="686.5" font-size="29.6" text-anchor="end" stroke="#000">3.5</text>
<line x1="971" y1="1004.3" x2="1391.8" y2="1004.3" stroke="#000" stroke-width="3.4"/>
<text x="972.4" y="1038.3" font-size="26.8" text-anchor="middle" stroke="#000">0</text>
<text x="1006.52" y="1038.3" font-size="26.8" text-anchor="middle" stroke="#000">5</text>
<text x="1049.17" y="1038.3" font-size="26.8" text-anchor="middle" stroke="#000">10</text>
<text x="1091.82" y="1038.3" font-size="26.8" text-anchor="middle" stroke="#000">15</text>
<text x="1134.47" y="1038.3" font-size="26.8" text-anchor="middle" stroke="#000">20</text>
<text x="1177.12" y="1038.3" font-size="26.8" text-anchor="middle" stroke="#000">25</text>
<text x="1219.77" y="1038.3" font-size="26.8" text-anchor="middle" stroke="#000">30</text>
<text x="1262.42" y="1038.3" font-size="26.8" text-anchor="middle" stroke="#000">35</text>
<text x="1305.07" y="1038.3" font-size="26.8" text-anchor="middle" stroke="#000">40</text>
<text x="1347.72" y="1038.3" font-size="26.8" text-anchor="middle" stroke="#000">45</text>
<text x="1390.37" y="1038.3" font-size="26.8" text-anchor="middle" stroke="#000">50</text>
<path d="M972.4 1004V1011M1006.52 1004V1011M1049.17 1004V1011M1091.82 1004V1011M1134.47 1004V1011M1177.12 1004V1011M1219.77 1004V1011M1262.42 1004V1011M1305.07 1004V1011M1347.72 1004V1011M1390.37 1004V1011" fill="none" stroke="#000" stroke-width="2.8"/>
<text x="1181" y="1078.5" font-size="28.3" text-anchor="middle" stroke="#000">Kimura-2 substitution rate (%/bp)</text>
<text x="882" y="836" font-size="28.3" text-anchor="middle" stroke="#000" transform="rotate(-90 882 836)">Part of genome (%)</text>
<rect x="1274" y="820.6" width="14" height="13.4" fill="#739fd1"/>
<text x="1297" y="835.6" font-size="27.4" stroke="#000">DNA</text>
<rect x="1274" y="849.4" width="14" height="13.4" fill="#aed096"/>
<text x="1297" y="865" font-size="27.4" stroke="#000">LINE</text>
<rect x="1274" y="877" width="14" height="13.4" fill="#ffc000"/>
<text x="1297" y="892.6" font-size="27.4" stroke="#000">LTR</text>
<rect x="1274" y="905.6" width="14" height="13.4" fill="#7d0022"/>
<text x="1297" y="921.4" font-size="27.4" stroke="#000">Simple</text>
<rect x="1392.4" y="820.6" width="14" height="13.4" fill="#7fc8fa"/>
<text x="1415.5" y="835.6" font-size="27.4" stroke="#000">Satellite</text>
<rect x="1392.4" y="849.4" width="14" height="13.4" fill="#0d4a8c"/>
<text x="1415.5" y="865" font-size="27.4" stroke="#000">Others</text>
<rect x="1392.4" y="877" width="14" height="13.4" fill="#808080"/>
<text x="1415.5" y="892.6" font-size="27.4" stroke="#000">Unknown</text>
<rect x="1392.4" y="905.6" width="14" height="13.4" fill="#dddddd"/>
<text x="1415.5" y="921.4" font-size="27.4" stroke="#000">Unmasked</text>
</g>
<g id="panel_d">
<text x="1590" y="534" font-size="37" stroke="#000" font-weight="bold">d</text>
<rect x="1825.4" y="533.4" width="174.6" height="197.6" fill="#ebebeb"/>
<rect x="1825.4" y="750.5" width="174.6" height="197.2" fill="#ebebeb"/>
<path d="M1825.4 542.9H2000M1825.4 565.23H2000M1825.4 587.55H2000M1825.4 609.88H2000M1825.4 632.2H2000M1825.4 654.52H2000M1825.4 676.85H2000M1825.4 699.17H2000M1825.4 721.5H2000M1873.3 533.4V731M1952.4 533.4V731M1825.4 759.6H2000M1825.4 781.98H2000M1825.4 804.35H2000M1825.4 826.73H2000M1825.4 849.1H2000M1825.4 871.48H2000M1825.4 893.85H2000M1825.4 916.23H2000M1825.4 938.6H2000M1873.3 750.5V947.7M1952.4 750.5V947.7" fill="none" stroke="#fff" stroke-width="2.6" stroke-dasharray="2.4 2.4"/>
<line x1="1817.4" y1="533.4" x2="1817.4" y2="731" stroke="#000" stroke-width="2.8"/>
<line x1="1817.4" y1="750.5" x2="1817.4" y2="947.7" stroke="#000" stroke-width="2.8"/>
<text x="1808.6" y="554.5" font-size="32.3" text-anchor="end" stroke="#000">10.0</text>
<text x="1808.6" y="599.15" font-size="32.3" text-anchor="end" stroke="#000">7.5</text>
<text x="1808.6" y="643.8" font-size="32.3" text-anchor="end" stroke="#000">5.0</text>
<text x="1808.6" y="688.45" font-size="32.3" text-anchor="end" stroke="#000">2.5</text>
<text x="1808.6" y="733.1" font-size="32.3" text-anchor="end" stroke="#000">0.0</text>
<text x="1808.6" y="771.2" font-size="32.3" text-anchor="end" stroke="#000">400</text>
<text x="1808.6" y="815.95" font-size="32.3" text-anchor="end" stroke="#000">300</text>
<text x="1808.6" y="860.7" font-size="32.3" text-anchor="end" stroke="#000">200</text>
<text x="1808.6" y="905.45" font-size="32.3" text-anchor="end" stroke="#000">100</text>
<text x="1808.6" y="950.2" font-size="32.3" text-anchor="end" stroke="#000">0</text>
<path d="M1812.4 542.9H1817M1812.4 587.55H1817M1812.4 632.2H1817M1812.4 676.85H1817M1812.4 721.5H1817M1812.4 759.6H1817M1812.4 804.35H1817M1812.4 849.1H1817M1812.4 893.85H1817M1812.4 938.6H1817M1873.3 948.2V951.2M1952.4 948.2V951.2" fill="none" stroke="#000" stroke-width="2.6"/>
<text x="1676.9" y="631.5" font-size="33.4" text-anchor="middle" stroke="#000" transform="rotate(-90 1676.9 631.5)">cds length</text>
<text x="1724.6" y="631.5" font-size="33.4" text-anchor="middle" stroke="#000" transform="rotate(-90 1724.6 631.5)">(kbp)</text>
<text x="1676.9" y="849" font-size="33.4" text-anchor="middle" stroke="#000" transform="rotate(-90 1676.9 849)">gene length</text>
<text x="1724.6" y="849" font-size="33.4" text-anchor="middle" stroke="#000" transform="rotate(-90 1724.6 849)">(kbp)</text>
<path d="M1873.66 542.94C1873.69 552.45 1873.75 584.49 1873.84 600C1873.93 615.51 1874.02 628.8 1874.2 636C1874.38 643.2 1874.47 640.2 1874.92 643.2C1875.37 646.2 1876.18 650.7 1876.9 654C1877.62 657.3 1878.04 660 1879.24 663C1880.44 666 1882.09 669 1884.1 672C1886.11 675 1888.45 678 1891.3 681C1894.15 684 1898.5 687.3 1901.2 690C1903.9 692.7 1906.06 694.65 1907.5 697.2C1908.94 699.75 1909.9 702.9 1909.84 705.3C1909.78 707.7 1909.33 709.95 1907.14 711.6C1904.95 713.25 1900.84 714.21 1896.7 715.2C1892.56 716.19 1886.02 717.03 1882.3 717.54C1878.58 718.05 1875.7 718.14 1874.38 718.26L1872.22 718.26C1870.9 718.14 1868.02 718.05 1864.3 717.54C1860.58 717.03 1854.04 716.19 1849.9 715.2C1845.76 714.21 1841.65 713.25 1839.46 711.6C1837.27 709.95 1836.82 707.7 1836.76 705.3C1836.7 702.9 1837.66 699.75 1839.1 697.2C1840.54 694.65 1842.7 692.7 1845.4 690C1848.1 687.3 1852.45 684 1855.3 681C1858.15 678 1860.49 675 1862.5 672C1864.51 669 1866.16 666 1867.36 663C1868.56 660 1868.98 657.3 1869.7 654C1870.42 650.7 1871.23 646.2 1871.68 643.2C1872.13 640.2 1872.22 643.2 1872.4 636C1872.58 628.8 1872.67 615.51 1872.76 600C1872.85 584.49 1872.91 552.45 1872.94 542.94Z" fill="#f8766d" stroke="#333" stroke-width="2.9" stroke-linejoin="round"/>
<path d="M1952.76 542.94C1952.79 552.45 1952.88 586.29 1952.94 600C1953 613.71 1953 618.6 1953.12 625.2C1953.24 631.8 1953.12 634.8 1953.66 639.6C1954.2 644.4 1955.67 650.1 1956.36 654C1957.05 657.9 1957.02 660.6 1957.8 663C1958.58 665.4 1960.14 666.3 1961.04 668.4C1961.94 670.5 1962.39 673.5 1963.2 675.6C1964.01 677.7 1963.8 678.6 1965.9 681C1968 683.4 1972.8 687.3 1975.8 690C1978.8 692.7 1982.04 694.65 1983.9 697.2C1985.76 699.75 1986.75 703.05 1986.96 705.3C1987.17 707.55 1987.17 709.2 1985.16 710.7C1983.15 712.2 1978.86 713.1 1974.9 714.3C1970.94 715.5 1965.03 716.73 1961.4 717.9C1957.77 719.07 1954.5 720.75 1953.12 721.32L1951.68 721.32C1950.3 720.75 1947.03 719.07 1943.4 717.9C1939.77 716.73 1933.86 715.5 1929.9 714.3C1925.94 713.1 1921.65 712.2 1919.64 710.7C1917.63 709.2 1917.63 707.55 1917.84 705.3C1918.05 703.05 1919.04 699.75 1920.9 697.2C1922.76 694.65 1926 692.7 1929 690C1932 687.3 1936.8 683.4 1938.9 681C1941 678.6 1940.79 677.7 1941.6 675.6C1942.41 673.5 1942.86 670.5 1943.76 668.4C1944.66 666.3 1946.22 665.4 1947 663C1947.78 660.6 1947.75 657.9 1948.44 654C1949.13 650.1 1950.6 644.4 1951.14 639.6C1951.68 634.8 1951.56 631.8 1951.68 625.2C1951.8 618.6 1951.8 613.71 1951.86 600C1951.92 586.29 1952.01 552.45 1952.04 542.94Z" fill="#00bfc4" stroke="#333" stroke-width="2.9" stroke-linejoin="round"/>
<circle cx="1873.3" cy="691.4" r="6.7" fill="#fff"/><circle cx="1873.3" cy="691.4" r="3.7" fill="#000"/><circle cx="1873.3" cy="697.6" r="6.7" fill="#fff"/><circle cx="1873.3" cy="697.6" r="3.7" fill="#0000ff"/>
<circle cx="1952.4" cy="690" r="6.7" fill="#fff"/><circle cx="1952.4" cy="690" r="3.7" fill="#000"/><circle cx="1952.4" cy="696.7" r="6.7" fill="#fff"/><circle cx="1952.4" cy="696.7" r="3.7" fill="#0000ff"/>
<path d="M1873.75 758.98C1873.78 766.98 1873.9 795.27 1873.97 807C1874.04 818.72 1874.04 822.63 1874.19 829.33C1874.34 836.03 1874.53 841.24 1874.86 847.2C1875.2 853.15 1875.72 859.85 1876.2 865.06C1876.69 870.27 1877.21 873.25 1877.77 878.46C1878.32 883.67 1878.96 890.37 1879.55 896.33C1880.15 902.28 1880.89 908.98 1881.34 914.19C1881.79 919.4 1882.16 924.24 1882.23 927.59C1882.31 930.94 1882.27 932.62 1881.79 934.29C1881.3 935.97 1880.56 936.79 1879.33 937.64C1878.1 938.5 1875.24 939.13 1874.42 939.43L1872.18 939.43C1871.36 939.13 1868.5 938.5 1867.27 937.64C1866.04 936.79 1865.3 935.97 1864.81 934.29C1864.33 932.62 1864.29 930.94 1864.37 927.59C1864.44 924.24 1864.81 919.4 1865.26 914.19C1865.71 908.98 1866.45 902.28 1867.05 896.33C1867.64 890.37 1868.28 883.67 1868.83 878.46C1869.39 873.25 1869.91 870.27 1870.4 865.06C1870.88 859.85 1871.4 853.15 1871.74 847.2C1872.07 841.24 1872.26 836.03 1872.41 829.33C1872.56 822.63 1872.56 818.72 1872.63 807C1872.7 795.27 1872.82 766.98 1872.85 758.98Z" fill="#f8766d" stroke="#333" stroke-width="2.9" stroke-linejoin="round"/>
<path d="M1952.85 763C1952.88 774.06 1953 810.83 1953.07 829.33C1953.14 847.83 1953.07 863.57 1953.29 873.99C1953.52 884.42 1953.96 887.02 1954.41 891.86C1954.86 896.7 1955.19 899.68 1955.97 903.03C1956.75 906.38 1957.83 909.35 1959.1 911.96C1960.37 914.56 1961.52 916.43 1963.57 918.66C1965.61 920.89 1968.59 923.5 1971.38 925.36C1974.17 927.22 1977.45 928.41 1980.32 929.83C1983.18 931.24 1988.02 932.8 1988.58 933.85C1989.14 934.89 1986.72 935.45 1983.67 936.08C1980.61 936.71 1975.18 937.27 1970.27 937.64C1965.35 938.01 1956.87 938.2 1954.19 938.31L1950.61 938.31C1947.93 938.2 1939.45 938.01 1934.53 937.64C1929.62 937.27 1924.19 936.71 1921.13 936.08C1918.08 935.45 1915.66 934.89 1916.22 933.85C1916.78 932.8 1921.62 931.24 1924.48 929.83C1927.35 928.41 1930.63 927.22 1933.42 925.36C1936.21 923.5 1939.19 920.89 1941.23 918.66C1943.28 916.43 1944.43 914.56 1945.7 911.96C1946.97 909.35 1948.05 906.38 1948.83 903.03C1949.61 899.68 1949.94 896.7 1950.39 891.86C1950.84 887.02 1951.28 884.42 1951.51 873.99C1951.73 863.57 1951.66 847.83 1951.73 829.33C1951.8 810.83 1951.92 774.06 1951.95 763Z" fill="#00bfc4" stroke="#333" stroke-width="2.9" stroke-linejoin="round"/>
<circle cx="1873.3" cy="894.1" r="6.7" fill="#fff"/><circle cx="1873.3" cy="894.1" r="3.7" fill="#000"/><circle cx="1873.3" cy="904.1" r="6.7" fill="#fff"/><circle cx="1873.3" cy="904.1" r="3.7" fill="#0000ff"/>
<circle cx="1952.4" cy="922.5" r="6.7" fill="#fff"/><circle cx="1952.4" cy="922.5" r="3.7" fill="#000"/><circle cx="1952.4" cy="929.4" r="6.7" fill="#fff"/><circle cx="1952.4" cy="929.4" r="3.7" fill="#0000ff"/>
<text x="1873" y="981" font-size="32.3" text-anchor="end" stroke="#000" transform="rotate(-30 1873 981)">krill</text>
<text x="1952" y="980" font-size="32.3" text-anchor="end" stroke="#000" transform="rotate(-30 1952 980)">lobster</text>
<rect x="1841.5" y="1048" width="136" height="58" fill="#fff" stroke="#e2e2e2" stroke-width="2.4"/>
<circle cx="1859.3" cy="1061.6" r="7.3" fill="#000"/>
<circle cx="1859.3" cy="1092.4" r="6.1" fill="#0000ff"/>
<text x="1879" y="1068.7" font-size="27.6" stroke="#000">mean</text>
<text x="1879" y="1099.1" font-size="27.6" stroke="#000">median</text>
</g>
<g id="panel_e">
<text x="19" y="1134.5" font-size="37" stroke="#000" font-weight="bold">e</text>
<defs><linearGradient id="hl" x1="0" x2="1" y1="0" y2="0"><stop offset="0" stop-color="#d5d5f7" stop-opacity="0"/><stop offset="0.3" stop-color="#d5d5f7" stop-opacity="1"/><stop offset="1" stop-color="#d5d5f7"/></linearGradient></defs>
<rect x="462" y="1332.5" width="283" height="40" fill="url(#hl)" rx="4.5"/>
<path d="M355.2 1148.21V1130.5C355.2 1126.7 363.2 1125.5 377.2 1125.5H462M355.2 1148.21V1165.92C355.2 1169.72 363.2 1170.92 377.2 1170.92H462M182.9 1182.2V1154.71C182.9 1149.41 190.9 1148.21 222.9 1148.21H355.2M182.9 1182.2V1209.84C182.9 1215.14 190.9 1216.34 226.9 1216.34H462M160.3 1232.4V1187.2C160.3 1183.4 168.3 1182.2 168.3 1182.2H182.9M160.3 1232.4V1277.97C160.3 1283.27 168.3 1284.47 208.3 1284.47H442.8M442.8 1284.47V1261.76H462M442.8 1284.47V1307.18H462M126.9 1292.4V1238.4C126.9 1233.6 134.9 1232.4 136.9 1232.4H160.3M126.9 1292.4V1345.6C126.9 1351.4 134.9 1352.6 176.9 1352.6H462M117.1 1356.4V1297.4C117.1 1293.6 125.1 1292.4 122.1 1292.4H121.9M117.1 1356.4V1414.23C117.1 1419.53 125.1 1420.73 163.1 1420.73H364.1M364.1 1420.73V1403.02C364.1 1399.22 372.1 1398.02 380.1 1398.02H462M364.1 1420.73V1438.44C364.1 1442.24 372.1 1443.44 380.1 1443.44H462M89.3 1423.6V1362.4C89.3 1357.6 97.3 1356.4 98.3 1356.4H117.1M89.3 1423.6V1481.86C89.3 1487.66 97.3 1488.86 139.3 1488.86H462M64.5 1478.8V1429.6C64.5 1424.8 72.5 1423.6 72.5 1423.6H89.3M64.5 1478.8V1527.28C64.5 1533.08 72.5 1534.28 114.5 1534.28H462M48 1478.8H64.5M445 1354.1H462" fill="none" stroke="#000" stroke-width="2.9" stroke-linejoin="round"/>
<path d="M126.7 1202.9L151.2 1223.5M106.8 1276.3L119.3 1286.4M126 1364.3L138 1373.2M358.3 1427.2L344.9 1445.2" fill="none" stroke="#c6c6c6" stroke-width="2.8" stroke-dasharray="3 3"/>
<circle cx="160.3" cy="1232.4" r="7.2" fill="#000"/>
<circle cx="117.1" cy="1356.4" r="7.2" fill="#000"/>
<circle cx="64.8" cy="1478.8" r="7.2" fill="#000"/>
<circle cx="127.2" cy="1292.4" r="5.7" fill="#fff" stroke="#000" stroke-width="2.6"/>
<circle cx="364.1" cy="1420.43" r="5.7" fill="#fff" stroke="#000" stroke-width="2.6"/>
<text x="474.5" y="1135.8" font-size="33.3" stroke="#000" font-style="italic">Cherax</text>
<text x="474.5" y="1181.22" font-size="33.3" stroke="#000" font-style="italic">Procambarus</text>
<text x="474.5" y="1226.64" font-size="33.3" stroke="#000" font-style="italic">Homarus</text>
<text x="474.5" y="1272.06" font-size="33.3" stroke="#000" font-style="italic">Penaeus</text>
<text x="474.5" y="1317.48" font-size="33.3" stroke="#000" font-style="italic">P. vannamei</text>
<text x="474.5" y="1362.9" font-size="33.3" stroke="#000" font-style="italic">Meganyctiphanes</text>
<text x="474.5" y="1408.32" font-size="33.3" stroke="#000" font-style="italic">Hyalella</text>
<text x="474.5" y="1453.74" font-size="33.3" stroke="#000" font-style="italic">Parhyale</text>
<text x="474.5" y="1499.16" font-size="33.3" stroke="#000" font-style="italic">Eurytemora</text>
<text x="474.5" y="1544.58" font-size="33.3" stroke="#000" font-style="italic">Daphnia</text>
<text x="462.5" y="1117.2" font-size="27.7" text-anchor="end" fill="#a8a8a8" stroke="#a8a8a8">+54/-10</text>
<text x="462.5" y="1162.8" font-size="27.7" text-anchor="end" fill="#a8a8a8" stroke="#a8a8a8">+17/-66</text>
<text x="462.5" y="1208.9" font-size="27.7" text-anchor="end" fill="#a8a8a8" stroke="#a8a8a8">+52/-9</text>
<text x="462.5" y="1253.3" font-size="27.7" text-anchor="end" fill="#a8a8a8" stroke="#a8a8a8">+133/-140</text>
<text x="462.5" y="1390.7" font-size="27.7" text-anchor="end" fill="#a8a8a8" stroke="#a8a8a8">+43/-28</text>
<text x="462.5" y="1437.5" font-size="27.7" text-anchor="end" fill="#a8a8a8" stroke="#a8a8a8">+39/-22</text>
<text x="462.5" y="1482.4" font-size="27.7" text-anchor="end" fill="#a8a8a8" stroke="#a8a8a8">+19/-36</text>
<text x="462.5" y="1528" font-size="27.7" text-anchor="end" fill="#a8a8a8" stroke="#a8a8a8">+128/-10</text>
<text x="462.5" y="1346.4" font-size="27.7" text-anchor="end" stroke="#000">+104/-23</text>
<text x="196" y="1139.5" font-size="27.7" fill="#a8a8a8" stroke="#a8a8a8">+9/-57</text>
<text x="109.5" y="1171.2" font-size="27.7" fill="#a8a8a8" stroke="#a8a8a8">+3/-0</text>
<text x="44" y="1225.7" font-size="27.7" fill="#a8a8a8" stroke="#a8a8a8">+3/-10</text>
<text x="196" y="1278" font-size="27.7" fill="#a8a8a8" stroke="#a8a8a8">+21/-9</text>
<text x="307" y="1311.6" font-size="27.7" fill="#a8a8a8" stroke="#a8a8a8">+124/-164</text>
<text x="38.7" y="1298.9" font-size="27.7" fill="#a8a8a8" stroke="#a8a8a8">+3/-7</text>
<text x="26" y="1344.7" font-size="27.7" fill="#a8a8a8" stroke="#a8a8a8">+1/-10</text>
<text x="2.7" y="1410.4" font-size="27.7" fill="#a8a8a8" stroke="#a8a8a8">+0/-27</text>
<text x="196" y="1414" font-size="27.7" fill="#a8a8a8" stroke="#a8a8a8">+5/-25</text>
<text x="7.5" y="1195.7" font-size="27.6" stroke="#000">Decapoda</text>
<text x="-2.5" y="1269.6" font-size="27.6" stroke="#000">Eucarida</text>
<text x="142.5" y="1384" font-size="27.6" stroke="#000">Malacostraca</text>
<text x="203.5" y="1465.6" font-size="27.6" stroke="#000">Amphipoda</text>
<line x1="49" y1="1556.3" x2="462" y2="1556.3" stroke="#000" stroke-width="2.6"/>
<path d="M460.8 1556V1564.2M423.48 1556V1564.2M386.16 1556V1564.2M348.84 1556V1564.2M311.52 1556V1564.2M274.2 1556V1564.2M236.88 1556V1564.2M199.56 1556V1564.2M162.24 1556V1564.2M124.92 1556V1564.2M87.6 1556V1564.2M50.28 1556V1564.2" fill="none" stroke="#000" stroke-width="2.6"/>
<text x="460.8" y="1596.4" font-size="27.2" text-anchor="middle" stroke="#000">0</text>
<text x="386.16" y="1596.4" font-size="27.2" text-anchor="middle" stroke="#000">100</text>
<text x="311.52" y="1596.4" font-size="27.2" text-anchor="middle" stroke="#000">200</text>
<text x="236.88" y="1596.4" font-size="27.2" text-anchor="middle" stroke="#000">300</text>
<text x="162.24" y="1596.4" font-size="27.2" text-anchor="middle" stroke="#000">400</text>
<text x="87.6" y="1596.4" font-size="27.2" text-anchor="middle" stroke="#000">500</text>
<text x="248.5" y="1636" font-size="27.6" text-anchor="middle" stroke="#000">Time (MYA)</text>
<rect x="361" y="1628.5" width="504" height="71" fill="#fff" stroke="#b5b5b5" stroke-width="2"/>
<circle cx="401.5" cy="1646.5" r="6.8" fill="#000"/>
<text x="439.5" y="1655" font-size="27.6" stroke="#000">time calibration points</text>
<text x="367.5" y="1690" font-size="27.6" fill="#a8a8a8" stroke="#a8a8a8">+n/-n</text>
<text x="439.5" y="1690" font-size="27.6" stroke="#000">rapidly changing gene families (n)</text>
<g transform="translate(700 1070) scale(0.09404)"><path d="M600 488 C570 520 545 600 520 665 L500 760 L500 1180 C490 1220 515 1260 500 1300 C495 1350 520 1370 520 1390 C470 1440 400 1430 375 1480 C350 1540 380 1590 450 1585 C480 1620 540 1610 560 1590 C600 1625 640 1615 665 1590 C700 1620 760 1610 780 1580 C860 1590 880 1530 855 1480 C820 1430 740 1440 700 1390 C700 1360 725 1340 712 1290 C705 1260 730 1220 722 1180 L735 760 L705 660 C690 600 670 520 640 488 Z" fill="#858585"/><path d="M300 655 C245 560 270 400 395 312 L432 300 C385 375 378 430 400 470 C420 395 442 345 465 318 C472 400 430 480 408 585 L362 630 L525 700 L510 790 L312 705 Z" fill="#858585"/><path d="M1000 640 C1065 540 1050 370 930 285 L875 270 C905 350 915 410 905 440 C885 380 855 320 825 280 C805 380 860 470 885 570 L925 612 L715 690 L730 780 L975 690 Z" fill="#858585"/><path d="M500 830Q300 840 190 675M500 910Q330 930 180 810M505 990Q330 1010 165 920M505 1040Q350 1100 175 995M735 830Q930 840 1040 690M735 905Q930 920 1060 800M725 985Q900 1020 1070 925M725 1040Q880 1110 1040 1005" fill="none" stroke="#858585" stroke-width="26" stroke-linecap="round"/><path d="M585 490L440 400M355 322C330 250 300 90 130 120M668 490L812 385M868 272C900 170 1020 80 1102 165" fill="none" stroke="#858585" stroke-width="12" stroke-linecap="round"/><path d="M612 505L548 322M622 500L620 352M632 500L655 330M645 505L720 332" fill="none" stroke="#858585" stroke-width="8" stroke-linecap="round"/><path d="M515 500L532 620M722 510L706 632" fill="none" stroke="#858585" stroke-width="16" stroke-linecap="round"/></g>
<g transform="translate(625 1215) scale(0.06000)"><path d="M370 345L560 290L505 255L800 205C1000 215 1150 260 1250 255C1450 220 1650 250 1760 370C1880 500 1890 700 1800 870C1720 1030 1650 1150 1500 1220C1380 1270 1250 1340 1120 1345C1050 1330 1050 1290 1100 1240C1200 1150 1300 1100 1410 1080C1450 1000 1480 900 1500 820C1450 870 1430 930 1420 970L1300 900C1270 800 1300 700 1450 590L1280 590L1100 560L900 540L800 470L600 440Z" fill="#828282"/><path d="M820 520Q740 560 710 620M830 540Q790 650 810 810M1080 590L850 640Q840 850 900 1040M1130 610L980 730Q1020 900 1110 970M1210 620L1080 810Q1100 950 1210 1010M1290 590L1210 780L1220 840" fill="none" stroke="#828282" stroke-width="34" stroke-linecap="round" stroke-linejoin="round"/><path d="M1330 700L1310 880M1380 720L1350 920M1430 740L1400 950M1470 780L1440 960" fill="none" stroke="#828282" stroke-width="30" stroke-linecap="round" stroke-linejoin="round"/><path d="M600 435C300 450 150 520 190 640C250 800 600 950 850 1170C950 1270 1100 1400 1230 1410" fill="none" stroke="#828282" stroke-width="17" stroke-linecap="round" stroke-linejoin="round"/><path d="M370 345L620 300M500 258L700 250M420 370L640 380" fill="none" stroke="#828282" stroke-width="14" stroke-linecap="round" stroke-linejoin="round"/></g>
<g transform="translate(765 1250) scale(0.09402)"><path d="M290 180L335 188C420 226 520 286 650 370C720 430 800 515 950 660C1010 720 1060 800 1130 950C1200 1105 1262 1300 1302 1450L1326 1572L1300 1616L1265 1590C1255 1500 1232 1400 1200 1320L1170 1262C1110 1200 1065 1150 1040 1112L1000 1030L905 905L822 795L742 742L700 732L600 692L500 645L440 622L398 580L380 522L420 442L478 402C440 335 350 252 290 202Z" fill="#000"/><path d="M478 400C410 330 300 320 228 500M476 420C400 350 300 370 252 540M476 440C400 380 310 410 272 590M474 465C400 410 320 450 292 640M472 490C410 440 340 480 330 690M470 520C420 480 370 520 362 725M466 550C430 520 400 560 398 700" fill="none" stroke="#000" stroke-width="21" stroke-linecap="round"/><path d="M470 400C380 330 300 350 260 420L300 500L330 450L400 460Z" fill="#000"/><path d="M440 620L470 690M500 645L470 700M560 668L535 700" fill="none" stroke="#000" stroke-width="14" stroke-linecap="round"/><path d="M718 719Q602 774 574 921L588 931Q646 814 770 775ZM808 824Q682 874 649 1016L663 1026Q726 914 860 880ZM888 919Q762 969 724 1106L738 1116Q806 1009 940 975ZM978 1009Q852 1049 804 1161L818 1171Q896 1089 1030 1065ZM1023 1074Q922 1114 869 1224L883 1234Q966 1154 1075 1130Z" fill="#000"/><path d="M296 186C330 80 550 60 795 405M296 196C100 230 10 420 220 690M300 215C150 230 130 450 210 650C270 720 350 780 405 850" fill="none" stroke="#000" stroke-width="9" stroke-linecap="round"/></g>
<g transform="translate(625 1370) scale(0.06000)"><path d="M620 330C750 230 900 200 1100 215C1350 240 1550 450 1650 700C1720 900 1680 1100 1570 1200L1550 1330L1500 1350L1470 1420L1420 1400L1380 1250L1350 1100L1300 1120L1250 990L1200 950L1180 1150L1080 1350L1020 1300L1070 1100L1080 900L1060 780L1000 820L960 900L900 1000L870 970L940 800L780 900L750 880L850 760L700 900L670 880L730 760L650 770L540 750L470 680C550 620 700 610 800 650L840 570L750 600L690 590L680 520L700 440L660 400Z" fill="#828282"/><path d="M640 320C450 350 280 400 195 520M620 360C400 430 200 640 225 845" fill="none" stroke="#828282" stroke-width="30" stroke-linecap="round"/><path d="M1080 1350L1030 1200M1180 1150L1120 1280M1420 1400L1440 1250M1500 1350L1490 1200M900 1000L960 860M700 900L780 800" fill="none" stroke="#828282" stroke-width="22" stroke-linecap="round" stroke-dasharray="26 12"/></g>
<g transform="translate(735 1415) scale(0.08226)"><path d="M770 300L840 300C900 380 960 450 960 540L930 600L920 850L900 1000L910 1050L850 1020L840 1100C900 1150 920 1250 910 1350C900 1420 870 1440 870 1470L880 1540L830 1560L810 1450L790 1560L740 1550L740 1440C700 1400 700 1300 720 1180C740 1130 770 1110 770 1080L760 1020L700 1060L700 950L680 650L650 570C640 480 700 380 770 300Z" fill="#828282"/><path d="M760 300C700 215 600 200 450 255C300 315 200 365 95 395M850 300C900 200 1050 190 1200 240C1350 300 1430 330 1505 332" fill="none" stroke="#828282" stroke-width="40" stroke-linecap="round"/><path d="M760 300C700 215 600 200 450 255C300 315 200 365 95 395M850 300C900 200 1050 190 1200 240C1350 300 1430 330 1505 332" fill="none" stroke="#828282" stroke-width="100" stroke-dasharray="7 15" opacity="0.85"/><path d="M720 350Q650 320 545 342M690 385Q630 400 595 488M890 342Q960 320 1055 322M940 382Q990 400 1000 458" fill="none" stroke="#828282" stroke-width="26" stroke-linecap="round"/><path d="M720 350Q650 320 545 342M690 385Q630 400 595 488M890 342Q960 320 1055 322M940 382Q990 400 1000 458" fill="none" stroke="#828282" stroke-width="70" stroke-dasharray="7 13" opacity="0.8"/><path d="M745 1450L735 1570M775 1450L770 1585M830 1450L835 1585M865 1450L880 1570" fill="none" stroke="#828282" stroke-width="12" stroke-linecap="round"/></g>
</g>
<g id="panel_f">
<text x="920" y="1134.5" font-size="37" stroke="#000" font-weight="bold">f</text>
<rect x="1066.8" y="1157.5" width="105.3" height="377.1" fill="#ebebeb"/>
<rect x="1183.2" y="1157.5" width="196.3" height="377.1" fill="#ebebeb"/>
<rect x="1389.8" y="1157.5" width="206" height="377.1" fill="#ebebeb"/>
<rect x="1606.9" y="1157.5" width="393.1" height="377.1" fill="#ebebeb"/>
<path d="M1066.8 1175H1172.1M1066.8 1217.76H1172.1M1066.8 1260.53H1172.1M1066.8 1303.29H1172.1M1066.8 1346.05H1172.1M1066.8 1388.81H1172.1M1066.8 1431.57H1172.1M1066.8 1474.34H1172.1M1066.8 1517.1H1172.1M1183.2 1175H1379.5M1183.2 1217.76H1379.5M1183.2 1260.53H1379.5M1183.2 1303.29H1379.5M1183.2 1346.05H1379.5M1183.2 1388.81H1379.5M1183.2 1431.57H1379.5M1183.2 1474.34H1379.5M1183.2 1517.1H1379.5M1389.8 1175H1595.8M1389.8 1217.76H1595.8M1389.8 1260.53H1595.8M1389.8 1303.29H1595.8M1389.8 1346.05H1595.8M1389.8 1388.81H1595.8M1389.8 1431.57H1595.8M1389.8 1474.34H1595.8M1389.8 1517.1H1595.8M1606.9 1175H2000M1606.9 1217.76H2000M1606.9 1260.53H2000M1606.9 1303.29H2000M1606.9 1346.05H2000M1606.9 1388.81H2000M1606.9 1431.57H2000M1606.9 1474.34H2000M1606.9 1517.1H2000M1120.1 1157.5V1534.6M1235.4 1157.5V1534.6M1327.4 1157.5V1534.6M1442.4 1157.5V1534.6M1534.7 1157.5V1534.6M1667.9 1157.5V1534.6M1760.2 1157.5V1534.6M1852.2 1157.5V1534.6M1944 1157.5V1534.6" fill="none" stroke="#fff" stroke-width="2.6" stroke-dasharray="2.4 2.4"/>
<text x="1049.5" y="1184.5" font-size="26.6" text-anchor="end" stroke="#000">100</text>
<text x="1049.5" y="1270.03" font-size="26.6" text-anchor="end" stroke="#000">75</text>
<text x="1049.5" y="1355.55" font-size="26.6" text-anchor="end" stroke="#000">50</text>
<text x="1049.5" y="1441.07" font-size="26.6" text-anchor="end" stroke="#000">25</text>
<text x="1049.5" y="1526.6" font-size="26.6" text-anchor="end" stroke="#000">0</text>
<path d="M1058.5 1175H1066.8M1058.5 1260.53H1066.8M1058.5 1346.05H1066.8M1058.5 1431.57H1066.8M1058.5 1517.1H1066.8" fill="none" stroke="#333" stroke-width="2.8"/>
<text x="976.5" y="1346.5" font-size="27.7" text-anchor="middle" stroke="#000" transform="rotate(-90 976.5 1346.5)">DNA methylation frequency (%)</text>
<path d="M1168.22 1172.32C1168.42 1172.69 1170.07 1173.76 1169.45 1174.54C1168.83 1175.33 1169.04 1176.19 1164.51 1177.01C1159.99 1177.83 1149.09 1178.33 1142.31 1179.48C1135.52 1180.63 1125.45 1182.28 1123.8 1183.92C1122.16 1185.57 1129.97 1187.21 1132.44 1189.35C1134.9 1191.49 1137.37 1194.28 1138.61 1196.75C1139.84 1199.22 1140.79 1201.89 1139.84 1204.15C1138.89 1206.42 1134.74 1208.68 1132.93 1210.32C1131.12 1211.97 1129.81 1211.35 1128.98 1214.02C1128.16 1216.7 1128.32 1222.25 1128 1226.36C1127.67 1230.47 1127.42 1232.53 1127.01 1238.7C1126.6 1244.87 1125.65 1256.79 1125.53 1263.37C1125.41 1269.95 1126.43 1274.07 1126.27 1278.18C1126.1 1282.29 1124.75 1282.29 1124.54 1288.05C1124.34 1293.81 1125.03 1303.27 1125.03 1312.72C1125.03 1322.18 1124.79 1332.46 1124.54 1344.8C1124.29 1357.14 1123.72 1371.53 1123.55 1386.75C1123.39 1401.97 1123.55 1421.71 1123.55 1436.1C1123.55 1450.49 1123.1 1465.71 1123.55 1473.11C1124.01 1480.51 1125.53 1477.84 1126.27 1480.51C1127.01 1483.19 1128.12 1486.27 1128 1489.15C1127.87 1492.03 1126.35 1494.7 1125.53 1497.79C1124.71 1500.87 1122.73 1505.39 1123.06 1507.66C1123.39 1509.92 1123.47 1510.29 1127.5 1511.36C1131.53 1512.43 1142.88 1513.29 1147.24 1514.07C1151.6 1514.85 1152.59 1515.39 1153.66 1516.05C1154.73 1516.7 1154.11 1517.44 1153.66 1518.02C1153.21 1518.6 1151.4 1519.25 1150.94 1519.5L1089.26 1519.5C1088.8 1519.25 1086.99 1518.6 1086.54 1518.02C1086.09 1517.44 1085.47 1516.7 1086.54 1516.05C1087.61 1515.39 1088.6 1514.85 1092.96 1514.07C1097.32 1513.29 1108.67 1512.43 1112.7 1511.36C1116.73 1510.29 1116.81 1509.92 1117.14 1507.66C1117.47 1505.39 1115.49 1500.87 1114.67 1497.79C1113.85 1494.7 1112.33 1492.03 1112.2 1489.15C1112.08 1486.27 1113.19 1483.19 1113.93 1480.51C1114.67 1477.84 1116.19 1480.51 1116.65 1473.11C1117.1 1465.71 1116.65 1450.49 1116.65 1436.1C1116.65 1421.71 1116.81 1401.97 1116.65 1386.75C1116.48 1371.53 1115.91 1357.14 1115.66 1344.8C1115.41 1332.46 1115.17 1322.18 1115.17 1312.72C1115.17 1303.27 1115.86 1293.81 1115.66 1288.05C1115.45 1282.29 1114.1 1282.29 1113.93 1278.18C1113.77 1274.07 1114.79 1269.95 1114.67 1263.37C1114.55 1256.79 1113.6 1244.87 1113.19 1238.7C1112.78 1232.53 1112.53 1230.47 1112.2 1226.36C1111.88 1222.25 1112.04 1216.7 1111.22 1214.02C1110.39 1211.35 1109.08 1211.97 1107.27 1210.32C1105.46 1208.68 1101.31 1206.42 1100.36 1204.15C1099.41 1201.89 1100.36 1199.22 1101.59 1196.75C1102.83 1194.28 1105.3 1191.49 1107.76 1189.35C1110.23 1187.21 1118.04 1185.57 1116.4 1183.92C1114.75 1182.28 1104.68 1180.63 1097.89 1179.48C1091.11 1178.33 1080.21 1177.83 1075.69 1177.01C1071.16 1176.19 1071.37 1175.33 1070.75 1174.54C1070.13 1173.76 1071.78 1172.69 1071.98 1172.32Z" fill="#000" stroke="#000" stroke-width="1" stroke-linejoin="round"/>
<path d="M1258.1 1172.82C1258.22 1173.11 1259.13 1173.93 1258.84 1174.54C1258.55 1175.16 1258.84 1175.7 1256.37 1176.52C1253.91 1177.34 1247.16 1178.16 1244.04 1179.48C1240.91 1180.8 1237.83 1182.15 1237.62 1184.41C1237.42 1186.68 1241.45 1189.97 1242.8 1193.05C1244.16 1196.14 1245.97 1199.84 1245.76 1202.92C1245.56 1206.01 1242.68 1208.88 1241.57 1211.56C1240.46 1214.23 1239.72 1213.61 1239.1 1218.96C1238.48 1224.31 1238.24 1232.12 1237.87 1243.63C1237.5 1255.15 1237.04 1264.2 1236.88 1288.05C1236.72 1311.9 1236.88 1355.91 1236.88 1386.75C1236.88 1417.59 1236.51 1456.04 1236.88 1473.11C1237.25 1490.18 1239.14 1483.8 1239.1 1489.15C1239.06 1494.5 1236.76 1501.49 1236.63 1505.19C1236.51 1508.89 1236.3 1509.79 1238.36 1511.36C1240.42 1512.92 1246.38 1513.7 1248.97 1514.57C1251.56 1515.43 1253.21 1515.88 1253.91 1516.54C1254.61 1517.2 1253.29 1518.18 1253.17 1518.51L1217.63 1518.51C1217.51 1518.18 1216.19 1517.2 1216.89 1516.54C1217.59 1515.88 1219.24 1515.43 1221.83 1514.57C1224.42 1513.7 1230.38 1512.92 1232.44 1511.36C1234.5 1509.79 1234.29 1508.89 1234.17 1505.19C1234.04 1501.49 1231.74 1494.5 1231.7 1489.15C1231.66 1483.8 1233.55 1490.18 1233.92 1473.11C1234.29 1456.04 1233.92 1417.59 1233.92 1386.75C1233.92 1355.91 1234.08 1311.9 1233.92 1288.05C1233.76 1264.2 1233.3 1255.15 1232.93 1243.63C1232.56 1232.12 1232.32 1224.31 1231.7 1218.96C1231.08 1213.61 1230.34 1214.23 1229.23 1211.56C1228.12 1208.88 1225.24 1206.01 1225.04 1202.92C1224.83 1199.84 1226.64 1196.14 1228 1193.05C1229.35 1189.97 1233.38 1186.68 1233.18 1184.41C1232.97 1182.15 1229.89 1180.8 1226.76 1179.48C1223.64 1178.16 1216.89 1177.34 1214.43 1176.52C1211.96 1175.7 1212.25 1175.16 1211.96 1174.54C1211.67 1173.93 1212.58 1173.11 1212.7 1172.82Z" fill="#6f9fd3" stroke="#333" stroke-width="2.9" stroke-linejoin="round"/>
<path d="M1369.84 1172.82C1369.96 1173.11 1371.07 1173.93 1370.58 1174.54C1370.09 1175.16 1371.61 1175.7 1366.88 1176.52C1362.15 1177.34 1348.37 1178.16 1342.2 1179.48C1336.04 1180.8 1330.9 1182.36 1329.87 1184.41C1328.84 1186.47 1334.56 1189.14 1336.04 1191.82C1337.52 1194.49 1339.04 1197.37 1338.75 1200.45C1338.46 1203.54 1335.58 1206.83 1334.31 1210.32C1333.03 1213.82 1331.92 1214.64 1331.1 1221.43C1330.28 1228.21 1329.79 1239.93 1329.37 1251.04C1328.96 1262.14 1328.76 1265.43 1328.63 1288.05C1328.51 1310.67 1328.63 1354.67 1328.63 1386.75C1328.63 1418.83 1328.43 1463.45 1328.63 1480.51C1328.84 1497.58 1329.91 1485.04 1329.87 1489.15C1329.83 1493.26 1328.39 1501.36 1328.39 1505.19C1328.39 1509.01 1328.3 1510.45 1329.87 1512.1C1331.43 1513.74 1335.91 1514.28 1337.76 1515.06C1339.61 1515.84 1340.56 1516.21 1340.97 1516.79C1341.38 1517.36 1340.35 1518.23 1340.23 1518.51L1314.57 1518.51C1314.45 1518.23 1313.42 1517.36 1313.83 1516.79C1314.24 1516.21 1315.19 1515.84 1317.04 1515.06C1318.89 1514.28 1323.37 1513.74 1324.93 1512.1C1326.5 1510.45 1326.41 1509.01 1326.41 1505.19C1326.41 1501.36 1324.97 1493.26 1324.93 1489.15C1324.89 1485.04 1325.96 1497.58 1326.17 1480.51C1326.37 1463.45 1326.17 1418.83 1326.17 1386.75C1326.17 1354.67 1326.29 1310.67 1326.17 1288.05C1326.04 1265.43 1325.84 1262.14 1325.43 1251.04C1325.01 1239.93 1324.52 1228.21 1323.7 1221.43C1322.88 1214.64 1321.77 1213.82 1320.49 1210.32C1319.22 1206.83 1316.34 1203.54 1316.05 1200.45C1315.76 1197.37 1317.28 1194.49 1318.76 1191.82C1320.24 1189.14 1325.96 1186.47 1324.93 1184.41C1323.9 1182.36 1318.76 1180.8 1312.6 1179.48C1306.43 1178.16 1292.65 1177.34 1287.92 1176.52C1283.19 1175.7 1284.71 1175.16 1284.22 1174.54C1283.73 1173.93 1284.84 1173.11 1284.96 1172.82Z" fill="#b8d2ec" stroke="#333" stroke-width="2.9" stroke-linejoin="round"/>
<path d="M1484.84 1172.82C1484.96 1173.11 1486.07 1173.93 1485.58 1174.54C1485.09 1175.16 1486.61 1175.7 1481.88 1176.52C1477.15 1177.34 1463.46 1178.25 1457.2 1179.48C1450.95 1180.71 1444.87 1181.87 1444.37 1183.92C1443.88 1185.98 1451.9 1188.65 1454.24 1191.82C1456.59 1194.98 1459.1 1199.63 1458.44 1202.92C1457.78 1206.21 1451.94 1209.3 1450.3 1211.56C1448.65 1213.82 1448.65 1211.97 1448.57 1216.49C1448.49 1221.02 1450.09 1233.76 1449.8 1238.7C1449.51 1243.63 1447.58 1244.05 1446.84 1246.1C1446.1 1248.16 1445.69 1244.05 1445.36 1251.04C1445.03 1258.03 1444.87 1278.18 1444.87 1288.05C1444.87 1297.92 1445.44 1303.68 1445.36 1310.26C1445.28 1316.84 1444.37 1321.57 1444.37 1327.53C1444.37 1333.49 1445.36 1340.28 1445.36 1346.04C1445.36 1351.79 1444.58 1340.89 1444.37 1362.07C1444.17 1383.25 1443.84 1451.93 1444.13 1473.11C1444.42 1494.29 1446.18 1483.39 1446.1 1489.15C1446.02 1494.91 1443.67 1503.83 1443.63 1507.66C1443.59 1511.48 1443.59 1510.86 1445.85 1512.1C1448.12 1513.33 1454.49 1514.28 1457.2 1515.06C1459.92 1515.84 1461.48 1516.21 1462.14 1516.79C1462.8 1517.36 1461.32 1518.23 1461.15 1518.51L1423.65 1518.51C1423.48 1518.23 1422 1517.36 1422.66 1516.79C1423.32 1516.21 1424.88 1515.84 1427.6 1515.06C1430.31 1514.28 1436.68 1513.33 1438.95 1512.1C1441.21 1510.86 1441.21 1511.48 1441.17 1507.66C1441.13 1503.83 1438.78 1494.91 1438.7 1489.15C1438.62 1483.39 1440.38 1494.29 1440.67 1473.11C1440.96 1451.93 1440.63 1383.25 1440.43 1362.07C1440.22 1340.89 1439.44 1351.79 1439.44 1346.04C1439.44 1340.28 1440.43 1333.49 1440.43 1327.53C1440.43 1321.57 1439.52 1316.84 1439.44 1310.26C1439.36 1303.68 1439.93 1297.92 1439.93 1288.05C1439.93 1278.18 1439.77 1258.03 1439.44 1251.04C1439.11 1244.05 1438.7 1248.16 1437.96 1246.1C1437.22 1244.05 1435.29 1243.63 1435 1238.7C1434.71 1233.76 1436.31 1221.02 1436.23 1216.49C1436.15 1211.97 1436.15 1213.82 1434.5 1211.56C1432.86 1209.3 1427.02 1206.21 1426.36 1202.92C1425.7 1199.63 1428.21 1194.98 1430.56 1191.82C1432.9 1188.65 1440.92 1185.98 1440.43 1183.92C1439.93 1181.87 1433.85 1180.71 1427.6 1179.48C1421.34 1178.25 1407.65 1177.34 1402.92 1176.52C1398.19 1175.7 1399.71 1175.16 1399.22 1174.54C1398.73 1173.93 1399.84 1173.11 1399.96 1172.82Z" fill="#808080" stroke="#333" stroke-width="2.9" stroke-linejoin="round"/>
<path d="M1553.95 1173.31C1554.03 1173.6 1554.77 1174.42 1554.44 1175.04C1554.11 1175.66 1553.7 1176.07 1551.97 1177.01C1550.25 1177.96 1546.34 1179.27 1544.08 1180.71C1541.81 1182.15 1538.57 1183.39 1538.4 1185.65C1538.24 1187.91 1541.98 1191.41 1543.09 1194.28C1544.2 1197.16 1545.23 1200.04 1545.06 1202.92C1544.9 1205.8 1542.92 1208.88 1542.1 1211.56C1541.28 1214.23 1540.33 1214.44 1540.13 1218.96C1539.92 1223.48 1541.16 1233.76 1540.87 1238.7C1540.58 1243.63 1539.02 1245.28 1538.4 1248.57C1537.78 1251.86 1537.58 1253.5 1537.17 1258.44C1536.76 1263.37 1536.18 1273.24 1535.93 1278.18C1535.69 1283.11 1535.73 1269.95 1535.69 1288.05C1535.65 1306.14 1535.69 1357.96 1535.69 1386.75C1535.69 1415.54 1535.23 1445.56 1535.69 1460.77C1536.14 1475.99 1537.33 1473.32 1538.4 1478.05C1539.47 1482.78 1542.14 1485.65 1542.1 1489.15C1542.06 1492.65 1539.06 1496.35 1538.15 1499.02C1537.25 1501.69 1535.6 1503.13 1536.67 1505.19C1537.74 1507.24 1540.58 1509.79 1544.57 1511.36C1548.56 1512.92 1556.91 1513.7 1560.61 1514.57C1564.31 1515.43 1565.91 1515.88 1566.78 1516.54C1567.64 1517.2 1565.95 1518.18 1565.79 1518.51L1503.61 1518.51C1503.45 1518.18 1501.76 1517.2 1502.62 1516.54C1503.49 1515.88 1505.09 1515.43 1508.79 1514.57C1512.49 1513.7 1520.84 1512.92 1524.83 1511.36C1528.82 1509.79 1531.66 1507.24 1532.73 1505.19C1533.8 1503.13 1532.15 1501.69 1531.25 1499.02C1530.34 1496.35 1527.34 1492.65 1527.3 1489.15C1527.26 1485.65 1529.93 1482.78 1531 1478.05C1532.07 1473.32 1533.26 1475.99 1533.71 1460.77C1534.17 1445.56 1533.71 1415.54 1533.71 1386.75C1533.71 1357.96 1533.75 1306.14 1533.71 1288.05C1533.67 1269.95 1533.71 1283.11 1533.47 1278.18C1533.22 1273.24 1532.64 1263.37 1532.23 1258.44C1531.82 1253.5 1531.62 1251.86 1531 1248.57C1530.38 1245.28 1528.82 1243.63 1528.53 1238.7C1528.24 1233.76 1529.48 1223.48 1529.27 1218.96C1529.07 1214.44 1528.12 1214.23 1527.3 1211.56C1526.48 1208.88 1524.5 1205.8 1524.34 1202.92C1524.17 1200.04 1525.2 1197.16 1526.31 1194.28C1527.42 1191.41 1531.16 1187.91 1531 1185.65C1530.83 1183.39 1527.59 1182.15 1525.32 1180.71C1523.06 1179.27 1519.15 1177.96 1517.43 1177.01C1515.7 1176.07 1515.29 1175.66 1514.96 1175.04C1514.63 1174.42 1515.37 1173.6 1515.45 1173.31Z" fill="#d9d9d9" stroke="#333" stroke-width="2.9" stroke-linejoin="round"/>
<path d="M1672.59 1173.8C1672.71 1174.01 1673.21 1170.39 1673.33 1175.04C1673.45 1179.69 1673.74 1193.13 1673.33 1201.69C1672.92 1210.24 1671.56 1218.14 1670.86 1226.36C1670.16 1234.59 1669.5 1240.76 1669.13 1251.04C1668.76 1261.32 1668.72 1265.43 1668.64 1288.05C1668.56 1310.67 1668.64 1360.02 1668.64 1386.75C1668.64 1413.48 1668.43 1434.87 1668.64 1448.44C1668.85 1462.01 1669.3 1462.01 1669.87 1468.18C1670.45 1474.35 1670.78 1478.46 1672.09 1485.45C1673.41 1492.44 1676.74 1504.98 1677.77 1510.12C1678.8 1515.26 1678.35 1515.02 1678.26 1516.29C1678.18 1517.57 1677.44 1517.53 1677.28 1517.77L1658.52 1517.77C1658.36 1517.53 1657.62 1517.57 1657.54 1516.29C1657.45 1515.02 1657 1515.26 1658.03 1510.12C1659.06 1504.98 1662.39 1492.44 1663.71 1485.45C1665.02 1478.46 1665.35 1474.35 1665.93 1468.18C1666.5 1462.01 1666.95 1462.01 1667.16 1448.44C1667.37 1434.87 1667.16 1413.48 1667.16 1386.75C1667.16 1360.02 1667.24 1310.67 1667.16 1288.05C1667.08 1265.43 1667.04 1261.32 1666.67 1251.04C1666.3 1240.76 1665.64 1234.59 1664.94 1226.36C1664.24 1218.14 1662.88 1210.24 1662.47 1201.69C1662.06 1193.13 1662.35 1179.69 1662.47 1175.04C1662.59 1170.39 1663.09 1174.01 1663.21 1173.8Z" fill="#f4511e" stroke="#333" stroke-width="2.9" stroke-linejoin="round"/>
<path d="M1772.04 1173.8C1772.21 1174.01 1773.36 1173.68 1773.03 1175.04C1772.7 1176.4 1770.97 1179.56 1770.07 1181.95C1769.17 1184.33 1768.22 1185.65 1767.6 1189.35C1766.99 1193.05 1766.86 1198.81 1766.37 1204.15C1765.88 1209.5 1765.18 1215.67 1764.64 1221.43C1764.11 1227.18 1763.7 1231.71 1763.16 1238.7C1762.63 1245.69 1761.8 1255.15 1761.43 1263.37C1761.06 1271.6 1761.02 1267.49 1760.94 1288.05C1760.86 1308.61 1760.94 1355.91 1760.94 1386.75C1760.94 1417.59 1760.73 1455.84 1760.94 1473.11C1761.15 1490.38 1761.68 1485.04 1762.17 1490.38C1762.67 1495.73 1763.08 1501.28 1763.9 1505.19C1764.72 1509.1 1766.41 1511.89 1767.11 1513.82C1767.81 1515.76 1768.05 1516.09 1768.1 1516.79C1768.14 1517.48 1767.48 1517.81 1767.36 1518.02L1753.04 1518.02C1752.92 1517.81 1752.26 1517.48 1752.3 1516.79C1752.35 1516.09 1752.59 1515.76 1753.29 1513.82C1753.99 1511.89 1755.68 1509.1 1756.5 1505.19C1757.32 1501.28 1757.73 1495.73 1758.23 1490.38C1758.72 1485.04 1759.25 1490.38 1759.46 1473.11C1759.67 1455.84 1759.46 1417.59 1759.46 1386.75C1759.46 1355.91 1759.54 1308.61 1759.46 1288.05C1759.38 1267.49 1759.34 1271.6 1758.97 1263.37C1758.6 1255.15 1757.77 1245.69 1757.24 1238.7C1756.7 1231.71 1756.29 1227.18 1755.76 1221.43C1755.22 1215.67 1754.52 1209.5 1754.03 1204.15C1753.54 1198.81 1753.41 1193.05 1752.8 1189.35C1752.18 1185.65 1751.23 1184.33 1750.33 1181.95C1749.43 1179.56 1747.7 1176.4 1747.37 1175.04C1747.04 1173.68 1748.19 1174.01 1748.36 1173.8Z" fill="#fdd025" stroke="#333" stroke-width="2.9" stroke-linejoin="round"/>
<path d="M1894.15 1173.56C1894.23 1173.85 1895.46 1174.71 1894.64 1175.29C1893.82 1175.86 1894.02 1176.23 1889.21 1177.01C1884.4 1177.79 1871.61 1178.74 1865.77 1179.97C1859.93 1181.21 1855 1182.65 1854.17 1184.41C1853.35 1186.18 1859.31 1188.12 1860.84 1190.58C1862.36 1193.05 1863.51 1196.14 1863.3 1199.22C1863.1 1202.3 1860.63 1205.8 1859.6 1209.09C1858.57 1212.38 1857.63 1214.02 1857.13 1218.96C1856.64 1223.89 1857.05 1234.18 1856.64 1238.7C1856.23 1243.22 1855.16 1244.05 1854.67 1246.1C1854.17 1248.16 1853.89 1244.05 1853.68 1251.04C1853.47 1258.03 1853.47 1265.43 1853.43 1288.05C1853.39 1310.67 1853.43 1355.08 1853.43 1386.75C1853.43 1418.42 1853.27 1460.98 1853.43 1478.05C1853.6 1495.11 1854.46 1485.04 1854.42 1489.15C1854.38 1493.26 1853.15 1499.02 1853.19 1502.72C1853.23 1506.42 1853.19 1509.38 1854.67 1511.36C1856.15 1513.33 1860.34 1513.7 1862.07 1514.57C1863.8 1515.43 1864.66 1515.92 1865.03 1516.54C1865.4 1517.16 1864.41 1517.98 1864.29 1518.27L1840.11 1518.27C1839.99 1517.98 1839 1517.16 1839.37 1516.54C1839.74 1515.92 1840.6 1515.43 1842.33 1514.57C1844.06 1513.7 1848.25 1513.33 1849.73 1511.36C1851.21 1509.38 1851.17 1506.42 1851.21 1502.72C1851.25 1499.02 1850.02 1493.26 1849.98 1489.15C1849.94 1485.04 1850.8 1495.11 1850.97 1478.05C1851.13 1460.98 1850.97 1418.42 1850.97 1386.75C1850.97 1355.08 1851.01 1310.67 1850.97 1288.05C1850.93 1265.43 1850.93 1258.03 1850.72 1251.04C1850.51 1244.05 1850.23 1248.16 1849.73 1246.1C1849.24 1244.05 1848.17 1243.22 1847.76 1238.7C1847.35 1234.18 1847.76 1223.89 1847.27 1218.96C1846.77 1214.02 1845.83 1212.38 1844.8 1209.09C1843.77 1205.8 1841.3 1202.3 1841.1 1199.22C1840.89 1196.14 1842.04 1193.05 1843.56 1190.58C1845.09 1188.12 1851.05 1186.18 1850.23 1184.41C1849.4 1182.65 1844.47 1181.21 1838.63 1179.97C1832.79 1178.74 1820 1177.79 1815.19 1177.01C1810.38 1176.23 1810.58 1175.86 1809.76 1175.29C1808.94 1174.71 1810.17 1173.85 1810.25 1173.56Z" fill="#74c365" stroke="#333" stroke-width="2.9" stroke-linejoin="round"/>
<path d="M1958.31 1173.8C1958.48 1174.01 1959.63 1173.89 1959.3 1175.04C1958.97 1176.19 1957.24 1178.33 1956.34 1180.71C1955.43 1183.1 1954.36 1185.85 1953.87 1189.35C1953.38 1192.85 1953.79 1197.57 1953.38 1201.69C1952.97 1205.8 1952.06 1209.91 1951.4 1214.02C1950.74 1218.14 1950.25 1220.19 1949.43 1226.36C1948.61 1232.53 1947.17 1242.81 1946.47 1251.04C1945.77 1259.26 1945.48 1253.09 1945.23 1275.71C1944.99 1298.33 1945.03 1351.79 1944.99 1386.75C1944.95 1421.71 1944.86 1466.94 1944.99 1485.45C1945.11 1503.95 1945.36 1493.67 1945.73 1497.79C1946.1 1501.9 1946.76 1507.08 1947.21 1510.12C1947.66 1513.17 1948.32 1514.77 1948.44 1516.05C1948.56 1517.32 1948.03 1517.48 1947.95 1517.77L1940.05 1517.77C1939.97 1517.48 1939.44 1517.32 1939.56 1516.05C1939.68 1514.77 1940.34 1513.17 1940.79 1510.12C1941.24 1507.08 1941.9 1501.9 1942.27 1497.79C1942.64 1493.67 1942.89 1503.95 1943.01 1485.45C1943.14 1466.94 1943.05 1421.71 1943.01 1386.75C1942.97 1351.79 1943.01 1298.33 1942.77 1275.71C1942.52 1253.09 1942.23 1259.26 1941.53 1251.04C1940.83 1242.81 1939.39 1232.53 1938.57 1226.36C1937.75 1220.19 1937.26 1218.14 1936.6 1214.02C1935.94 1209.91 1935.03 1205.8 1934.62 1201.69C1934.21 1197.57 1934.62 1192.85 1934.13 1189.35C1933.64 1185.85 1932.57 1183.1 1931.66 1180.71C1930.76 1178.33 1929.03 1176.19 1928.7 1175.04C1928.37 1173.89 1929.52 1174.01 1929.69 1173.8Z" fill="#7b0021" stroke="#333" stroke-width="2.9" stroke-linejoin="round"/>
<circle cx="1120.1" cy="1296" r="10" fill="#fff"/><circle cx="1120.1" cy="1296" r="6.3" fill="#000"/>
<circle cx="1120.1" cy="1237.5" r="10" fill="#fff"/><circle cx="1120.1" cy="1237.5" r="6.3" fill="#0000ff"/>
<text x="1136" y="1304.3" font-size="26.6" stroke="#000">65</text>
<circle cx="1235.4" cy="1304.1" r="10" fill="#fff"/><circle cx="1235.4" cy="1304.1" r="6.3" fill="#000"/>
<circle cx="1235.4" cy="1243.2" r="10" fill="#fff"/><circle cx="1235.4" cy="1243.2" r="6.3" fill="#0000ff"/>
<text x="1255.5" y="1313.5" font-size="26.6" stroke="#000">62</text>
<circle cx="1327.4" cy="1260.4" r="10" fill="#fff"/><circle cx="1327.4" cy="1260.4" r="6.3" fill="#000"/>
<circle cx="1327.4" cy="1206.1" r="10" fill="#fff"/><circle cx="1327.4" cy="1206.1" r="6.3" fill="#0000ff"/>
<text x="1343" y="1268.8" font-size="26.6" stroke="#000">75</text>
<circle cx="1442.4" cy="1280.6" r="10" fill="#fff"/><circle cx="1442.4" cy="1280.6" r="6.3" fill="#000"/>
<circle cx="1442.4" cy="1227.6" r="10" fill="#fff"/><circle cx="1442.4" cy="1227.6" r="6.3" fill="#0000ff"/>
<text x="1460" y="1288.8" font-size="26.6" stroke="#000">69</text>
<circle cx="1534.7" cy="1345.5" r="10" fill="#fff"/><circle cx="1534.7" cy="1345.5" r="6.3" fill="#000"/>
<circle cx="1534.7" cy="1312" r="10" fill="#fff"/><circle cx="1534.7" cy="1312" r="6.3" fill="#0000ff"/>
<text x="1554.3" y="1354.2" font-size="26.6" stroke="#000">50</text>
<circle cx="1667.9" cy="1364.5" r="10" fill="#fff"/><circle cx="1667.9" cy="1364.5" r="6.3" fill="#000"/>
<circle cx="1667.9" cy="1392.9" r="10" fill="#fff"/><circle cx="1667.9" cy="1392.9" r="6.3" fill="#0000ff"/>
<text x="1686.3" y="1373.2" font-size="26.6" stroke="#000">45</text>
<circle cx="1760.2" cy="1291.2" r="10" fill="#fff"/><circle cx="1760.2" cy="1291.2" r="6.3" fill="#000"/>
<circle cx="1760.2" cy="1215.3" r="10" fill="#fff"/><circle cx="1760.2" cy="1215.3" r="6.3" fill="#0000ff"/>
<text x="1779" y="1298.6" font-size="26.6" stroke="#000">66</text>
<circle cx="1852.2" cy="1258.9" r="10" fill="#fff"/><circle cx="1852.2" cy="1258.9" r="6.3" fill="#000"/>
<circle cx="1852.2" cy="1206.1" r="10" fill="#fff"/><circle cx="1852.2" cy="1206.1" r="6.3" fill="#0000ff"/>
<text x="1871.3" y="1267.6" font-size="26.6" stroke="#000">76</text>
<circle cx="1944" cy="1257.2" r="10" fill="#fff"/><circle cx="1944" cy="1257.2" r="6.3" fill="#000"/>
<circle cx="1944" cy="1209.1" r="10" fill="#fff"/><circle cx="1944" cy="1209.1" r="6.3" fill="#0000ff"/>
<text x="1963.8" y="1265.8" font-size="26.6" stroke="#000">76</text>
<text x="1126.1" y="1563" font-size="27.4" text-anchor="end" stroke="#000" transform="rotate(-45 1126.1 1563)">all</text>
<text x="1241.4" y="1563" font-size="27.4" text-anchor="end" stroke="#000" transform="rotate(-45 1241.4 1563)">intergenic</text>
<text x="1333.4" y="1563" font-size="27.4" text-anchor="end" stroke="#000" transform="rotate(-45 1333.4 1563)">genic</text>
<text x="1448.4" y="1563" font-size="27.4" text-anchor="end" stroke="#000" transform="rotate(-45 1448.4 1563)">repeats</text>
<text x="1540.7" y="1563" font-size="27.4" text-anchor="end" stroke="#000" transform="rotate(-45 1540.7 1563)">non-repeats</text>
<text x="1673.9" y="1563" font-size="27.4" text-anchor="end" stroke="#000" transform="rotate(-45 1673.9 1563)">5′-UTR</text>
<text x="1766.2" y="1563" font-size="27.4" text-anchor="end" stroke="#000" transform="rotate(-45 1766.2 1563)">cds</text>
<text x="1858.2" y="1563" font-size="27.4" text-anchor="end" stroke="#000" transform="rotate(-45 1858.2 1563)">intron</text>
<text x="1950" y="1563" font-size="27.4" text-anchor="end" stroke="#000" transform="rotate(-45 1950 1563)">3′-UTR</text>
<rect x="1842" y="1644" width="135" height="58" fill="#fff" stroke="#e2e2e2" stroke-width="2.4"/>
<circle cx="1859.4" cy="1657" r="6" fill="#000"/>
<circle cx="1859.4" cy="1687" r="6" fill="#0000ff"/>
<text x="1879" y="1663.6" font-size="27.6" stroke="#000">mean</text>
<text x="1879" y="1693.6" font-size="27.6" stroke="#000">median</text>
</g>
</svg>
</body></html>
